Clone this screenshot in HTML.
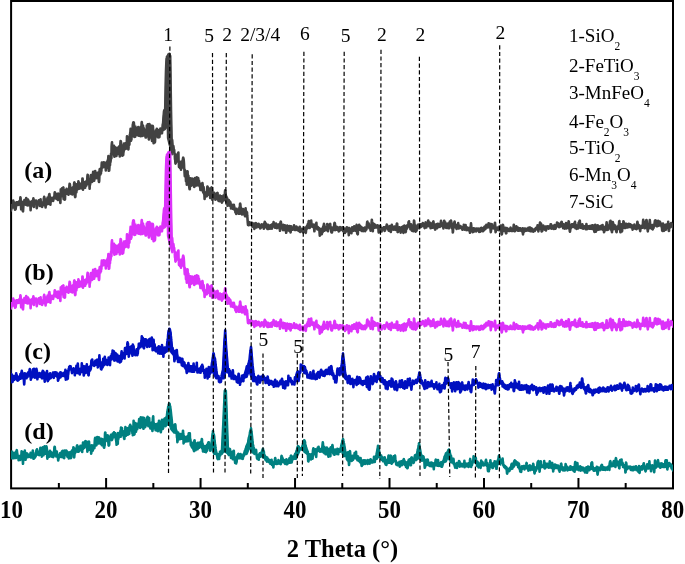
<!DOCTYPE html>
<html><head><meta charset="utf-8"><style>
html,body{margin:0;padding:0;background:#fff;overflow:hidden;width:685px;height:564px;}
svg{display:block;}
.txt{filter:grayscale(1);}
.tb{font-family:"Liberation Serif",serif;font-weight:bold;font-size:25.5px;fill:#000;}
.pl{font-family:"Liberation Serif",serif;font-size:19.5px;fill:#000;}
.lg{font-family:"Liberation Serif",serif;font-size:19px;fill:#000;}
.sb{font-size:11.5px;}
.sl{font-family:"Liberation Serif",serif;font-weight:bold;font-size:24px;fill:#000;}
.xt{font-family:"Liberation Serif",serif;font-weight:bold;font-size:25px;fill:#000;}
</style></head><body>
<svg width="685" height="564" viewBox="0 0 685 564">
<rect width="685" height="564" fill="#fff"/>
<defs><clipPath id="cp"><rect x="11.1" y="0" width="661.9" height="489"/></clipPath></defs>
<rect x="11.1" y="1" width="661.9" height="487.4" fill="none" stroke="#000" stroke-width="2"/>
<g clip-path="url(#cp)">
<polygon points="163.0,124.0 163.2,121.5 163.4,119.0 163.6,116.5 163.8,114.0 164.0,113.4 164.2,112.9 164.4,112.3 164.6,111.7 164.8,111.1 165.0,110.6 165.2,110.0 165.4,99.7 165.6,89.4 165.8,79.1 166.0,71.5 166.2,66.5 166.4,61.5 166.6,58.8 166.8,58.3 167.0,57.8 167.2,57.3 167.4,56.9 167.6,56.7 167.8,56.6 168.0,56.4 168.2,56.2 168.4,56.0 168.6,55.9 168.8,55.7 169.0,55.5 169.2,55.6 169.4,55.7 169.6,55.7 169.8,55.8 170.0,55.9 170.2,56.0 170.4,69.5 170.6,83.0 170.8,96.5 171.0,110.0 171.2,120.0 171.4,130.0 171.6,140.0 171.8,140.9 172.0,141.7 172.2,142.6 172.2,154.8 172.0,154.6 171.8,153.9 171.6,153.2 171.4,152.5 171.2,151.8 171.0,151.1 170.8,150.4 170.6,149.7 170.4,148.9 170.2,148.2 170.0,147.5 169.8,146.8 169.6,146.1 169.4,145.4 169.2,144.7 169.0,144.0 168.8,143.1 168.6,142.3 168.4,141.4 168.2,140.6 168.0,139.7 167.8,138.9 167.6,138.0 167.4,128.0 167.2,119.5 167.0,122.0 166.8,123.2 166.6,124.4 166.4,125.6 166.2,126.8 166.0,128.0 165.8,128.3 165.6,128.6 165.4,129.0 165.2,129.3 165.0,129.6 164.8,129.7 164.6,129.8 164.4,129.9 164.2,130.0 164.0,130.2 163.8,130.3 163.6,130.4 163.4,130.5 163.2,130.6 163.0,130.7" fill="#424242" stroke="#424242" stroke-width="1.5" stroke-linejoin="round"/>
<polyline points="9.0,205.7 9.2,206.6 9.4,205.8 9.6,202.8 9.8,206.9 10.0,206.2 10.2,204.7 10.4,208.6 10.6,209.8 10.8,210.7 11.0,210.1 11.2,209.6 11.4,206.0 11.6,205.8 11.8,205.3 12.0,207.4 12.2,206.5 12.4,206.0 12.6,205.2 12.8,206.3 13.0,204.8 13.2,200.5 13.4,204.0 13.6,207.5 13.8,202.1 14.0,203.6 14.2,206.7 14.4,206.2 14.6,207.3 14.8,207.2 15.0,209.6 15.2,204.5 15.4,205.8 15.6,209.3 15.8,207.2 16.0,207.0 16.2,204.7 16.4,202.3 16.6,205.5 16.8,205.1 17.0,202.4 17.2,203.2 17.4,204.1 17.6,202.3 17.8,203.7 18.0,203.8 18.2,203.5 18.4,202.4 18.6,204.3 18.8,204.8 19.0,203.6 19.2,201.4 19.4,204.2 19.6,201.8 19.8,204.3 20.0,200.8 20.2,200.6 20.4,197.3 20.6,198.1 20.8,202.5 21.0,206.6 21.2,209.3 21.4,207.0 21.6,203.5 21.8,203.0 22.0,201.8 22.2,203.1 22.4,207.4 22.6,209.5 22.8,211.2 23.0,211.3 23.2,208.7 23.4,205.2 23.6,204.7 23.8,203.2 24.0,204.4 24.2,202.1 24.4,200.1 24.6,202.6 24.8,202.0 25.0,204.4 25.2,203.3 25.4,200.1 25.6,200.8 25.8,204.8 26.0,202.4 26.2,198.0 26.4,199.8 26.6,203.5 26.8,204.3 27.0,205.1 27.2,204.0 27.4,203.3 27.6,203.0 27.8,205.5 28.0,199.5 28.2,203.2 28.4,203.6 28.6,200.8 28.8,204.0 29.0,202.1 29.2,204.9 29.4,203.0 29.6,204.5 29.8,205.4 30.0,203.8 30.2,202.5 30.4,205.3 30.6,210.2 30.8,206.8 31.0,201.9 31.2,203.1 31.4,202.4 31.6,204.4 31.8,202.8 32.0,202.8 32.2,201.4 32.4,203.7 32.6,200.8 32.8,204.0 33.0,205.5 33.2,199.8 33.4,198.4 33.6,203.7 33.8,207.0 34.0,200.6 34.2,200.1 34.4,203.5 34.6,200.8 34.8,201.3 35.0,201.5 35.2,203.2 35.4,201.4 35.6,202.6 35.8,201.7 36.0,200.5 36.2,201.4 36.4,202.1 36.6,207.2 36.8,208.2 37.0,205.7 37.2,206.8 37.4,202.0 37.6,202.0 37.8,203.2 38.0,201.5 38.2,201.9 38.4,203.2 38.6,203.0 38.8,200.4 39.0,204.2 39.2,201.6 39.4,200.8 39.6,201.2 39.8,202.2 40.0,206.0 40.2,200.9 40.4,203.5 40.6,199.4 40.8,203.3 41.0,205.1 41.2,203.0 41.4,202.2 41.6,203.9 41.8,204.8 42.0,204.8 42.2,207.0 42.4,203.9 42.6,202.3 42.8,203.2 43.0,203.3 43.2,203.5 43.4,203.2 43.6,203.5 43.8,198.3 44.0,199.5 44.2,196.9 44.4,197.6 44.6,202.3 44.8,205.4 45.0,203.8 45.2,203.0 45.4,200.9 45.6,207.5 45.8,204.1 46.0,200.2 46.2,200.8 46.4,202.3 46.6,199.3 46.8,202.4 47.0,201.1 47.2,204.3 47.4,203.8 47.6,197.5 47.8,201.9 48.0,198.9 48.2,203.9 48.4,202.1 48.6,201.4 48.8,196.3 49.0,195.9 49.2,194.4 49.4,194.0 49.6,195.7 49.8,197.9 50.0,201.3 50.2,198.8 50.4,204.6 50.6,199.1 50.8,200.3 51.0,201.7 51.2,199.4 51.4,200.0 51.6,199.3 51.8,200.0 52.0,197.9 52.2,199.2 52.4,199.5 52.6,199.1 52.8,199.8 53.0,199.0 53.2,200.9 53.4,198.7 53.6,198.9 53.8,197.8 54.0,197.9 54.2,196.4 54.4,197.7 54.6,193.2 54.8,192.3 55.0,192.4 55.2,193.5 55.4,194.5 55.6,194.3 55.8,198.3 56.0,197.8 56.2,194.8 56.4,198.6 56.6,195.7 56.8,194.8 57.0,196.9 57.2,196.2 57.4,196.9 57.6,193.7 57.8,199.9 58.0,195.1 58.2,193.6 58.4,197.3 58.6,195.3 58.8,196.5 59.0,195.2 59.2,195.7 59.4,196.3 59.6,194.4 59.8,197.2 60.0,197.7 60.2,201.6 60.4,203.0 60.6,194.6 60.8,189.3 61.0,189.3 61.2,193.6 61.4,190.3 61.6,189.6 61.8,189.2 62.0,188.4 62.2,190.6 62.4,192.5 62.6,196.1 62.8,192.1 63.0,189.0 63.2,188.1 63.4,187.4 63.6,199.1 63.8,189.8 64.0,191.3 64.2,196.3 64.4,190.9 64.6,190.5 64.8,199.7 65.0,199.3 65.2,193.8 65.4,191.4 65.6,193.0 65.8,190.0 66.0,192.8 66.2,192.3 66.4,190.3 66.6,188.9 66.8,191.2 67.0,189.7 67.2,193.7 67.4,191.8 67.6,193.1 67.8,191.7 68.0,191.9 68.2,189.6 68.4,192.7 68.6,194.8 68.8,190.4 69.0,189.7 69.2,189.7 69.4,185.6 69.6,183.8 69.8,183.9 70.0,185.1 70.2,191.9 70.4,190.9 70.6,191.6 70.8,193.0 71.0,190.3 71.2,194.0 71.4,189.7 71.6,188.8 71.8,188.2 72.0,193.1 72.2,192.1 72.4,194.5 72.6,187.5 72.8,193.9 73.0,190.9 73.2,189.6 73.4,189.0 73.6,190.1 73.8,190.4 74.0,185.2 74.2,182.9 74.4,182.4 74.6,183.0 74.8,191.1 75.0,196.5 75.2,197.1 75.4,196.5 75.6,190.9 75.8,190.9 76.0,189.2 76.2,190.2 76.4,192.3 76.6,184.2 76.8,189.2 77.0,186.0 77.2,189.6 77.4,185.2 77.6,186.8 77.8,188.1 78.0,187.0 78.2,184.0 78.4,181.4 78.6,182.1 78.8,186.1 79.0,185.9 79.2,183.2 79.4,188.6 79.6,187.5 79.8,188.4 80.0,185.6 80.2,188.1 80.4,183.8 80.6,187.5 80.8,184.9 81.0,187.5 81.2,188.2 81.4,184.2 81.6,185.7 81.8,185.9 82.0,188.4 82.2,185.6 82.4,178.5 82.6,178.5 82.8,182.0 83.0,189.8 83.2,181.7 83.4,184.0 83.6,188.1 83.8,182.0 84.0,182.2 84.2,186.1 84.4,187.0 84.6,183.0 84.8,185.7 85.0,184.6 85.2,187.6 85.4,184.0 85.6,186.1 85.8,181.6 86.0,183.0 86.2,183.0 86.4,185.7 86.6,184.2 86.8,180.9 87.0,184.1 87.2,181.2 87.4,176.3 87.6,174.8 87.8,175.1 88.0,175.2 88.2,181.0 88.4,181.9 88.6,179.2 88.8,182.8 89.0,179.0 89.2,183.0 89.4,185.0 89.6,188.8 89.8,182.3 90.0,184.9 90.2,183.8 90.4,181.0 90.6,182.8 90.8,177.6 91.0,175.1 91.2,181.6 91.4,176.9 91.6,178.7 91.8,176.7 92.0,181.9 92.2,181.4 92.4,177.5 92.6,181.3 92.8,176.0 93.0,173.1 93.2,171.8 93.4,172.7 93.6,176.4 93.8,179.0 94.0,177.6 94.2,180.8 94.4,176.8 94.6,177.3 94.8,175.2 95.0,175.2 95.2,171.1 95.4,176.6 95.6,175.0 95.8,176.3 96.0,175.2 96.2,178.1 96.4,176.5 96.6,173.5 96.8,173.2 97.0,174.2 97.2,173.6 97.4,177.7 97.6,178.1 97.8,176.6 98.0,175.0 98.2,172.6 98.4,173.5 98.6,175.9 98.8,181.1 99.0,181.9 99.2,180.9 99.4,176.2 99.6,170.0 99.8,169.0 100.0,170.0 100.2,170.6 100.4,174.4 100.6,169.5 100.8,172.5 101.0,173.2 101.2,168.6 101.4,170.9 101.6,165.0 101.8,162.6 102.0,165.4 102.2,167.1 102.4,166.3 102.6,166.1 102.8,166.7 103.0,167.3 103.2,163.9 103.4,165.8 103.6,162.3 103.8,166.1 104.0,166.9 104.2,165.5 104.4,165.6 104.6,166.3 104.8,162.8 105.0,163.7 105.2,165.7 105.4,167.0 105.6,165.4 105.8,170.5 106.0,164.1 106.2,167.1 106.4,167.8 106.6,164.2 106.8,162.4 107.0,161.6 107.2,165.2 107.4,167.7 107.6,165.0 107.8,162.5 108.0,159.3 108.2,159.2 108.4,156.1 108.6,168.3 108.8,170.8 109.0,170.3 109.2,170.5 109.4,167.7 109.6,165.5 109.8,161.2 110.0,165.1 110.2,159.2 110.4,162.2 110.6,161.1 110.8,159.2 111.0,153.8 111.2,154.7 111.4,158.2 111.6,146.3 111.8,143.9 112.0,142.3 112.2,145.9 112.4,147.8 112.6,152.9 112.8,148.4 113.0,154.1 113.2,153.1 113.4,147.0 113.6,153.2 113.8,152.3 114.0,145.8 114.2,152.1 114.4,156.6 114.6,147.8 114.8,146.9 115.0,148.4 115.2,149.9 115.4,149.7 115.6,152.9 115.8,151.8 116.0,147.7 116.2,152.5 116.4,156.0 116.6,154.2 116.8,153.6 117.0,150.8 117.2,153.6 117.4,148.0 117.6,152.9 117.8,150.5 118.0,154.0 118.2,152.0 118.4,147.3 118.6,150.7 118.8,153.5 119.0,146.6 119.2,148.1 119.4,151.4 119.6,153.2 119.8,156.4 120.0,155.3 120.2,149.8 120.4,143.5 120.6,141.0 120.8,141.3 121.0,142.1 121.2,149.4 121.4,153.7 121.6,153.7 121.8,149.8 122.0,151.9 122.2,150.9 122.4,155.7 122.6,151.4 122.8,145.4 123.0,151.5 123.2,154.9 123.4,151.8 123.6,152.0 123.8,149.3 124.0,143.6 124.2,143.6 124.4,144.7 124.6,147.4 124.8,148.4 125.0,149.2 125.2,145.6 125.4,149.0 125.6,144.8 125.8,143.1 126.0,148.4 126.2,148.4 126.4,145.0 126.6,143.7 126.8,143.0 127.0,136.2 127.2,140.8 127.4,140.4 127.6,137.3 127.8,137.7 128.0,144.5 128.2,147.2 128.4,149.5 128.6,147.0 128.8,140.7 129.0,140.9 129.2,145.0 129.4,144.5 129.6,138.2 129.8,134.8 130.0,138.9 130.2,133.0 130.4,132.0 130.6,128.9 130.8,131.1 131.0,140.7 131.2,133.4 131.4,139.6 131.6,134.9 131.8,136.7 132.0,136.2 132.2,130.8 132.4,133.6 132.6,128.7 132.8,124.7 133.0,124.1 133.2,122.8 133.4,122.3 133.6,122.3 133.8,122.5 134.0,124.1 134.2,126.0 134.4,136.9 134.6,136.5 134.8,130.9 135.0,130.6 135.2,136.8 135.4,126.5 135.6,130.1 135.8,134.6 136.0,128.9 136.2,130.1 136.4,130.4 136.6,133.6 136.8,131.9 137.0,132.7 137.2,133.4 137.4,131.7 137.6,135.2 137.8,129.4 138.0,127.7 138.2,127.0 138.4,127.5 138.6,130.5 138.8,135.7 139.0,133.2 139.2,130.8 139.4,129.5 139.6,131.3 139.8,131.9 140.0,131.5 140.2,128.9 140.4,131.8 140.6,136.3 140.8,126.8 141.0,132.3 141.2,126.8 141.4,128.0 141.6,123.1 141.8,122.1 142.0,125.4 142.2,135.9 142.4,132.8 142.6,135.6 142.8,132.0 143.0,125.6 143.2,133.7 143.4,131.0 143.6,127.8 143.8,134.8 144.0,133.5 144.2,131.1 144.4,135.4 144.6,130.2 144.8,134.9 145.0,130.1 145.2,134.9 145.4,129.9 145.6,137.4 145.8,134.3 146.0,137.4 146.2,131.0 146.4,132.0 146.6,135.9 146.8,125.6 147.0,130.0 147.2,136.2 147.4,132.4 147.6,130.4 147.8,124.4 148.0,124.7 148.2,124.4 148.4,125.1 148.6,131.9 148.8,139.2 149.0,139.5 149.2,136.2 149.4,124.0 149.6,125.7 149.8,129.3 150.0,131.7 150.2,129.1 150.4,128.4 150.6,125.4 150.8,137.4 151.0,128.3 151.2,136.9 151.4,136.8 151.6,133.1 151.8,131.9 152.0,140.9 152.2,140.5 152.4,133.2 152.6,126.4 152.8,125.9 153.0,127.3 153.2,134.8 153.4,138.0 153.6,143.3 153.8,141.0 154.0,136.9 154.2,133.3 154.4,135.6 154.6,141.8 154.8,142.4 155.0,141.8 155.2,138.0 155.4,135.5 155.6,132.2 155.8,130.4 156.0,135.3 156.2,134.8 156.4,130.5 156.6,135.9 156.8,128.7 157.0,133.6 157.2,132.1 157.4,132.4 157.6,130.7 157.8,136.9 158.0,135.9 158.2,137.5 158.4,134.6 158.6,130.0 158.8,132.8 159.0,130.3 159.2,135.3 159.4,137.2 159.6,134.6 159.8,131.5 160.0,132.1 160.2,133.8 160.4,128.5 160.6,133.4 160.8,133.4 161.0,130.9 161.2,131.0 161.4,132.5 161.6,129.0 161.8,128.6 162.0,133.3 162.2,129.2 162.4,129.0 162.6,125.8 162.8,124.1 163.0,124.5 163.2,121.9 163.4,118.8 163.6,116.1 163.8,114.1 164.0,111.3 164.2,110.6 164.4,110.2 164.6,111.6 164.8,109.7 165.0,110.4 165.2,110.2 165.4,99.7 165.6,89.5 165.8,79.1 166.0,71.4 166.2,66.2 166.4,61.7 166.6,58.5 166.8,59.2 167.0,56.6 167.2,56.7 167.4,56.6 167.6,57.5 167.8,57.5 168.0,55.4 168.2,54.9 168.4,54.4 168.6,56.4 168.8,55.1 169.0,54.5 169.2,55.0 169.4,53.7 169.6,54.1 169.8,56.0 170.0,55.7 170.2,55.9 170.4,69.4 170.6,83.0 170.8,96.6 171.0,109.9 171.2,120.0 171.4,129.9 171.6,140.0 171.8,139.6 172.0,139.7 172.2,140.4 172.4,143.0 172.6,145.4 172.8,145.7 173.0,146.0 173.2,149.0 173.4,146.1 173.6,147.7 173.8,152.4 174.0,149.5 174.2,150.1 174.4,154.1 174.6,153.2 174.8,155.6 175.0,159.3 175.2,159.7 175.4,163.0 175.6,163.6 175.8,162.6 176.0,155.2 176.2,158.1 176.4,154.8 176.6,156.8 176.8,158.0 177.0,154.5 177.2,161.5 177.4,157.9 177.6,159.6 177.8,155.0 178.0,153.3 178.2,154.4 178.4,152.5 178.6,162.0 178.8,161.0 179.0,166.9 179.2,166.9 179.4,166.2 179.6,167.0 179.8,166.9 180.0,168.0 180.2,167.0 180.4,167.0 180.6,166.1 180.8,161.7 181.0,169.6 181.2,163.4 181.4,162.8 181.6,165.7 181.8,166.4 182.0,166.3 182.2,163.4 182.4,167.5 182.6,160.3 182.8,160.4 183.0,158.3 183.2,157.7 183.4,158.4 183.6,159.1 183.8,161.2 184.0,163.9 184.2,168.9 184.4,169.2 184.6,173.2 184.8,176.1 185.0,170.2 185.2,173.8 185.4,175.7 185.6,175.6 185.8,176.2 186.0,181.1 186.2,180.6 186.4,181.0 186.6,180.9 186.8,184.6 187.0,177.4 187.2,172.3 187.4,171.2 187.6,171.5 187.8,179.4 188.0,178.2 188.2,180.8 188.4,175.8 188.6,182.7 188.8,178.7 189.0,179.5 189.2,186.6 189.4,188.2 189.6,189.3 189.8,189.3 190.0,180.9 190.2,181.6 190.4,178.2 190.6,181.7 190.8,183.9 191.0,178.6 191.2,185.7 191.4,180.9 191.6,179.0 191.8,181.4 192.0,183.6 192.2,178.7 192.4,181.8 192.6,178.8 192.8,184.8 193.0,182.4 193.2,181.1 193.4,184.6 193.6,179.4 193.8,181.4 194.0,186.6 194.2,182.2 194.4,186.9 194.6,185.0 194.8,181.4 195.0,178.0 195.2,179.0 195.4,179.4 195.6,181.3 195.8,181.5 196.0,180.2 196.2,183.8 196.4,184.6 196.6,185.5 196.8,177.4 197.0,177.9 197.2,179.0 197.4,180.2 197.6,184.4 197.8,182.8 198.0,178.9 198.2,178.1 198.4,180.9 198.6,185.5 198.8,184.5 199.0,180.8 199.2,183.1 199.4,185.7 199.6,183.9 199.8,186.6 200.0,187.0 200.2,185.6 200.4,190.0 200.6,184.1 200.8,188.5 201.0,185.8 201.2,185.5 201.4,188.8 201.6,186.6 201.8,190.1 202.0,184.3 202.2,183.8 202.4,183.0 202.6,184.2 202.8,186.6 203.0,188.3 203.2,192.4 203.4,187.9 203.6,187.1 203.8,190.2 204.0,193.2 204.2,194.1 204.4,194.1 204.6,199.0 204.8,194.2 205.0,196.3 205.2,194.3 205.4,196.8 205.6,194.1 205.8,195.8 206.0,195.6 206.2,193.2 206.4,192.0 206.6,191.7 206.8,196.1 207.0,191.1 207.2,188.1 207.4,186.5 207.6,186.6 207.8,188.4 208.0,192.5 208.2,189.5 208.4,194.0 208.6,193.1 208.8,194.4 209.0,194.0 209.2,195.1 209.4,193.1 209.6,194.5 209.8,188.5 210.0,192.9 210.2,198.0 210.4,192.8 210.6,192.8 210.8,192.9 211.0,188.7 211.2,192.4 211.4,188.0 211.6,187.4 211.8,188.7 212.0,190.1 212.2,197.8 212.4,199.8 212.6,199.5 212.8,194.0 213.0,197.7 213.2,192.6 213.4,193.0 213.6,194.3 213.8,193.1 214.0,192.7 214.2,194.1 214.4,195.9 214.6,195.5 214.8,197.9 215.0,195.8 215.2,194.9 215.4,199.7 215.6,196.1 215.8,198.5 216.0,197.1 216.2,198.8 216.4,193.6 216.6,195.5 216.8,195.9 217.0,196.5 217.2,193.1 217.4,197.5 217.6,193.0 217.8,199.0 218.0,199.8 218.2,200.1 218.4,196.6 218.6,201.0 218.8,197.5 219.0,196.9 219.2,197.5 219.4,197.8 219.6,199.9 219.8,201.2 220.0,195.5 220.2,198.5 220.4,201.3 220.6,200.0 220.8,200.6 221.0,196.5 221.2,201.3 221.4,196.3 221.6,199.7 221.8,201.8 222.0,202.6 222.2,200.1 222.4,200.6 222.6,197.6 222.8,197.7 223.0,200.8 223.2,198.4 223.4,198.0 223.6,195.3 223.8,198.3 224.0,199.2 224.2,196.1 224.4,196.5 224.6,200.0 224.8,194.3 225.0,191.6 225.2,190.3 225.4,190.9 225.6,192.4 225.8,197.5 226.0,196.5 226.2,201.7 226.4,196.5 226.6,197.8 226.8,200.4 227.0,198.4 227.2,198.4 227.4,202.7 227.6,205.8 227.8,201.5 228.0,201.9 228.2,200.1 228.4,199.8 228.6,202.3 228.8,200.1 229.0,200.8 229.2,201.9 229.4,203.6 229.6,202.1 229.8,205.7 230.0,201.5 230.2,205.9 230.4,202.2 230.6,203.8 230.8,205.1 231.0,208.4 231.2,206.7 231.4,204.6 231.6,208.0 231.8,205.5 232.0,204.8 232.2,207.4 232.4,207.0 232.6,208.8 232.8,206.4 233.0,208.3 233.2,209.0 233.4,208.6 233.6,207.1 233.8,204.8 234.0,206.0 234.2,206.4 234.4,209.0 234.6,209.2 234.8,210.1 235.0,208.6 235.2,210.8 235.4,212.3 235.6,211.4 235.8,213.0 236.0,212.4 236.2,214.0 236.4,211.4 236.6,208.9 236.8,212.3 237.0,211.2 237.2,209.8 237.4,212.4 237.6,211.7 237.8,211.9 238.0,210.5 238.2,211.3 238.4,211.3 238.6,213.7 238.8,209.5 239.0,210.6 239.2,211.2 239.4,207.6 239.6,207.7 239.8,213.8 240.0,204.1 240.2,203.7 240.4,204.5 240.6,208.9 240.8,207.4 241.0,209.3 241.2,212.3 241.4,208.7 241.6,212.2 241.8,211.8 242.0,214.5 242.2,210.7 242.4,213.6 242.6,213.1 242.8,211.2 243.0,209.0 243.2,214.3 243.4,209.6 243.6,211.2 243.8,213.5 244.0,213.9 244.2,210.7 244.4,212.2 244.6,211.9 244.8,214.3 245.0,216.2 245.2,209.6 245.4,214.2 245.6,208.4 245.8,212.8 246.0,211.0 246.2,216.1 246.4,213.3 246.6,211.9 246.8,212.4 247.0,212.3 247.2,215.5 247.4,217.4 247.6,220.1 247.8,222.9 248.0,224.8 248.2,222.3 248.4,221.8 248.6,222.9 248.8,225.3 249.0,223.5 249.2,223.1 249.4,224.1 249.6,222.2 249.8,222.6 250.0,224.8 250.2,223.8 250.4,223.6 250.6,224.7 250.8,223.5 251.0,223.4 251.2,223.8 251.4,225.2 251.6,224.5 251.8,222.9 252.0,224.0 252.2,225.3 252.4,226.8 252.6,223.0 252.8,225.0 253.0,224.2 253.2,225.6 253.4,225.1 253.6,226.4 253.8,225.3 254.0,224.3 254.2,226.3 254.4,228.9 254.6,227.6 254.8,228.1 255.0,226.9 255.2,223.4 255.4,225.4 255.6,223.4 255.8,223.1 256.0,226.2 256.2,226.0 256.4,224.1 256.6,227.5 256.8,224.3 257.0,224.2 257.2,226.5 257.4,226.0 257.6,225.6 257.8,225.8 258.0,226.2 258.2,225.8 258.4,225.8 258.6,223.7 258.8,224.3 259.0,226.8 259.2,225.2 259.4,226.7 259.6,227.5 259.8,225.5 260.0,226.3 260.2,228.4 260.4,226.7 260.6,228.1 260.8,227.7 261.0,226.7 261.2,225.6 261.4,224.6 261.6,224.3 261.8,226.2 262.0,226.2 262.2,225.4 262.4,226.6 262.6,224.8 262.8,226.9 263.0,225.6 263.2,225.6 263.4,225.6 263.6,225.5 263.8,228.6 264.0,223.8 264.2,225.1 264.4,224.8 264.6,222.8 264.8,221.7 265.0,225.1 265.2,223.5 265.4,224.6 265.6,226.9 265.8,224.6 266.0,223.6 266.2,227.5 266.4,227.5 266.6,227.5 266.8,226.1 267.0,227.0 267.2,225.7 267.4,228.9 267.6,227.9 267.8,227.9 268.0,224.7 268.2,228.1 268.4,228.9 268.6,228.6 268.8,228.1 269.0,227.1 269.2,226.7 269.4,227.8 269.6,227.5 269.8,227.3 270.0,226.5 270.2,228.8 270.4,225.3 270.6,226.6 270.8,225.9 271.0,227.7 271.2,228.1 271.4,227.8 271.6,227.2 271.8,224.5 272.0,228.6 272.2,226.7 272.4,225.9 272.6,226.0 272.8,224.7 273.0,224.5 273.2,223.5 273.4,222.9 273.6,222.0 273.8,225.0 274.0,226.5 274.2,226.6 274.4,225.8 274.6,226.5 274.8,227.2 275.0,225.5 275.2,227.8 275.4,223.9 275.6,224.6 275.8,225.0 276.0,223.5 276.2,224.9 276.4,227.6 276.6,227.6 276.8,226.2 277.0,228.1 277.2,226.4 277.4,225.5 277.6,226.4 277.8,225.9 278.0,227.0 278.2,224.5 278.4,227.4 278.6,225.7 278.8,227.3 279.0,224.6 279.2,225.9 279.4,226.5 279.6,228.8 279.8,228.0 280.0,230.8 280.2,227.1 280.4,222.7 280.6,222.1 280.8,221.6 281.0,222.5 281.2,227.0 281.4,227.4 281.6,226.8 281.8,227.0 282.0,228.2 282.2,227.9 282.4,226.6 282.6,226.8 282.8,228.4 283.0,230.2 283.2,224.7 283.4,228.5 283.6,227.4 283.8,228.5 284.0,228.6 284.2,227.6 284.4,226.3 284.6,225.8 284.8,225.3 285.0,230.3 285.2,230.1 285.4,230.3 285.6,229.2 285.8,226.8 286.0,230.4 286.2,232.8 286.4,231.6 286.6,226.6 286.8,229.1 287.0,226.7 287.2,225.5 287.4,226.3 287.6,226.7 287.8,227.8 288.0,226.7 288.2,226.2 288.4,227.7 288.6,230.2 288.8,227.3 289.0,228.6 289.2,228.2 289.4,231.0 289.6,226.0 289.8,229.4 290.0,226.7 290.2,227.5 290.4,227.9 290.6,232.5 290.8,230.0 291.0,226.4 291.2,228.6 291.4,227.4 291.6,228.1 291.8,228.4 292.0,228.6 292.2,228.3 292.4,228.8 292.6,229.0 292.8,229.6 293.0,228.2 293.2,227.8 293.4,227.5 293.6,228.1 293.8,226.0 294.0,225.2 294.2,226.2 294.4,229.1 294.6,229.1 294.8,229.9 295.0,227.7 295.2,227.9 295.4,228.8 295.6,227.8 295.8,229.9 296.0,227.7 296.2,229.2 296.4,226.6 296.6,228.0 296.8,228.8 297.0,228.9 297.2,227.3 297.4,229.4 297.6,230.3 297.8,230.0 298.0,228.6 298.2,228.7 298.4,228.1 298.6,230.0 298.8,230.9 299.0,228.8 299.2,227.7 299.4,229.7 299.6,230.3 299.8,226.9 300.0,229.8 300.2,232.0 300.4,230.7 300.6,230.4 300.8,230.4 301.0,231.2 301.2,229.2 301.4,229.3 301.6,230.8 301.8,229.7 302.0,230.8 302.2,228.7 302.4,231.5 302.6,231.7 302.8,230.9 303.0,231.2 303.2,232.5 303.4,229.6 303.6,229.6 303.8,229.3 304.0,229.8 304.2,229.0 304.4,230.0 304.6,229.0 304.8,228.0 305.0,227.7 305.2,230.5 305.4,231.0 305.6,232.5 305.8,232.9 306.0,230.9 306.2,229.5 306.4,228.6 306.6,227.0 306.8,226.5 307.0,226.0 307.2,225.6 307.4,228.5 307.6,225.5 307.8,224.1 308.0,225.2 308.2,225.0 308.4,225.1 308.6,221.7 308.8,221.0 309.0,221.2 309.2,223.7 309.4,227.2 309.6,228.0 309.8,226.0 310.0,222.7 310.2,223.7 310.4,224.6 310.6,226.9 310.8,225.2 311.0,223.9 311.2,220.6 311.4,222.8 311.6,225.5 311.8,224.1 312.0,225.7 312.2,226.1 312.4,224.6 312.6,226.1 312.8,227.0 313.0,225.1 313.2,225.1 313.4,224.8 313.6,224.5 313.8,225.5 314.0,225.7 314.2,229.3 314.4,231.3 314.6,228.1 314.8,225.3 315.0,226.2 315.2,224.6 315.4,225.4 315.6,228.3 315.8,227.8 316.0,225.1 316.2,224.7 316.4,222.7 316.6,226.8 316.8,226.6 317.0,227.6 317.2,229.2 317.4,226.8 317.6,229.4 317.8,227.2 318.0,228.5 318.2,228.1 318.4,228.4 318.6,228.9 318.8,228.8 319.0,227.9 319.2,230.1 319.4,230.1 319.6,233.0 319.8,235.6 320.0,235.2 320.2,233.5 320.4,231.0 320.6,229.0 320.8,230.7 321.0,231.7 321.2,230.6 321.4,230.8 321.6,232.6 321.8,234.1 322.0,231.2 322.2,228.5 322.4,230.6 322.6,232.3 322.8,231.4 323.0,229.3 323.2,226.5 323.4,229.0 323.6,229.2 323.8,224.8 324.0,223.8 324.2,226.2 324.4,228.5 324.6,230.6 324.8,229.1 325.0,229.2 325.2,229.5 325.4,228.9 325.6,229.6 325.8,229.9 326.0,229.5 326.2,228.0 326.4,228.6 326.6,230.1 326.8,226.0 327.0,225.2 327.2,224.1 327.4,224.5 327.6,225.0 327.8,226.0 328.0,231.2 328.2,228.1 328.4,225.3 328.6,224.8 328.8,225.2 329.0,225.3 329.2,227.4 329.4,226.2 329.6,225.4 329.8,224.6 330.0,224.3 330.2,223.9 330.4,226.9 330.6,228.6 330.8,228.8 331.0,227.2 331.2,230.7 331.4,232.4 331.6,232.3 331.8,231.7 332.0,232.4 332.2,229.0 332.4,229.5 332.6,230.7 332.8,227.7 333.0,227.6 333.2,228.3 333.4,229.1 333.6,227.1 333.8,229.7 334.0,228.0 334.2,224.9 334.4,223.3 334.6,222.9 334.8,223.1 335.0,224.0 335.2,230.1 335.4,228.0 335.6,228.8 335.8,227.8 336.0,228.8 336.2,229.7 336.4,227.6 336.6,226.8 336.8,228.0 337.0,227.2 337.2,227.7 337.4,228.4 337.6,228.5 337.8,230.0 338.0,227.6 338.2,229.1 338.4,228.2 338.6,230.2 338.8,231.5 339.0,229.1 339.2,230.6 339.4,228.2 339.6,227.2 339.8,227.5 340.0,227.2 340.2,227.9 340.4,228.6 340.6,230.1 340.8,229.7 341.0,229.5 341.2,228.5 341.4,228.2 341.6,229.1 341.8,229.2 342.0,229.4 342.2,229.5 342.4,229.1 342.6,227.3 342.8,228.1 343.0,228.4 343.2,231.2 343.4,229.0 343.6,230.2 343.8,231.1 344.0,229.9 344.2,229.2 344.4,229.3 344.6,228.6 344.8,230.4 345.0,232.9 345.2,232.5 345.4,231.1 345.6,230.5 345.8,231.9 346.0,229.1 346.2,230.0 346.4,230.6 346.6,231.1 346.8,227.3 347.0,229.2 347.2,229.6 347.4,228.7 347.6,230.7 347.8,230.0 348.0,229.3 348.2,228.0 348.4,230.3 348.6,232.7 348.8,235.1 349.0,232.6 349.2,229.6 349.4,228.1 349.6,229.0 349.8,231.3 350.0,232.1 350.2,229.0 350.4,230.5 350.6,231.0 350.8,231.1 351.0,231.7 351.2,232.5 351.4,233.3 351.6,230.0 351.8,230.1 352.0,230.2 352.2,227.4 352.4,229.3 352.6,229.7 352.8,230.8 353.0,230.9 353.2,230.3 353.4,228.7 353.6,229.0 353.8,230.7 354.0,228.3 354.2,226.4 354.4,227.2 354.6,228.3 354.8,228.0 355.0,229.1 355.2,230.2 355.4,229.3 355.6,230.7 355.8,230.9 356.0,227.7 356.2,226.7 356.4,226.0 356.6,224.9 356.8,227.4 357.0,229.8 357.2,233.4 357.4,233.8 357.6,233.6 357.8,234.3 358.0,230.6 358.2,229.2 358.4,228.6 358.6,229.0 358.8,227.9 359.0,226.7 359.2,224.8 359.4,226.2 359.6,228.9 359.8,229.8 360.0,228.4 360.2,226.2 360.4,226.3 360.6,226.6 360.8,227.5 361.0,226.8 361.2,229.8 361.4,228.9 361.6,230.9 361.8,229.7 362.0,227.8 362.2,227.5 362.4,230.3 362.6,228.0 362.8,229.7 363.0,228.6 363.2,231.2 363.4,229.0 363.6,230.5 363.8,230.3 364.0,228.3 364.2,228.4 364.4,230.4 364.6,228.7 364.8,227.6 365.0,229.9 365.2,231.2 365.4,228.4 365.6,229.9 365.8,228.1 366.0,229.7 366.2,227.8 366.4,229.6 366.6,228.6 366.8,225.5 367.0,223.9 367.2,222.0 367.4,221.7 367.6,222.7 367.8,225.3 368.0,226.1 368.2,225.7 368.4,223.7 368.6,223.4 368.8,224.3 369.0,227.0 369.2,226.8 369.4,228.3 369.6,225.6 369.8,226.0 370.0,226.1 370.2,226.8 370.4,228.5 370.6,230.6 370.8,230.2 371.0,225.9 371.2,226.0 371.4,225.3 371.6,222.6 371.8,219.8 372.0,221.2 372.2,222.2 372.4,224.9 372.6,226.8 372.8,231.2 373.0,227.6 373.2,227.5 373.4,224.6 373.6,225.3 373.8,223.8 374.0,224.0 374.2,227.1 374.4,226.9 374.6,225.5 374.8,227.7 375.0,227.0 375.2,224.7 375.4,225.9 375.6,225.9 375.8,226.3 376.0,226.8 376.2,225.8 376.4,226.5 376.6,227.5 376.8,226.8 377.0,226.7 377.2,226.8 377.4,227.1 377.6,225.2 377.8,227.7 378.0,226.4 378.2,227.9 378.4,227.8 378.6,231.9 378.8,232.5 379.0,231.0 379.2,231.3 379.4,228.9 379.6,229.7 379.8,228.6 380.0,225.7 380.2,226.0 380.4,226.7 380.6,229.8 380.8,229.6 381.0,229.8 381.2,228.0 381.4,230.2 381.6,231.5 381.8,230.0 382.0,229.3 382.2,229.5 382.4,228.2 382.6,229.4 382.8,228.0 383.0,229.2 383.2,228.7 383.4,228.1 383.6,229.7 383.8,227.3 384.0,228.9 384.2,227.3 384.4,230.7 384.6,230.8 384.8,229.6 385.0,230.6 385.2,229.1 385.4,229.0 385.6,227.8 385.8,227.2 386.0,228.3 386.2,227.4 386.4,227.0 386.6,226.1 386.8,224.5 387.0,224.9 387.2,227.5 387.4,226.8 387.6,227.2 387.8,226.3 388.0,228.9 388.2,229.6 388.4,226.5 388.6,229.8 388.8,230.8 389.0,228.3 389.2,228.4 389.4,229.0 389.6,228.4 389.8,229.3 390.0,226.1 390.2,226.6 390.4,228.7 390.6,230.7 390.8,232.0 391.0,230.5 391.2,228.6 391.4,227.0 391.6,228.3 391.8,224.8 392.0,229.7 392.2,227.3 392.4,226.3 392.6,228.7 392.8,226.5 393.0,228.6 393.2,227.7 393.4,228.9 393.6,229.1 393.8,229.7 394.0,227.7 394.2,227.9 394.4,228.3 394.6,226.6 394.8,228.9 395.0,228.4 395.2,226.7 395.4,229.6 395.6,229.8 395.8,226.6 396.0,228.8 396.2,229.6 396.4,229.1 396.6,225.3 396.8,223.6 397.0,223.5 397.2,223.8 397.4,227.5 397.6,232.0 397.8,232.2 398.0,228.2 398.2,228.0 398.4,231.2 398.6,228.1 398.8,229.1 399.0,228.6 399.2,228.5 399.4,227.2 399.6,228.9 399.8,228.2 400.0,229.2 400.2,231.4 400.4,231.2 400.6,232.7 400.8,232.0 401.0,231.6 401.2,231.4 401.4,228.0 401.6,227.3 401.8,228.2 402.0,227.7 402.2,227.6 402.4,227.3 402.6,229.9 402.8,226.6 403.0,228.5 403.2,231.2 403.4,232.9 403.6,229.8 403.8,228.9 404.0,227.5 404.2,227.3 404.4,225.5 404.6,228.6 404.8,227.8 405.0,227.6 405.2,228.5 405.4,230.8 405.6,232.1 405.8,231.8 406.0,228.8 406.2,226.4 406.4,226.1 406.6,226.9 406.8,226.6 407.0,228.6 407.2,227.6 407.4,225.9 407.6,225.2 407.8,226.2 408.0,224.5 408.2,224.1 408.4,223.0 408.6,222.0 408.8,221.8 409.0,221.3 409.2,223.9 409.4,223.9 409.6,226.1 409.8,227.2 410.0,226.5 410.2,226.5 410.4,229.2 410.6,227.7 410.8,229.0 411.0,224.2 411.2,225.8 411.4,228.6 411.6,229.2 411.8,230.6 412.0,230.2 412.2,230.1 412.4,230.8 412.6,226.2 412.8,226.4 413.0,225.5 413.2,227.6 413.4,229.9 413.6,231.2 413.8,224.7 414.0,220.6 414.2,220.9 414.4,223.1 414.6,227.5 414.8,227.0 415.0,225.4 415.2,228.3 415.4,231.3 415.6,231.6 415.8,229.0 416.0,228.2 416.2,228.6 416.4,228.5 416.6,230.8 416.8,227.1 417.0,226.5 417.2,226.1 417.4,226.1 417.6,226.1 417.8,224.7 418.0,227.1 418.2,226.4 418.4,226.4 418.6,227.6 418.8,227.6 419.0,227.8 419.2,228.3 419.4,226.7 419.6,224.1 419.8,226.2 420.0,225.9 420.2,225.9 420.4,225.0 420.6,224.6 420.8,226.7 421.0,226.8 421.2,224.2 421.4,226.2 421.6,225.3 421.8,225.0 422.0,226.3 422.2,225.4 422.4,224.7 422.6,225.5 422.8,223.0 423.0,224.7 423.2,224.8 423.4,223.7 423.6,225.6 423.8,225.7 424.0,224.6 424.2,225.1 424.4,226.8 424.6,228.1 424.8,226.0 425.0,227.5 425.2,225.4 425.4,223.4 425.6,222.4 425.8,223.0 426.0,224.7 426.2,223.9 426.4,227.5 426.6,224.3 426.8,225.5 427.0,225.2 427.2,225.7 427.4,224.4 427.6,223.3 427.8,225.0 428.0,221.4 428.2,220.5 428.4,221.3 428.6,223.9 428.8,225.3 429.0,226.3 429.2,225.9 429.4,225.1 429.6,225.3 429.8,224.1 430.0,222.8 430.2,224.8 430.4,223.9 430.6,228.3 430.8,227.2 431.0,226.8 431.2,224.7 431.4,228.0 431.6,223.5 431.8,224.1 432.0,224.7 432.2,224.5 432.4,225.9 432.6,226.0 432.8,227.6 433.0,223.6 433.2,221.6 433.4,221.4 433.6,223.0 433.8,225.2 434.0,224.2 434.2,225.0 434.4,225.6 434.6,228.1 434.8,226.9 435.0,228.9 435.2,229.6 435.4,226.6 435.6,226.4 435.8,225.4 436.0,225.0 436.2,224.2 436.4,225.7 436.6,225.7 436.8,226.9 437.0,227.9 437.2,228.2 437.4,227.1 437.6,223.7 437.8,225.3 438.0,226.0 438.2,226.7 438.4,226.4 438.6,225.7 438.8,224.0 439.0,224.4 439.2,226.5 439.4,224.5 439.6,226.6 439.8,226.9 440.0,224.0 440.2,225.9 440.4,224.0 440.6,224.9 440.8,222.3 441.0,220.8 441.2,222.5 441.4,222.6 441.6,224.9 441.8,225.9 442.0,225.8 442.2,226.1 442.4,224.6 442.6,223.6 442.8,225.4 443.0,224.8 443.2,225.0 443.4,228.5 443.6,227.4 443.8,225.6 444.0,222.0 444.2,220.7 444.4,221.4 444.6,224.0 444.8,224.9 445.0,224.0 445.2,222.3 445.4,223.9 445.6,222.9 445.8,226.8 446.0,227.2 446.2,227.9 446.4,227.3 446.6,225.6 446.8,226.3 447.0,225.2 447.2,227.4 447.4,227.4 447.6,227.8 447.8,225.0 448.0,223.6 448.2,225.3 448.4,224.9 448.6,228.1 448.8,227.9 449.0,225.6 449.2,228.3 449.4,227.8 449.6,223.9 449.8,221.5 450.0,222.1 450.2,222.1 450.4,223.8 450.6,221.7 450.8,223.8 451.0,220.6 451.2,221.3 451.4,224.1 451.6,223.3 451.8,224.5 452.0,226.1 452.2,228.6 452.4,228.5 452.6,227.8 452.8,232.4 453.0,231.6 453.2,227.5 453.4,227.0 453.6,225.7 453.8,225.1 454.0,223.3 454.2,223.0 454.4,222.2 454.6,221.5 454.8,223.8 455.0,227.3 455.2,227.0 455.4,224.8 455.6,226.8 455.8,226.6 456.0,227.0 456.2,227.0 456.4,228.3 456.6,228.9 456.8,228.0 457.0,225.9 457.2,226.3 457.4,226.5 457.6,225.4 457.8,224.2 458.0,223.8 458.2,223.1 458.4,225.7 458.6,228.2 458.8,228.5 459.0,227.2 459.2,227.9 459.4,226.3 459.6,226.2 459.8,226.7 460.0,228.0 460.2,227.2 460.4,226.0 460.6,227.5 460.8,227.9 461.0,227.6 461.2,226.7 461.4,227.6 461.6,227.0 461.8,227.2 462.0,227.5 462.2,228.5 462.4,229.8 462.6,229.5 462.8,228.5 463.0,227.3 463.2,227.5 463.4,227.5 463.6,229.2 463.8,224.9 464.0,228.3 464.2,225.7 464.4,228.0 464.6,229.6 464.8,227.0 465.0,225.6 465.2,228.6 465.4,227.1 465.6,225.1 465.8,227.7 466.0,227.1 466.2,229.5 466.4,230.1 466.6,229.0 466.8,228.6 467.0,229.8 467.2,229.6 467.4,227.6 467.6,230.0 467.8,229.4 468.0,228.8 468.2,230.1 468.4,229.8 468.6,229.7 468.8,228.4 469.0,230.0 469.2,228.0 469.4,230.3 469.6,229.8 469.8,230.9 470.0,232.8 470.2,231.6 470.4,230.9 470.6,229.5 470.8,226.1 471.0,223.3 471.2,225.2 471.4,228.0 471.6,229.3 471.8,229.7 472.0,229.5 472.2,229.2 472.4,229.6 472.6,230.2 472.8,232.1 473.0,229.1 473.2,230.6 473.4,228.4 473.6,231.7 473.8,229.7 474.0,230.2 474.2,231.4 474.4,231.1 474.6,228.5 474.8,230.7 475.0,229.9 475.2,230.8 475.4,230.4 475.6,231.0 475.8,230.6 476.0,230.1 476.2,231.5 476.4,228.6 476.6,229.8 476.8,229.3 477.0,230.1 477.2,229.8 477.4,230.1 477.6,229.7 477.8,229.8 478.0,228.5 478.2,230.2 478.4,230.6 478.6,229.6 478.8,229.5 479.0,229.5 479.2,231.9 479.4,230.4 479.6,230.6 479.8,229.8 480.0,229.6 480.2,229.1 480.4,231.6 480.6,228.0 480.8,230.0 481.0,229.6 481.2,229.2 481.4,227.7 481.6,227.9 481.8,230.2 482.0,228.3 482.2,229.9 482.4,229.6 482.6,230.3 482.8,231.2 483.0,229.8 483.2,230.7 483.4,231.0 483.6,228.0 483.8,230.3 484.0,227.5 484.2,228.0 484.4,226.9 484.6,228.4 484.8,227.1 485.0,227.6 485.2,226.5 485.4,229.1 485.6,225.8 485.8,228.1 486.0,227.8 486.2,227.3 486.4,224.7 486.6,226.0 486.8,225.2 487.0,225.1 487.2,226.0 487.4,226.3 487.6,227.5 487.8,225.6 488.0,227.2 488.2,226.9 488.4,224.6 488.6,223.2 488.8,225.9 489.0,225.7 489.2,227.2 489.4,225.7 489.6,224.9 489.8,223.8 490.0,225.2 490.2,224.7 490.4,226.6 490.6,230.1 490.8,232.1 491.0,230.8 491.2,227.7 491.4,226.8 491.6,224.6 491.8,224.2 492.0,226.8 492.2,225.6 492.4,227.8 492.6,226.9 492.8,225.7 493.0,227.0 493.2,228.4 493.4,226.8 493.6,225.8 493.8,226.4 494.0,226.3 494.2,226.0 494.4,225.7 494.6,225.5 494.8,223.6 495.0,222.7 495.2,225.1 495.4,229.9 495.6,232.1 495.8,230.8 496.0,229.4 496.2,228.9 496.4,228.5 496.6,228.8 496.8,230.0 497.0,228.1 497.2,228.9 497.4,227.6 497.6,228.6 497.8,228.1 498.0,228.1 498.2,228.7 498.4,228.5 498.6,229.5 498.8,230.0 499.0,227.4 499.2,230.2 499.4,226.6 499.6,229.4 499.8,229.9 500.0,228.4 500.2,228.8 500.4,228.2 500.6,230.0 500.8,225.5 501.0,227.8 501.2,228.1 501.4,232.1 501.6,233.9 501.8,234.4 502.0,233.4 502.2,231.7 502.4,227.1 502.6,226.6 502.8,224.9 503.0,225.0 503.2,226.1 503.4,228.2 503.6,230.1 503.8,230.4 504.0,230.8 504.2,228.2 504.4,228.7 504.6,230.7 504.8,229.5 505.0,230.2 505.2,227.9 505.4,229.1 505.6,230.3 505.8,231.9 506.0,233.4 506.2,232.1 506.4,233.2 506.6,230.1 506.8,228.1 507.0,230.9 507.2,229.8 507.4,230.5 507.6,229.5 507.8,228.9 508.0,228.9 508.2,230.1 508.4,230.6 508.6,230.2 508.8,230.4 509.0,230.9 509.2,229.9 509.4,230.7 509.6,230.8 509.8,229.8 510.0,229.4 510.2,229.0 510.4,228.1 510.6,227.7 510.8,230.8 511.0,229.3 511.2,228.7 511.4,230.9 511.6,230.3 511.8,229.2 512.0,230.2 512.2,228.8 512.4,229.4 512.6,230.9 512.8,230.1 513.0,228.6 513.2,229.6 513.4,229.6 513.6,226.3 513.8,224.7 514.0,228.4 514.2,228.0 514.4,227.4 514.6,229.0 514.8,231.3 515.0,229.6 515.2,230.0 515.4,226.7 515.6,228.4 515.8,230.4 516.0,228.0 516.2,228.4 516.4,226.3 516.6,227.0 516.8,229.9 517.0,228.7 517.2,228.8 517.4,229.4 517.6,229.6 517.8,227.5 518.0,230.7 518.2,229.6 518.4,229.2 518.6,230.1 518.8,229.0 519.0,230.7 519.2,229.5 519.4,230.2 519.6,228.4 519.8,229.1 520.0,229.8 520.2,228.3 520.4,228.6 520.6,229.3 520.8,230.6 521.0,230.2 521.2,230.4 521.4,229.7 521.6,230.4 521.8,231.1 522.0,229.6 522.2,230.0 522.4,230.1 522.6,228.4 522.8,232.9 523.0,234.4 523.2,232.9 523.4,229.4 523.6,230.8 523.8,229.2 524.0,229.7 524.2,231.7 524.4,228.5 524.6,230.0 524.8,229.9 525.0,230.0 525.2,229.6 525.4,230.8 525.6,229.0 525.8,228.7 526.0,230.7 526.2,228.9 526.4,230.6 526.6,230.1 526.8,229.4 527.0,229.7 527.2,229.9 527.4,230.5 527.6,229.3 527.8,229.7 528.0,228.4 528.2,229.6 528.4,227.9 528.6,229.8 528.8,229.3 529.0,230.7 529.2,228.5 529.4,227.6 529.6,230.1 529.8,230.3 530.0,228.8 530.2,227.6 530.4,231.3 530.6,230.6 530.8,228.1 531.0,230.9 531.2,231.2 531.4,229.6 531.6,231.2 531.8,228.5 532.0,230.1 532.2,230.4 532.4,231.2 532.6,230.8 532.8,230.6 533.0,230.9 533.2,229.5 533.4,231.7 533.6,229.7 533.8,230.9 534.0,229.9 534.2,229.6 534.4,230.4 534.6,230.2 534.8,231.0 535.0,230.7 535.2,228.8 535.4,229.9 535.6,229.4 535.8,228.3 536.0,227.9 536.2,229.3 536.4,228.4 536.6,227.5 536.8,228.8 537.0,229.1 537.2,229.0 537.4,227.0 537.6,225.2 537.8,226.1 538.0,226.6 538.2,228.5 538.4,231.4 538.6,229.3 538.8,228.4 539.0,226.8 539.2,229.3 539.4,227.5 539.6,229.0 539.8,224.6 540.0,222.6 540.2,224.1 540.4,223.7 540.6,224.3 540.8,224.2 541.0,223.5 541.2,225.2 541.4,228.0 541.6,231.4 541.8,231.5 542.0,229.4 542.2,231.0 542.4,229.5 542.6,229.8 542.8,228.7 543.0,228.3 543.2,225.5 543.4,227.2 543.6,227.0 543.8,229.3 544.0,228.7 544.2,229.2 544.4,229.3 544.6,228.7 544.8,228.7 545.0,227.0 545.2,226.5 545.4,229.9 545.6,229.1 545.8,226.7 546.0,230.4 546.2,227.4 546.4,228.7 546.6,228.6 546.8,228.1 547.0,228.6 547.2,226.3 547.4,227.8 547.6,227.4 547.8,227.8 548.0,227.3 548.2,226.8 548.4,226.7 548.6,228.6 548.8,226.5 549.0,227.9 549.2,227.9 549.4,227.3 549.6,228.0 549.8,228.1 550.0,226.9 550.2,227.4 550.4,228.3 550.6,224.2 550.8,224.2 551.0,224.2 551.2,228.2 551.4,225.2 551.6,227.6 551.8,228.7 552.0,226.6 552.2,227.5 552.4,226.8 552.6,226.1 552.8,227.6 553.0,228.2 553.2,227.1 553.4,227.8 553.6,228.3 553.8,228.9 554.0,225.9 554.2,228.1 554.4,226.5 554.6,225.0 554.8,226.2 555.0,227.8 555.2,227.3 555.4,225.5 555.6,228.6 555.8,227.1 556.0,226.4 556.2,225.7 556.4,226.8 556.6,224.8 556.8,224.9 557.0,222.6 557.2,222.6 557.4,222.9 557.6,223.0 557.8,226.3 558.0,224.4 558.2,225.4 558.4,225.5 558.6,224.5 558.8,226.5 559.0,223.7 559.2,227.2 559.4,224.6 559.6,226.5 559.8,226.9 560.0,224.3 560.2,224.5 560.4,226.5 560.6,225.7 560.8,225.6 561.0,223.4 561.2,222.4 561.4,222.5 561.6,221.9 561.8,222.0 562.0,224.0 562.2,226.3 562.4,226.7 562.6,226.9 562.8,225.8 563.0,224.1 563.2,228.3 563.4,226.0 563.6,228.2 563.8,224.4 564.0,227.3 564.2,226.4 564.4,225.7 564.6,228.2 564.8,228.6 565.0,226.5 565.2,228.0 565.4,226.0 565.6,226.5 565.8,225.4 566.0,223.0 566.2,226.0 566.4,225.8 566.6,228.4 566.8,228.3 567.0,226.9 567.2,225.6 567.4,224.2 567.6,226.9 567.8,226.0 568.0,227.0 568.2,223.9 568.4,223.0 568.6,221.3 568.8,221.4 569.0,223.1 569.2,225.2 569.4,229.1 569.6,229.0 569.8,231.4 570.0,231.7 570.2,230.2 570.4,227.9 570.6,228.8 570.8,226.3 571.0,225.3 571.2,226.0 571.4,225.9 571.6,225.2 571.8,224.2 572.0,226.0 572.2,225.6 572.4,225.5 572.6,227.0 572.8,224.3 573.0,224.7 573.2,226.1 573.4,227.0 573.6,226.7 573.8,226.9 574.0,223.5 574.2,226.7 574.4,226.7 574.6,227.1 574.8,223.5 575.0,221.9 575.2,224.2 575.4,228.3 575.6,226.8 575.8,224.9 576.0,226.6 576.2,227.4 576.4,227.3 576.6,228.9 576.8,226.5 577.0,225.5 577.2,226.0 577.4,227.6 577.6,225.9 577.8,225.7 578.0,226.0 578.2,228.4 578.4,225.5 578.6,222.7 578.8,224.6 579.0,226.2 579.2,222.4 579.4,221.3 579.6,220.8 579.8,220.6 580.0,223.4 580.2,226.2 580.4,227.7 580.6,227.0 580.8,226.1 581.0,227.6 581.2,225.1 581.4,228.0 581.6,227.1 581.8,227.2 582.0,226.4 582.2,228.2 582.4,224.4 582.6,226.0 582.8,227.7 583.0,226.2 583.2,228.7 583.4,227.5 583.6,226.0 583.8,228.2 584.0,226.8 584.2,227.6 584.4,226.2 584.6,226.3 584.8,227.8 585.0,227.2 585.2,226.2 585.4,226.1 585.6,227.9 585.8,229.2 586.0,226.3 586.2,228.1 586.4,224.0 586.6,225.8 586.8,228.2 587.0,229.2 587.2,227.6 587.4,228.1 587.6,227.8 587.8,228.7 588.0,226.2 588.2,228.2 588.4,226.9 588.6,227.0 588.8,227.4 589.0,227.1 589.2,226.4 589.4,226.9 589.6,226.0 589.8,228.8 590.0,227.8 590.2,226.4 590.4,228.7 590.6,228.2 590.8,227.2 591.0,225.9 591.2,226.8 591.4,227.1 591.6,228.0 591.8,226.1 592.0,225.6 592.2,228.9 592.4,227.9 592.6,226.6 592.8,225.2 593.0,226.8 593.2,227.6 593.4,227.1 593.6,227.2 593.8,226.5 594.0,230.1 594.2,230.4 594.4,231.9 594.6,230.2 594.8,227.8 595.0,228.8 595.2,224.7 595.4,226.8 595.6,225.5 595.8,227.1 596.0,231.7 596.2,229.1 596.4,227.2 596.6,229.4 596.8,226.7 597.0,227.5 597.2,226.0 597.4,227.6 597.6,225.4 597.8,227.4 598.0,227.1 598.2,229.8 598.4,227.3 598.6,227.1 598.8,226.9 599.0,226.2 599.2,228.6 599.4,229.4 599.6,227.4 599.8,228.7 600.0,227.5 600.2,228.4 600.4,228.5 600.6,226.4 600.8,227.1 601.0,229.1 601.2,225.8 601.4,228.0 601.6,227.6 601.8,226.9 602.0,228.1 602.2,228.3 602.4,228.6 602.6,225.0 602.8,229.8 603.0,227.4 603.2,229.1 603.4,227.8 603.6,227.2 603.8,228.3 604.0,232.2 604.2,231.8 604.4,230.7 604.6,230.2 604.8,230.1 605.0,228.4 605.2,227.8 605.4,227.4 605.6,226.3 605.8,228.4 606.0,228.8 606.2,229.9 606.4,224.3 606.6,222.3 606.8,223.7 607.0,229.3 607.2,228.6 607.4,228.8 607.6,228.2 607.8,229.9 608.0,228.3 608.2,228.3 608.4,225.7 608.6,229.3 608.8,225.4 609.0,226.7 609.2,226.5 609.4,227.3 609.6,225.7 609.8,222.9 610.0,221.4 610.2,221.2 610.4,220.8 610.6,220.8 610.8,222.5 611.0,226.0 611.2,228.0 611.4,230.4 611.6,230.1 611.8,231.7 612.0,232.1 612.2,229.1 612.4,226.2 612.6,224.1 612.8,222.0 613.0,222.8 613.2,226.5 613.4,225.8 613.6,229.1 613.8,225.0 614.0,224.6 614.2,226.5 614.4,225.6 614.6,228.7 614.8,226.6 615.0,227.8 615.2,225.5 615.4,228.0 615.6,228.0 615.8,228.7 616.0,229.4 616.2,231.2 616.4,232.0 616.6,232.1 616.8,230.0 617.0,229.2 617.2,226.7 617.4,228.2 617.6,227.1 617.8,226.6 618.0,226.6 618.2,229.0 618.4,225.5 618.6,225.5 618.8,228.0 619.0,223.1 619.2,221.4 619.4,221.0 619.6,225.9 619.8,225.8 620.0,228.8 620.2,230.9 620.4,232.3 620.6,231.6 620.8,228.2 621.0,227.9 621.2,228.9 621.4,224.4 621.6,227.2 621.8,230.1 622.0,231.4 622.2,230.0 622.4,224.6 622.6,227.4 622.8,225.5 623.0,225.6 623.2,226.4 623.4,221.2 623.6,221.5 623.8,223.0 624.0,224.9 624.2,226.2 624.4,227.9 624.6,225.8 624.8,226.7 625.0,226.4 625.2,223.8 625.4,224.6 625.6,228.0 625.8,225.2 626.0,225.5 626.2,224.0 626.4,225.2 626.6,224.1 626.8,225.0 627.0,226.4 627.2,224.8 627.4,225.1 627.6,227.5 627.8,226.5 628.0,226.6 628.2,227.2 628.4,225.3 628.6,225.5 628.8,223.7 629.0,227.0 629.2,225.8 629.4,226.1 629.6,224.8 629.8,226.9 630.0,226.9 630.2,226.3 630.4,224.3 630.6,225.1 630.8,226.1 631.0,225.2 631.2,226.7 631.4,227.5 631.6,225.4 631.8,226.1 632.0,225.6 632.2,227.7 632.4,227.6 632.6,229.6 632.8,226.7 633.0,225.6 633.2,227.3 633.4,226.6 633.6,227.1 633.8,228.4 634.0,226.7 634.2,227.9 634.4,224.5 634.6,228.4 634.8,227.3 635.0,226.8 635.2,226.5 635.4,228.7 635.6,226.5 635.8,228.5 636.0,226.4 636.2,227.0 636.4,227.3 636.6,229.2 636.8,227.1 637.0,226.3 637.2,223.7 637.4,221.7 637.6,222.5 637.8,227.3 638.0,228.2 638.2,225.6 638.4,226.6 638.6,224.9 638.8,227.5 639.0,227.1 639.2,226.4 639.4,225.3 639.6,227.7 639.8,229.0 640.0,229.4 640.2,231.2 640.4,229.1 640.6,228.5 640.8,226.6 641.0,226.3 641.2,228.1 641.4,226.2 641.6,227.5 641.8,226.0 642.0,225.6 642.2,227.3 642.4,226.7 642.6,227.7 642.8,227.2 643.0,221.8 643.2,219.8 643.4,223.2 643.6,224.5 643.8,224.2 644.0,224.1 644.2,225.1 644.4,225.6 644.6,225.8 644.8,228.3 645.0,224.4 645.2,225.8 645.4,223.3 645.6,222.0 645.8,221.6 646.0,221.4 646.2,220.3 646.4,221.1 646.6,220.1 646.8,223.1 647.0,224.8 647.2,227.3 647.4,228.9 647.6,229.7 647.8,231.4 648.0,229.1 648.2,227.3 648.4,226.4 648.6,228.0 648.8,225.5 649.0,225.7 649.2,228.1 649.4,223.6 649.6,221.6 649.8,220.1 650.0,222.2 650.2,225.1 650.4,226.6 650.6,227.6 650.8,227.1 651.0,227.9 651.2,227.7 651.4,226.6 651.6,227.7 651.8,228.8 652.0,227.1 652.2,225.1 652.4,226.9 652.6,226.3 652.8,229.4 653.0,227.4 653.2,225.0 653.4,226.1 653.6,228.0 653.8,224.7 654.0,225.5 654.2,226.0 654.4,225.7 654.6,223.2 654.8,221.6 655.0,220.5 655.2,221.4 655.4,220.7 655.6,220.3 655.8,220.9 656.0,222.9 656.2,223.6 656.4,224.7 656.6,225.6 656.8,226.3 657.0,226.3 657.2,223.7 657.4,225.4 657.6,226.0 657.8,224.8 658.0,223.3 658.2,220.7 658.4,221.0 658.6,221.3 658.8,225.8 659.0,224.7 659.2,224.4 659.4,224.4 659.6,224.8 659.8,223.6 660.0,221.9 660.2,223.2 660.4,222.9 660.6,223.1 660.8,223.4 661.0,225.7 661.2,225.6 661.4,225.9 661.6,226.0 661.8,227.4 662.0,227.8 662.2,230.6 662.4,230.9 662.6,227.2 662.8,225.7 663.0,223.6 663.2,225.0 663.4,225.9 663.6,228.5 663.8,230.3 664.0,230.8 664.2,230.5 664.4,226.4 664.6,225.5 664.8,225.0 665.0,226.7 665.2,225.9 665.4,226.6 665.6,225.7 665.8,229.6 666.0,226.4 666.2,224.5 666.4,225.4 666.6,224.9 666.8,226.3 667.0,226.6 667.2,225.8 667.4,225.0 667.6,224.4 667.8,227.2 668.0,226.6 668.2,221.9 668.4,228.0 668.6,229.2 668.8,230.9 669.0,231.0 669.2,227.2 669.4,224.6 669.6,228.0 669.8,224.4 670.0,224.7 670.2,226.4 670.4,224.4 670.6,225.1 670.8,225.3 671.0,226.8 671.2,223.1 671.4,224.0 671.6,225.0 671.8,226.3 672.0,224.4 672.2,225.8 672.4,224.6 672.6,224.8 672.8,226.9 673.0,225.1 673.2,228.8 673.4,226.0 673.6,226.9 673.8,226.5 674.0,223.6 674.2,223.7 674.4,226.2 674.6,224.2 674.8,224.9 675.0,225.2" fill="none" stroke="#424242" stroke-width="2.6" stroke-linejoin="round"/>
<polygon points="163.0,222.0 163.2,219.5 163.4,217.0 163.6,214.5 163.8,212.0 164.0,211.4 164.2,210.9 164.4,210.3 164.6,209.7 164.8,209.1 165.0,208.6 165.2,208.0 165.4,197.7 165.6,187.4 165.8,177.1 166.0,169.5 166.2,164.5 166.4,159.5 166.6,156.8 166.8,156.3 167.0,155.8 167.2,155.3 167.4,154.9 167.6,154.7 167.8,154.6 168.0,154.4 168.2,154.2 168.4,154.0 168.6,153.9 168.8,153.7 169.0,153.5 169.2,153.6 169.4,153.7 169.6,153.7 169.8,153.8 170.0,153.9 170.2,154.0 170.4,167.5 170.6,181.0 170.8,194.5 171.0,208.0 171.2,218.0 171.4,228.0 171.6,238.0 171.8,238.9 172.0,239.7 172.2,240.6 172.2,252.8 172.0,252.6 171.8,251.9 171.6,251.2 171.4,250.5 171.2,249.8 171.0,249.1 170.8,248.4 170.6,247.7 170.4,246.9 170.2,246.2 170.0,245.5 169.8,244.8 169.6,244.1 169.4,243.4 169.2,242.7 169.0,242.0 168.8,241.1 168.6,240.3 168.4,239.4 168.2,238.6 168.0,237.7 167.8,236.9 167.6,236.0 167.4,226.0 167.2,217.5 167.0,220.0 166.8,221.2 166.6,222.4 166.4,223.6 166.2,224.8 166.0,226.0 165.8,226.3 165.6,226.6 165.4,227.0 165.2,227.3 165.0,227.6 164.8,227.7 164.6,227.8 164.4,227.9 164.2,228.0 164.0,228.2 163.8,228.3 163.6,228.4 163.4,228.5 163.2,228.6 163.0,228.7" fill="#dc32fa" stroke="#dc32fa" stroke-width="1.5" stroke-linejoin="round"/>
<polyline points="9.0,303.7 9.2,304.6 9.4,303.8 9.6,300.8 9.8,304.9 10.0,304.2 10.2,302.7 10.4,306.6 10.6,307.8 10.8,308.7 11.0,308.1 11.2,307.6 11.4,304.0 11.6,303.8 11.8,303.3 12.0,305.4 12.2,304.5 12.4,304.0 12.6,303.2 12.8,304.3 13.0,302.8 13.2,298.5 13.4,302.0 13.6,305.5 13.8,300.1 14.0,301.6 14.2,304.7 14.4,304.2 14.6,305.3 14.8,305.2 15.0,307.6 15.2,302.5 15.4,303.8 15.6,307.3 15.8,305.2 16.0,305.0 16.2,302.7 16.4,300.3 16.6,303.5 16.8,303.1 17.0,300.4 17.2,301.2 17.4,302.1 17.6,300.3 17.8,301.7 18.0,301.8 18.2,301.5 18.4,300.4 18.6,302.3 18.8,302.8 19.0,301.6 19.2,299.4 19.4,302.2 19.6,299.8 19.8,302.3 20.0,298.8 20.2,298.6 20.4,295.3 20.6,296.1 20.8,300.5 21.0,304.6 21.2,307.3 21.4,305.0 21.6,301.5 21.8,301.0 22.0,299.8 22.2,301.1 22.4,305.4 22.6,307.5 22.8,309.2 23.0,309.3 23.2,306.7 23.4,303.2 23.6,302.7 23.8,301.2 24.0,302.4 24.2,300.1 24.4,298.1 24.6,300.6 24.8,300.0 25.0,302.4 25.2,301.3 25.4,298.1 25.6,298.8 25.8,302.8 26.0,300.4 26.2,296.0 26.4,297.8 26.6,301.5 26.8,302.3 27.0,303.1 27.2,302.0 27.4,301.3 27.6,301.0 27.8,303.5 28.0,297.5 28.2,301.2 28.4,301.6 28.6,298.8 28.8,302.0 29.0,300.1 29.2,302.9 29.4,301.0 29.6,302.5 29.8,303.4 30.0,301.8 30.2,300.5 30.4,303.3 30.6,308.2 30.8,304.8 31.0,299.9 31.2,301.1 31.4,300.4 31.6,302.4 31.8,300.8 32.0,300.8 32.2,299.4 32.4,301.7 32.6,298.8 32.8,302.0 33.0,303.5 33.2,297.8 33.4,296.4 33.6,301.7 33.8,305.0 34.0,298.6 34.2,298.1 34.4,301.5 34.6,298.8 34.8,299.3 35.0,299.5 35.2,301.2 35.4,299.4 35.6,300.6 35.8,299.7 36.0,298.5 36.2,299.4 36.4,300.1 36.6,305.2 36.8,306.2 37.0,303.7 37.2,304.8 37.4,300.0 37.6,300.0 37.8,301.2 38.0,299.5 38.2,299.9 38.4,301.2 38.6,301.0 38.8,298.4 39.0,302.2 39.2,299.6 39.4,298.8 39.6,299.2 39.8,300.2 40.0,304.0 40.2,298.9 40.4,301.5 40.6,297.4 40.8,301.3 41.0,303.1 41.2,301.0 41.4,300.2 41.6,301.9 41.8,302.8 42.0,302.8 42.2,305.0 42.4,301.9 42.6,300.3 42.8,301.2 43.0,301.3 43.2,301.5 43.4,301.2 43.6,301.5 43.8,296.3 44.0,297.5 44.2,294.9 44.4,295.6 44.6,300.3 44.8,303.4 45.0,301.8 45.2,301.0 45.4,298.9 45.6,305.5 45.8,302.1 46.0,298.2 46.2,298.8 46.4,300.3 46.6,297.3 46.8,300.4 47.0,299.1 47.2,302.3 47.4,301.8 47.6,295.5 47.8,299.9 48.0,296.9 48.2,301.9 48.4,300.1 48.6,299.4 48.8,294.3 49.0,293.9 49.2,292.4 49.4,292.0 49.6,293.7 49.8,295.9 50.0,299.3 50.2,296.8 50.4,302.6 50.6,297.1 50.8,298.3 51.0,299.7 51.2,297.4 51.4,298.0 51.6,297.3 51.8,298.0 52.0,295.9 52.2,297.2 52.4,297.5 52.6,297.1 52.8,297.8 53.0,297.0 53.2,298.9 53.4,296.7 53.6,296.9 53.8,295.8 54.0,295.9 54.2,294.4 54.4,295.7 54.6,291.2 54.8,290.3 55.0,290.4 55.2,291.5 55.4,292.5 55.6,292.3 55.8,296.3 56.0,295.8 56.2,292.8 56.4,296.6 56.6,293.7 56.8,292.8 57.0,294.9 57.2,294.2 57.4,294.9 57.6,291.7 57.8,297.9 58.0,293.1 58.2,291.6 58.4,295.3 58.6,293.3 58.8,294.5 59.0,293.2 59.2,293.7 59.4,294.3 59.6,292.4 59.8,295.2 60.0,295.7 60.2,299.6 60.4,301.0 60.6,292.6 60.8,287.3 61.0,287.3 61.2,291.6 61.4,288.3 61.6,287.6 61.8,287.2 62.0,286.4 62.2,288.6 62.4,290.5 62.6,294.1 62.8,290.1 63.0,287.0 63.2,286.1 63.4,285.4 63.6,297.1 63.8,287.8 64.0,289.3 64.2,294.3 64.4,288.9 64.6,288.5 64.8,297.7 65.0,297.3 65.2,291.8 65.4,289.4 65.6,291.0 65.8,288.0 66.0,290.8 66.2,290.3 66.4,288.3 66.6,286.9 66.8,289.2 67.0,287.7 67.2,291.7 67.4,289.8 67.6,291.1 67.8,289.7 68.0,289.9 68.2,287.6 68.4,290.7 68.6,292.8 68.8,288.4 69.0,287.7 69.2,287.7 69.4,283.6 69.6,281.8 69.8,281.9 70.0,283.1 70.2,289.9 70.4,288.9 70.6,289.6 70.8,291.0 71.0,288.3 71.2,292.0 71.4,287.7 71.6,286.8 71.8,286.2 72.0,291.1 72.2,290.1 72.4,292.5 72.6,285.5 72.8,291.9 73.0,288.9 73.2,287.6 73.4,287.0 73.6,288.1 73.8,288.4 74.0,283.2 74.2,280.9 74.4,280.4 74.6,281.0 74.8,289.1 75.0,294.5 75.2,295.1 75.4,294.5 75.6,288.9 75.8,288.9 76.0,287.2 76.2,288.2 76.4,290.3 76.6,282.2 76.8,287.2 77.0,284.0 77.2,287.6 77.4,283.2 77.6,284.8 77.8,286.1 78.0,285.0 78.2,282.0 78.4,279.4 78.6,280.1 78.8,284.1 79.0,283.9 79.2,281.2 79.4,286.6 79.6,285.5 79.8,286.4 80.0,283.6 80.2,286.1 80.4,281.8 80.6,285.5 80.8,282.9 81.0,285.5 81.2,286.2 81.4,282.2 81.6,283.7 81.8,283.9 82.0,286.4 82.2,283.6 82.4,276.5 82.6,276.5 82.8,280.0 83.0,287.8 83.2,279.7 83.4,282.0 83.6,286.1 83.8,280.0 84.0,280.2 84.2,284.1 84.4,285.0 84.6,281.0 84.8,283.7 85.0,282.6 85.2,285.6 85.4,282.0 85.6,284.1 85.8,279.6 86.0,281.0 86.2,281.0 86.4,283.7 86.6,282.2 86.8,278.9 87.0,282.1 87.2,279.2 87.4,274.3 87.6,272.8 87.8,273.1 88.0,273.2 88.2,279.0 88.4,279.9 88.6,277.2 88.8,280.8 89.0,277.0 89.2,281.0 89.4,283.0 89.6,286.8 89.8,280.3 90.0,282.9 90.2,281.8 90.4,279.0 90.6,280.8 90.8,275.6 91.0,273.1 91.2,279.6 91.4,274.9 91.6,276.7 91.8,274.7 92.0,279.9 92.2,279.4 92.4,275.5 92.6,279.3 92.8,274.0 93.0,271.1 93.2,269.8 93.4,270.7 93.6,274.4 93.8,277.0 94.0,275.6 94.2,278.8 94.4,274.8 94.6,275.3 94.8,273.2 95.0,273.2 95.2,269.1 95.4,274.6 95.6,273.0 95.8,274.3 96.0,273.2 96.2,276.1 96.4,274.5 96.6,271.5 96.8,271.2 97.0,272.2 97.2,271.6 97.4,275.7 97.6,276.1 97.8,274.6 98.0,273.0 98.2,270.6 98.4,271.5 98.6,273.9 98.8,279.1 99.0,279.9 99.2,278.9 99.4,274.2 99.6,268.0 99.8,267.0 100.0,268.0 100.2,268.6 100.4,272.4 100.6,267.5 100.8,270.5 101.0,271.2 101.2,266.6 101.4,268.9 101.6,263.0 101.8,260.6 102.0,263.4 102.2,265.1 102.4,264.3 102.6,264.1 102.8,264.7 103.0,265.3 103.2,261.9 103.4,263.8 103.6,260.3 103.8,264.1 104.0,264.9 104.2,263.5 104.4,263.6 104.6,264.3 104.8,260.8 105.0,261.7 105.2,263.7 105.4,265.0 105.6,263.4 105.8,268.5 106.0,262.1 106.2,265.1 106.4,265.8 106.6,262.2 106.8,260.4 107.0,259.6 107.2,263.2 107.4,265.7 107.6,263.0 107.8,260.5 108.0,257.3 108.2,257.2 108.4,254.1 108.6,266.3 108.8,268.8 109.0,268.3 109.2,268.5 109.4,265.7 109.6,263.5 109.8,259.2 110.0,263.1 110.2,257.2 110.4,260.2 110.6,259.1 110.8,257.2 111.0,251.8 111.2,252.7 111.4,256.2 111.6,244.3 111.8,241.9 112.0,240.3 112.2,243.9 112.4,245.8 112.6,250.9 112.8,246.4 113.0,252.1 113.2,251.1 113.4,245.0 113.6,251.2 113.8,250.3 114.0,243.8 114.2,250.1 114.4,254.6 114.6,245.8 114.8,244.9 115.0,246.4 115.2,247.9 115.4,247.7 115.6,250.9 115.8,249.8 116.0,245.7 116.2,250.5 116.4,254.0 116.6,252.2 116.8,251.6 117.0,248.8 117.2,251.6 117.4,246.0 117.6,250.9 117.8,248.5 118.0,252.0 118.2,250.0 118.4,245.3 118.6,248.7 118.8,251.5 119.0,244.6 119.2,246.1 119.4,249.4 119.6,251.2 119.8,254.4 120.0,253.3 120.2,247.8 120.4,241.5 120.6,239.0 120.8,239.3 121.0,240.1 121.2,247.4 121.4,251.7 121.6,251.7 121.8,247.8 122.0,249.9 122.2,248.9 122.4,253.7 122.6,249.4 122.8,243.4 123.0,249.5 123.2,252.9 123.4,249.8 123.6,250.0 123.8,247.3 124.0,241.6 124.2,241.6 124.4,242.7 124.6,245.4 124.8,246.4 125.0,247.2 125.2,243.6 125.4,247.0 125.6,242.8 125.8,241.1 126.0,246.4 126.2,246.4 126.4,243.0 126.6,241.7 126.8,241.0 127.0,234.2 127.2,238.8 127.4,238.4 127.6,235.3 127.8,235.7 128.0,242.5 128.2,245.2 128.4,247.5 128.6,245.0 128.8,238.7 129.0,238.9 129.2,243.0 129.4,242.5 129.6,236.2 129.8,232.8 130.0,236.9 130.2,231.0 130.4,230.0 130.6,226.9 130.8,229.1 131.0,238.7 131.2,231.4 131.4,237.6 131.6,232.9 131.8,234.7 132.0,234.2 132.2,228.8 132.4,231.6 132.6,226.7 132.8,222.7 133.0,222.1 133.2,220.8 133.4,220.3 133.6,220.3 133.8,220.5 134.0,222.1 134.2,224.0 134.4,234.9 134.6,234.5 134.8,228.9 135.0,228.6 135.2,234.8 135.4,224.5 135.6,228.1 135.8,232.6 136.0,226.9 136.2,228.1 136.4,228.4 136.6,231.6 136.8,229.9 137.0,230.7 137.2,231.4 137.4,229.7 137.6,233.2 137.8,227.4 138.0,225.7 138.2,225.0 138.4,225.5 138.6,228.5 138.8,233.7 139.0,231.2 139.2,228.8 139.4,227.5 139.6,229.3 139.8,229.9 140.0,229.5 140.2,226.9 140.4,229.8 140.6,234.3 140.8,224.8 141.0,230.3 141.2,224.8 141.4,226.0 141.6,221.1 141.8,220.1 142.0,223.4 142.2,233.9 142.4,230.8 142.6,233.6 142.8,230.0 143.0,223.6 143.2,231.7 143.4,229.0 143.6,225.8 143.8,232.8 144.0,231.5 144.2,229.1 144.4,233.4 144.6,228.2 144.8,232.9 145.0,228.1 145.2,232.9 145.4,227.9 145.6,235.4 145.8,232.3 146.0,235.4 146.2,229.0 146.4,230.0 146.6,233.9 146.8,223.6 147.0,228.0 147.2,234.2 147.4,230.4 147.6,228.4 147.8,222.4 148.0,222.7 148.2,222.4 148.4,223.1 148.6,229.9 148.8,237.2 149.0,237.5 149.2,234.2 149.4,222.0 149.6,223.7 149.8,227.3 150.0,229.7 150.2,227.1 150.4,226.4 150.6,223.4 150.8,235.4 151.0,226.3 151.2,234.9 151.4,234.8 151.6,231.1 151.8,229.9 152.0,238.9 152.2,238.5 152.4,231.2 152.6,224.4 152.8,223.9 153.0,225.3 153.2,232.8 153.4,236.0 153.6,241.3 153.8,239.0 154.0,234.9 154.2,231.3 154.4,233.6 154.6,239.8 154.8,240.4 155.0,239.8 155.2,236.0 155.4,233.5 155.6,230.2 155.8,228.4 156.0,233.3 156.2,232.8 156.4,228.5 156.6,233.9 156.8,226.7 157.0,231.6 157.2,230.1 157.4,230.4 157.6,228.7 157.8,234.9 158.0,233.9 158.2,235.5 158.4,232.6 158.6,228.0 158.8,230.8 159.0,228.3 159.2,233.3 159.4,235.2 159.6,232.6 159.8,229.5 160.0,230.1 160.2,231.8 160.4,226.5 160.6,231.4 160.8,231.4 161.0,228.9 161.2,229.0 161.4,230.5 161.6,227.0 161.8,226.6 162.0,231.3 162.2,227.2 162.4,227.0 162.6,223.8 162.8,222.1 163.0,222.5 163.2,219.9 163.4,216.8 163.6,214.1 163.8,212.1 164.0,209.3 164.2,208.6 164.4,208.2 164.6,209.6 164.8,207.7 165.0,208.4 165.2,208.2 165.4,197.7 165.6,187.5 165.8,177.1 166.0,169.4 166.2,164.2 166.4,159.7 166.6,156.5 166.8,157.2 167.0,154.6 167.2,154.7 167.4,154.6 167.6,155.5 167.8,155.5 168.0,153.4 168.2,152.9 168.4,152.4 168.6,154.4 168.8,153.1 169.0,152.5 169.2,153.0 169.4,151.7 169.6,152.1 169.8,154.0 170.0,153.7 170.2,153.9 170.4,167.4 170.6,181.0 170.8,194.6 171.0,207.9 171.2,218.0 171.4,227.9 171.6,238.0 171.8,237.6 172.0,237.7 172.2,238.4 172.4,241.0 172.6,243.4 172.8,243.7 173.0,244.0 173.2,247.0 173.4,244.1 173.6,245.7 173.8,250.4 174.0,247.5 174.2,248.1 174.4,252.1 174.6,251.2 174.8,253.6 175.0,257.3 175.2,257.7 175.4,261.0 175.6,261.6 175.8,260.6 176.0,253.2 176.2,256.1 176.4,252.8 176.6,254.8 176.8,256.0 177.0,252.5 177.2,259.5 177.4,255.9 177.6,257.6 177.8,253.0 178.0,251.3 178.2,252.4 178.4,250.5 178.6,260.0 178.8,259.0 179.0,264.9 179.2,264.9 179.4,264.2 179.6,265.0 179.8,264.9 180.0,266.0 180.2,265.0 180.4,265.0 180.6,264.1 180.8,259.7 181.0,267.6 181.2,261.4 181.4,260.8 181.6,263.7 181.8,264.4 182.0,264.3 182.2,261.4 182.4,265.5 182.6,258.3 182.8,258.4 183.0,256.3 183.2,255.7 183.4,256.4 183.6,257.1 183.8,259.2 184.0,261.9 184.2,266.9 184.4,267.2 184.6,271.2 184.8,274.1 185.0,268.2 185.2,271.8 185.4,273.7 185.6,273.6 185.8,274.2 186.0,279.1 186.2,278.6 186.4,279.0 186.6,278.9 186.8,282.6 187.0,275.4 187.2,270.3 187.4,269.2 187.6,269.5 187.8,277.4 188.0,276.2 188.2,278.8 188.4,273.8 188.6,280.7 188.8,276.7 189.0,277.5 189.2,284.6 189.4,286.2 189.6,287.3 189.8,287.3 190.0,278.9 190.2,279.6 190.4,276.2 190.6,279.7 190.8,281.9 191.0,276.6 191.2,283.7 191.4,278.9 191.6,277.0 191.8,279.4 192.0,281.6 192.2,276.7 192.4,279.8 192.6,276.8 192.8,282.8 193.0,280.4 193.2,279.1 193.4,282.6 193.6,277.4 193.8,279.4 194.0,284.6 194.2,280.2 194.4,284.9 194.6,283.0 194.8,279.4 195.0,276.0 195.2,277.0 195.4,277.4 195.6,279.3 195.8,279.5 196.0,278.2 196.2,281.8 196.4,282.6 196.6,283.5 196.8,275.4 197.0,275.9 197.2,277.0 197.4,278.2 197.6,282.4 197.8,280.8 198.0,276.9 198.2,276.1 198.4,278.9 198.6,283.5 198.8,282.5 199.0,278.8 199.2,281.1 199.4,283.7 199.6,281.9 199.8,284.6 200.0,285.0 200.2,283.6 200.4,288.0 200.6,282.1 200.8,286.5 201.0,283.8 201.2,283.5 201.4,286.8 201.6,284.6 201.8,288.1 202.0,282.3 202.2,281.8 202.4,281.0 202.6,282.2 202.8,284.6 203.0,286.3 203.2,290.4 203.4,285.9 203.6,285.1 203.8,288.2 204.0,291.2 204.2,292.1 204.4,292.1 204.6,297.0 204.8,292.2 205.0,294.3 205.2,292.3 205.4,294.8 205.6,292.1 205.8,293.8 206.0,293.6 206.2,291.2 206.4,290.0 206.6,289.7 206.8,294.1 207.0,289.1 207.2,286.1 207.4,284.5 207.6,284.6 207.8,286.4 208.0,290.5 208.2,287.5 208.4,292.0 208.6,291.1 208.8,292.4 209.0,292.0 209.2,293.1 209.4,291.1 209.6,292.5 209.8,286.5 210.0,290.9 210.2,296.0 210.4,290.8 210.6,290.8 210.8,290.9 211.0,286.7 211.2,290.4 211.4,286.0 211.6,285.4 211.8,286.7 212.0,288.1 212.2,295.8 212.4,297.8 212.6,297.5 212.8,292.0 213.0,295.7 213.2,290.6 213.4,291.0 213.6,292.3 213.8,291.1 214.0,290.7 214.2,292.1 214.4,293.9 214.6,293.5 214.8,295.9 215.0,293.8 215.2,292.9 215.4,297.7 215.6,294.1 215.8,296.5 216.0,295.1 216.2,296.8 216.4,291.6 216.6,293.5 216.8,293.9 217.0,294.5 217.2,291.1 217.4,295.5 217.6,291.0 217.8,297.0 218.0,297.8 218.2,298.1 218.4,294.6 218.6,299.0 218.8,295.5 219.0,294.9 219.2,295.5 219.4,295.8 219.6,297.9 219.8,299.2 220.0,293.5 220.2,296.5 220.4,299.3 220.6,298.0 220.8,298.6 221.0,294.5 221.2,299.3 221.4,294.3 221.6,297.7 221.8,299.8 222.0,300.6 222.2,298.1 222.4,298.6 222.6,295.6 222.8,295.7 223.0,298.8 223.2,296.4 223.4,296.0 223.6,293.3 223.8,296.3 224.0,297.2 224.2,294.1 224.4,294.5 224.6,298.0 224.8,292.3 225.0,289.6 225.2,288.3 225.4,288.9 225.6,290.4 225.8,295.5 226.0,294.5 226.2,299.7 226.4,294.5 226.6,295.8 226.8,298.4 227.0,296.4 227.2,296.4 227.4,300.7 227.6,303.8 227.8,299.5 228.0,299.9 228.2,298.1 228.4,297.8 228.6,300.3 228.8,298.1 229.0,298.8 229.2,299.9 229.4,301.6 229.6,300.1 229.8,303.7 230.0,299.5 230.2,303.9 230.4,300.2 230.6,301.8 230.8,303.1 231.0,306.4 231.2,304.7 231.4,302.6 231.6,306.0 231.8,303.5 232.0,302.8 232.2,305.4 232.4,305.0 232.6,306.8 232.8,304.4 233.0,306.3 233.2,307.0 233.4,306.6 233.6,305.1 233.8,302.8 234.0,304.0 234.2,304.4 234.4,307.0 234.6,307.2 234.8,308.1 235.0,306.6 235.2,308.8 235.4,310.3 235.6,309.4 235.8,311.0 236.0,310.4 236.2,312.0 236.4,309.4 236.6,306.9 236.8,310.3 237.0,309.2 237.2,307.8 237.4,310.4 237.6,309.7 237.8,309.9 238.0,308.5 238.2,309.3 238.4,309.3 238.6,311.7 238.8,307.5 239.0,308.6 239.2,309.2 239.4,305.6 239.6,305.7 239.8,311.8 240.0,302.1 240.2,301.7 240.4,302.5 240.6,306.9 240.8,305.4 241.0,307.3 241.2,310.3 241.4,306.7 241.6,310.2 241.8,309.8 242.0,312.5 242.2,308.7 242.4,311.6 242.6,311.1 242.8,309.2 243.0,307.0 243.2,312.3 243.4,307.6 243.6,309.2 243.8,311.5 244.0,311.9 244.2,308.7 244.4,310.2 244.6,309.9 244.8,312.3 245.0,314.2 245.2,307.6 245.4,312.2 245.6,306.4 245.8,310.8 246.0,309.0 246.2,314.1 246.4,311.3 246.6,309.9 246.8,310.4 247.0,310.3 247.2,313.5 247.4,315.4 247.6,318.1 247.8,320.9 248.0,322.8 248.2,320.3 248.4,319.8 248.6,320.9 248.8,323.3 249.0,321.5 249.2,321.1 249.4,322.1 249.6,320.2 249.8,320.6 250.0,322.8 250.2,321.8 250.4,321.6 250.6,322.7 250.8,321.5 251.0,321.4 251.2,321.8 251.4,323.2 251.6,322.5 251.8,320.9 252.0,322.0 252.2,323.3 252.4,324.8 252.6,321.0 252.8,323.0 253.0,322.2 253.2,323.6 253.4,323.1 253.6,324.4 253.8,323.3 254.0,322.3 254.2,324.3 254.4,326.9 254.6,325.6 254.8,326.1 255.0,324.9 255.2,321.4 255.4,323.4 255.6,321.4 255.8,321.1 256.0,324.2 256.2,324.0 256.4,322.1 256.6,325.5 256.8,322.3 257.0,322.2 257.2,324.5 257.4,324.0 257.6,323.6 257.8,323.8 258.0,324.2 258.2,323.8 258.4,323.8 258.6,321.7 258.8,322.3 259.0,324.8 259.2,323.2 259.4,324.7 259.6,325.5 259.8,323.5 260.0,324.3 260.2,326.4 260.4,324.7 260.6,326.1 260.8,325.7 261.0,324.7 261.2,323.6 261.4,322.6 261.6,322.3 261.8,324.2 262.0,324.2 262.2,323.4 262.4,324.6 262.6,322.8 262.8,324.9 263.0,323.6 263.2,323.6 263.4,323.6 263.6,323.5 263.8,326.6 264.0,321.8 264.2,323.1 264.4,322.8 264.6,320.8 264.8,319.7 265.0,323.1 265.2,321.5 265.4,322.6 265.6,324.9 265.8,322.6 266.0,321.6 266.2,325.5 266.4,325.5 266.6,325.5 266.8,324.1 267.0,325.0 267.2,323.7 267.4,326.9 267.6,325.9 267.8,325.9 268.0,322.7 268.2,326.1 268.4,326.9 268.6,326.6 268.8,326.1 269.0,325.1 269.2,324.7 269.4,325.8 269.6,325.5 269.8,325.3 270.0,324.5 270.2,326.8 270.4,323.3 270.6,324.6 270.8,323.9 271.0,325.7 271.2,326.1 271.4,325.8 271.6,325.2 271.8,322.5 272.0,326.6 272.2,324.7 272.4,323.9 272.6,324.0 272.8,322.7 273.0,322.5 273.2,321.5 273.4,320.9 273.6,320.0 273.8,323.0 274.0,324.5 274.2,324.6 274.4,323.8 274.6,324.5 274.8,325.2 275.0,323.5 275.2,325.8 275.4,321.9 275.6,322.6 275.8,323.0 276.0,321.5 276.2,322.9 276.4,325.6 276.6,325.6 276.8,324.2 277.0,326.1 277.2,324.4 277.4,323.5 277.6,324.4 277.8,323.9 278.0,325.0 278.2,322.5 278.4,325.4 278.6,323.7 278.8,325.3 279.0,322.6 279.2,323.9 279.4,324.5 279.6,326.8 279.8,326.0 280.0,328.8 280.2,325.1 280.4,320.7 280.6,320.1 280.8,319.6 281.0,320.5 281.2,325.0 281.4,325.4 281.6,324.8 281.8,325.0 282.0,326.2 282.2,325.9 282.4,324.6 282.6,324.8 282.8,326.4 283.0,328.2 283.2,322.7 283.4,326.5 283.6,325.4 283.8,326.5 284.0,326.6 284.2,325.6 284.4,324.3 284.6,323.8 284.8,323.3 285.0,328.3 285.2,328.1 285.4,328.3 285.6,327.2 285.8,324.8 286.0,328.4 286.2,330.8 286.4,329.6 286.6,324.6 286.8,327.1 287.0,324.7 287.2,323.5 287.4,324.3 287.6,324.7 287.8,325.8 288.0,324.7 288.2,324.2 288.4,325.7 288.6,328.2 288.8,325.3 289.0,326.6 289.2,326.2 289.4,329.0 289.6,324.0 289.8,327.4 290.0,324.7 290.2,325.5 290.4,325.9 290.6,330.5 290.8,328.0 291.0,324.4 291.2,326.6 291.4,325.4 291.6,326.1 291.8,326.4 292.0,326.6 292.2,326.3 292.4,326.8 292.6,327.0 292.8,327.6 293.0,326.2 293.2,325.8 293.4,325.5 293.6,326.1 293.8,324.0 294.0,323.2 294.2,324.2 294.4,327.1 294.6,327.1 294.8,327.9 295.0,325.7 295.2,325.9 295.4,326.8 295.6,325.8 295.8,327.9 296.0,325.7 296.2,327.2 296.4,324.6 296.6,326.0 296.8,326.8 297.0,326.9 297.2,325.3 297.4,327.4 297.6,328.3 297.8,328.0 298.0,326.6 298.2,326.7 298.4,326.1 298.6,328.0 298.8,328.9 299.0,326.8 299.2,325.7 299.4,327.7 299.6,328.3 299.8,324.9 300.0,327.8 300.2,330.0 300.4,328.7 300.6,328.4 300.8,328.4 301.0,329.2 301.2,327.2 301.4,327.3 301.6,328.8 301.8,327.7 302.0,328.8 302.2,326.7 302.4,329.5 302.6,329.7 302.8,328.9 303.0,329.2 303.2,330.5 303.4,327.6 303.6,327.6 303.8,327.3 304.0,327.8 304.2,327.0 304.4,328.0 304.6,327.0 304.8,326.0 305.0,325.7 305.2,328.5 305.4,329.0 305.6,330.5 305.8,330.9 306.0,328.9 306.2,327.5 306.4,326.6 306.6,325.0 306.8,324.5 307.0,324.0 307.2,323.6 307.4,326.5 307.6,323.5 307.8,322.1 308.0,323.2 308.2,323.0 308.4,323.1 308.6,319.7 308.8,319.0 309.0,319.2 309.2,321.7 309.4,325.2 309.6,326.0 309.8,324.0 310.0,320.7 310.2,321.7 310.4,322.6 310.6,324.9 310.8,323.2 311.0,321.9 311.2,318.6 311.4,320.8 311.6,323.5 311.8,322.1 312.0,323.7 312.2,324.1 312.4,322.6 312.6,324.1 312.8,325.0 313.0,323.1 313.2,323.1 313.4,322.8 313.6,322.5 313.8,323.5 314.0,323.7 314.2,327.3 314.4,329.3 314.6,326.1 314.8,323.3 315.0,324.2 315.2,322.6 315.4,323.4 315.6,326.3 315.8,325.8 316.0,323.1 316.2,322.7 316.4,320.7 316.6,324.8 316.8,324.6 317.0,325.6 317.2,327.2 317.4,324.8 317.6,327.4 317.8,325.2 318.0,326.5 318.2,326.1 318.4,326.4 318.6,326.9 318.8,326.8 319.0,325.9 319.2,328.1 319.4,328.1 319.6,331.0 319.8,333.6 320.0,333.2 320.2,331.5 320.4,329.0 320.6,327.0 320.8,328.7 321.0,329.7 321.2,328.6 321.4,328.8 321.6,330.6 321.8,332.1 322.0,329.2 322.2,326.5 322.4,328.6 322.6,330.3 322.8,329.4 323.0,327.3 323.2,324.5 323.4,327.0 323.6,327.2 323.8,322.8 324.0,321.8 324.2,324.2 324.4,326.5 324.6,328.6 324.8,327.1 325.0,327.2 325.2,327.5 325.4,326.9 325.6,327.6 325.8,327.9 326.0,327.5 326.2,326.0 326.4,326.6 326.6,328.1 326.8,324.0 327.0,323.2 327.2,322.1 327.4,322.5 327.6,323.0 327.8,324.0 328.0,329.2 328.2,326.1 328.4,323.3 328.6,322.8 328.8,323.2 329.0,323.3 329.2,325.4 329.4,324.2 329.6,323.4 329.8,322.6 330.0,322.3 330.2,321.9 330.4,324.9 330.6,326.6 330.8,326.8 331.0,325.2 331.2,328.7 331.4,330.4 331.6,330.3 331.8,329.7 332.0,330.4 332.2,327.0 332.4,327.5 332.6,328.7 332.8,325.7 333.0,325.6 333.2,326.3 333.4,327.1 333.6,325.1 333.8,327.7 334.0,326.0 334.2,322.9 334.4,321.3 334.6,320.9 334.8,321.1 335.0,322.0 335.2,328.1 335.4,326.0 335.6,326.8 335.8,325.8 336.0,326.8 336.2,327.7 336.4,325.6 336.6,324.8 336.8,326.0 337.0,325.2 337.2,325.7 337.4,326.4 337.6,326.5 337.8,328.0 338.0,325.6 338.2,327.1 338.4,326.2 338.6,328.2 338.8,329.5 339.0,327.1 339.2,328.6 339.4,326.2 339.6,325.2 339.8,325.5 340.0,325.2 340.2,325.9 340.4,326.6 340.6,328.1 340.8,327.7 341.0,327.5 341.2,326.5 341.4,326.2 341.6,327.1 341.8,327.2 342.0,327.4 342.2,327.5 342.4,327.1 342.6,325.3 342.8,326.1 343.0,326.4 343.2,329.2 343.4,327.0 343.6,328.2 343.8,329.1 344.0,327.9 344.2,327.2 344.4,327.3 344.6,326.6 344.8,328.4 345.0,330.9 345.2,330.5 345.4,329.1 345.6,328.5 345.8,329.9 346.0,327.1 346.2,328.0 346.4,328.6 346.6,329.1 346.8,325.3 347.0,327.2 347.2,327.6 347.4,326.7 347.6,328.7 347.8,328.0 348.0,327.3 348.2,326.0 348.4,328.3 348.6,330.7 348.8,333.1 349.0,330.6 349.2,327.6 349.4,326.1 349.6,327.0 349.8,329.3 350.0,330.1 350.2,327.0 350.4,328.5 350.6,329.0 350.8,329.1 351.0,329.7 351.2,330.5 351.4,331.3 351.6,328.0 351.8,328.1 352.0,328.2 352.2,325.4 352.4,327.3 352.6,327.7 352.8,328.8 353.0,328.9 353.2,328.3 353.4,326.7 353.6,327.0 353.8,328.7 354.0,326.3 354.2,324.4 354.4,325.2 354.6,326.3 354.8,326.0 355.0,327.1 355.2,328.2 355.4,327.3 355.6,328.7 355.8,328.9 356.0,325.7 356.2,324.7 356.4,324.0 356.6,322.9 356.8,325.4 357.0,327.8 357.2,331.4 357.4,331.8 357.6,331.6 357.8,332.3 358.0,328.6 358.2,327.2 358.4,326.6 358.6,327.0 358.8,325.9 359.0,324.7 359.2,322.8 359.4,324.2 359.6,326.9 359.8,327.8 360.0,326.4 360.2,324.2 360.4,324.3 360.6,324.6 360.8,325.5 361.0,324.8 361.2,327.8 361.4,326.9 361.6,328.9 361.8,327.7 362.0,325.8 362.2,325.5 362.4,328.3 362.6,326.0 362.8,327.7 363.0,326.6 363.2,329.2 363.4,327.0 363.6,328.5 363.8,328.3 364.0,326.3 364.2,326.4 364.4,328.4 364.6,326.7 364.8,325.6 365.0,327.9 365.2,329.2 365.4,326.4 365.6,327.9 365.8,326.1 366.0,327.7 366.2,325.8 366.4,327.6 366.6,326.6 366.8,323.5 367.0,321.9 367.2,320.0 367.4,319.7 367.6,320.7 367.8,323.3 368.0,324.1 368.2,323.7 368.4,321.7 368.6,321.4 368.8,322.3 369.0,325.0 369.2,324.8 369.4,326.3 369.6,323.6 369.8,324.0 370.0,324.1 370.2,324.8 370.4,326.5 370.6,328.6 370.8,328.2 371.0,323.9 371.2,324.0 371.4,323.3 371.6,320.6 371.8,317.8 372.0,319.2 372.2,320.2 372.4,322.9 372.6,324.8 372.8,329.2 373.0,325.6 373.2,325.5 373.4,322.6 373.6,323.3 373.8,321.8 374.0,322.0 374.2,325.1 374.4,324.9 374.6,323.5 374.8,325.7 375.0,325.0 375.2,322.7 375.4,323.9 375.6,323.9 375.8,324.3 376.0,324.8 376.2,323.8 376.4,324.5 376.6,325.5 376.8,324.8 377.0,324.7 377.2,324.8 377.4,325.1 377.6,323.2 377.8,325.7 378.0,324.4 378.2,325.9 378.4,325.8 378.6,329.9 378.8,330.5 379.0,329.0 379.2,329.3 379.4,326.9 379.6,327.7 379.8,326.6 380.0,323.7 380.2,324.0 380.4,324.7 380.6,327.8 380.8,327.6 381.0,327.8 381.2,326.0 381.4,328.2 381.6,329.5 381.8,328.0 382.0,327.3 382.2,327.5 382.4,326.2 382.6,327.4 382.8,326.0 383.0,327.2 383.2,326.7 383.4,326.1 383.6,327.7 383.8,325.3 384.0,326.9 384.2,325.3 384.4,328.7 384.6,328.8 384.8,327.6 385.0,328.6 385.2,327.1 385.4,327.0 385.6,325.8 385.8,325.2 386.0,326.3 386.2,325.4 386.4,325.0 386.6,324.1 386.8,322.5 387.0,322.9 387.2,325.5 387.4,324.8 387.6,325.2 387.8,324.3 388.0,326.9 388.2,327.6 388.4,324.5 388.6,327.8 388.8,328.8 389.0,326.3 389.2,326.4 389.4,327.0 389.6,326.4 389.8,327.3 390.0,324.1 390.2,324.6 390.4,326.7 390.6,328.7 390.8,330.0 391.0,328.5 391.2,326.6 391.4,325.0 391.6,326.3 391.8,322.8 392.0,327.7 392.2,325.3 392.4,324.3 392.6,326.7 392.8,324.5 393.0,326.6 393.2,325.7 393.4,326.9 393.6,327.1 393.8,327.7 394.0,325.7 394.2,325.9 394.4,326.3 394.6,324.6 394.8,326.9 395.0,326.4 395.2,324.7 395.4,327.6 395.6,327.8 395.8,324.6 396.0,326.8 396.2,327.6 396.4,327.1 396.6,323.3 396.8,321.6 397.0,321.5 397.2,321.8 397.4,325.5 397.6,330.0 397.8,330.2 398.0,326.2 398.2,326.0 398.4,329.2 398.6,326.1 398.8,327.1 399.0,326.6 399.2,326.5 399.4,325.2 399.6,326.9 399.8,326.2 400.0,327.2 400.2,329.4 400.4,329.2 400.6,330.7 400.8,330.0 401.0,329.6 401.2,329.4 401.4,326.0 401.6,325.3 401.8,326.2 402.0,325.7 402.2,325.6 402.4,325.3 402.6,327.9 402.8,324.6 403.0,326.5 403.2,329.2 403.4,330.9 403.6,327.8 403.8,326.9 404.0,325.5 404.2,325.3 404.4,323.5 404.6,326.6 404.8,325.8 405.0,325.6 405.2,326.5 405.4,328.8 405.6,330.1 405.8,329.8 406.0,326.8 406.2,324.4 406.4,324.1 406.6,324.9 406.8,324.6 407.0,326.6 407.2,325.6 407.4,323.9 407.6,323.2 407.8,324.2 408.0,322.5 408.2,322.1 408.4,321.0 408.6,320.0 408.8,319.8 409.0,319.3 409.2,321.9 409.4,321.9 409.6,324.1 409.8,325.2 410.0,324.5 410.2,324.5 410.4,327.2 410.6,325.7 410.8,327.0 411.0,322.2 411.2,323.8 411.4,326.6 411.6,327.2 411.8,328.6 412.0,328.2 412.2,328.1 412.4,328.8 412.6,324.2 412.8,324.4 413.0,323.5 413.2,325.6 413.4,327.9 413.6,329.2 413.8,322.7 414.0,318.6 414.2,318.9 414.4,321.1 414.6,325.5 414.8,325.0 415.0,323.4 415.2,326.3 415.4,329.3 415.6,329.6 415.8,327.0 416.0,326.2 416.2,326.6 416.4,326.5 416.6,328.8 416.8,325.1 417.0,324.5 417.2,324.1 417.4,324.1 417.6,324.1 417.8,322.7 418.0,325.1 418.2,324.4 418.4,324.4 418.6,325.6 418.8,325.6 419.0,325.8 419.2,326.3 419.4,324.7 419.6,322.1 419.8,324.2 420.0,323.9 420.2,323.9 420.4,323.0 420.6,322.6 420.8,324.7 421.0,324.8 421.2,322.2 421.4,324.2 421.6,323.3 421.8,323.0 422.0,324.3 422.2,323.4 422.4,322.7 422.6,323.5 422.8,321.0 423.0,322.7 423.2,322.8 423.4,321.7 423.6,323.6 423.8,323.7 424.0,322.6 424.2,323.1 424.4,324.8 424.6,326.1 424.8,324.0 425.0,325.5 425.2,323.4 425.4,321.4 425.6,320.4 425.8,321.0 426.0,322.7 426.2,321.9 426.4,325.5 426.6,322.3 426.8,323.5 427.0,323.2 427.2,323.7 427.4,322.4 427.6,321.3 427.8,323.0 428.0,319.4 428.2,318.5 428.4,319.3 428.6,321.9 428.8,323.3 429.0,324.3 429.2,323.9 429.4,323.1 429.6,323.3 429.8,322.1 430.0,320.8 430.2,322.8 430.4,321.9 430.6,326.3 430.8,325.2 431.0,324.8 431.2,322.7 431.4,326.0 431.6,321.5 431.8,322.1 432.0,322.7 432.2,322.5 432.4,323.9 432.6,324.0 432.8,325.6 433.0,321.6 433.2,319.6 433.4,319.4 433.6,321.0 433.8,323.2 434.0,322.2 434.2,323.0 434.4,323.6 434.6,326.1 434.8,324.9 435.0,326.9 435.2,327.6 435.4,324.6 435.6,324.4 435.8,323.4 436.0,323.0 436.2,322.2 436.4,323.7 436.6,323.7 436.8,324.9 437.0,325.9 437.2,326.2 437.4,325.1 437.6,321.7 437.8,323.3 438.0,324.0 438.2,324.7 438.4,324.4 438.6,323.7 438.8,322.0 439.0,322.4 439.2,324.5 439.4,322.5 439.6,324.6 439.8,324.9 440.0,322.0 440.2,323.9 440.4,322.0 440.6,322.9 440.8,320.3 441.0,318.8 441.2,320.5 441.4,320.6 441.6,322.9 441.8,323.9 442.0,323.8 442.2,324.1 442.4,322.6 442.6,321.6 442.8,323.4 443.0,322.8 443.2,323.0 443.4,326.5 443.6,325.4 443.8,323.6 444.0,320.0 444.2,318.7 444.4,319.4 444.6,322.0 444.8,322.9 445.0,322.0 445.2,320.3 445.4,321.9 445.6,320.9 445.8,324.8 446.0,325.2 446.2,325.9 446.4,325.3 446.6,323.6 446.8,324.3 447.0,323.2 447.2,325.4 447.4,325.4 447.6,325.8 447.8,323.0 448.0,321.6 448.2,323.3 448.4,322.9 448.6,326.1 448.8,325.9 449.0,323.6 449.2,326.3 449.4,325.8 449.6,321.9 449.8,319.5 450.0,320.1 450.2,320.1 450.4,321.8 450.6,319.7 450.8,321.8 451.0,318.6 451.2,319.3 451.4,322.1 451.6,321.3 451.8,322.5 452.0,324.1 452.2,326.6 452.4,326.5 452.6,325.8 452.8,330.4 453.0,329.6 453.2,325.5 453.4,325.0 453.6,323.7 453.8,323.1 454.0,321.3 454.2,321.0 454.4,320.2 454.6,319.5 454.8,321.8 455.0,325.3 455.2,325.0 455.4,322.8 455.6,324.8 455.8,324.6 456.0,325.0 456.2,325.0 456.4,326.3 456.6,326.9 456.8,326.0 457.0,323.9 457.2,324.3 457.4,324.5 457.6,323.4 457.8,322.2 458.0,321.8 458.2,321.1 458.4,323.7 458.6,326.2 458.8,326.5 459.0,325.2 459.2,325.9 459.4,324.3 459.6,324.2 459.8,324.7 460.0,326.0 460.2,325.2 460.4,324.0 460.6,325.5 460.8,325.9 461.0,325.6 461.2,324.7 461.4,325.6 461.6,325.0 461.8,325.2 462.0,325.5 462.2,326.5 462.4,327.8 462.6,327.5 462.8,326.5 463.0,325.3 463.2,325.5 463.4,325.5 463.6,327.2 463.8,322.9 464.0,326.3 464.2,323.7 464.4,326.0 464.6,327.6 464.8,325.0 465.0,323.6 465.2,326.6 465.4,325.1 465.6,323.1 465.8,325.7 466.0,325.1 466.2,327.5 466.4,328.1 466.6,327.0 466.8,326.6 467.0,327.8 467.2,327.6 467.4,325.6 467.6,328.0 467.8,327.4 468.0,326.8 468.2,328.1 468.4,327.8 468.6,327.7 468.8,326.4 469.0,328.0 469.2,326.0 469.4,328.3 469.6,327.8 469.8,328.9 470.0,330.8 470.2,329.6 470.4,328.9 470.6,327.5 470.8,324.1 471.0,321.3 471.2,323.2 471.4,326.0 471.6,327.3 471.8,327.7 472.0,327.5 472.2,327.2 472.4,327.6 472.6,328.2 472.8,330.1 473.0,327.1 473.2,328.6 473.4,326.4 473.6,329.7 473.8,327.7 474.0,328.2 474.2,329.4 474.4,329.1 474.6,326.5 474.8,328.7 475.0,327.9 475.2,328.8 475.4,328.4 475.6,329.0 475.8,328.6 476.0,328.1 476.2,329.5 476.4,326.6 476.6,327.8 476.8,327.3 477.0,328.1 477.2,327.8 477.4,328.1 477.6,327.7 477.8,327.8 478.0,326.5 478.2,328.2 478.4,328.6 478.6,327.6 478.8,327.5 479.0,327.5 479.2,329.9 479.4,328.4 479.6,328.6 479.8,327.8 480.0,327.6 480.2,327.1 480.4,329.6 480.6,326.0 480.8,328.0 481.0,327.6 481.2,327.2 481.4,325.7 481.6,325.9 481.8,328.2 482.0,326.3 482.2,327.9 482.4,327.6 482.6,328.3 482.8,329.2 483.0,327.8 483.2,328.7 483.4,329.0 483.6,326.0 483.8,328.3 484.0,325.5 484.2,326.0 484.4,324.9 484.6,326.4 484.8,325.1 485.0,325.6 485.2,324.5 485.4,327.1 485.6,323.8 485.8,326.1 486.0,325.8 486.2,325.3 486.4,322.7 486.6,324.0 486.8,323.2 487.0,323.1 487.2,324.0 487.4,324.3 487.6,325.5 487.8,323.6 488.0,325.2 488.2,324.9 488.4,322.6 488.6,321.2 488.8,323.9 489.0,323.7 489.2,325.2 489.4,323.7 489.6,322.9 489.8,321.8 490.0,323.2 490.2,322.7 490.4,324.6 490.6,328.1 490.8,330.1 491.0,328.8 491.2,325.7 491.4,324.8 491.6,322.6 491.8,322.2 492.0,324.8 492.2,323.6 492.4,325.8 492.6,324.9 492.8,323.7 493.0,325.0 493.2,326.4 493.4,324.8 493.6,323.8 493.8,324.4 494.0,324.3 494.2,324.0 494.4,323.7 494.6,323.5 494.8,321.6 495.0,320.7 495.2,323.1 495.4,327.9 495.6,330.1 495.8,328.8 496.0,327.4 496.2,326.9 496.4,326.5 496.6,326.8 496.8,328.0 497.0,326.1 497.2,326.9 497.4,325.6 497.6,326.6 497.8,326.1 498.0,326.1 498.2,326.7 498.4,326.5 498.6,327.5 498.8,328.0 499.0,325.4 499.2,328.2 499.4,324.6 499.6,327.4 499.8,327.9 500.0,326.4 500.2,326.8 500.4,326.2 500.6,328.0 500.8,323.5 501.0,325.8 501.2,326.1 501.4,330.1 501.6,331.9 501.8,332.4 502.0,331.4 502.2,329.7 502.4,325.1 502.6,324.6 502.8,322.9 503.0,323.0 503.2,324.1 503.4,326.2 503.6,328.1 503.8,328.4 504.0,328.8 504.2,326.2 504.4,326.7 504.6,328.7 504.8,327.5 505.0,328.2 505.2,325.9 505.4,327.1 505.6,328.3 505.8,329.9 506.0,331.4 506.2,330.1 506.4,331.2 506.6,328.1 506.8,326.1 507.0,328.9 507.2,327.8 507.4,328.5 507.6,327.5 507.8,326.9 508.0,326.9 508.2,328.1 508.4,328.6 508.6,328.2 508.8,328.4 509.0,328.9 509.2,327.9 509.4,328.7 509.6,328.8 509.8,327.8 510.0,327.4 510.2,327.0 510.4,326.1 510.6,325.7 510.8,328.8 511.0,327.3 511.2,326.7 511.4,328.9 511.6,328.3 511.8,327.2 512.0,328.2 512.2,326.8 512.4,327.4 512.6,328.9 512.8,328.1 513.0,326.6 513.2,327.6 513.4,327.6 513.6,324.3 513.8,322.7 514.0,326.4 514.2,326.0 514.4,325.4 514.6,327.0 514.8,329.3 515.0,327.6 515.2,328.0 515.4,324.7 515.6,326.4 515.8,328.4 516.0,326.0 516.2,326.4 516.4,324.3 516.6,325.0 516.8,327.9 517.0,326.7 517.2,326.8 517.4,327.4 517.6,327.6 517.8,325.5 518.0,328.7 518.2,327.6 518.4,327.2 518.6,328.1 518.8,327.0 519.0,328.7 519.2,327.5 519.4,328.2 519.6,326.4 519.8,327.1 520.0,327.8 520.2,326.3 520.4,326.6 520.6,327.3 520.8,328.6 521.0,328.2 521.2,328.4 521.4,327.7 521.6,328.4 521.8,329.1 522.0,327.6 522.2,328.0 522.4,328.1 522.6,326.4 522.8,330.9 523.0,332.4 523.2,330.9 523.4,327.4 523.6,328.8 523.8,327.2 524.0,327.7 524.2,329.7 524.4,326.5 524.6,328.0 524.8,327.9 525.0,328.0 525.2,327.6 525.4,328.8 525.6,327.0 525.8,326.7 526.0,328.7 526.2,326.9 526.4,328.6 526.6,328.1 526.8,327.4 527.0,327.7 527.2,327.9 527.4,328.5 527.6,327.3 527.8,327.7 528.0,326.4 528.2,327.6 528.4,325.9 528.6,327.8 528.8,327.3 529.0,328.7 529.2,326.5 529.4,325.6 529.6,328.1 529.8,328.3 530.0,326.8 530.2,325.6 530.4,329.3 530.6,328.6 530.8,326.1 531.0,328.9 531.2,329.2 531.4,327.6 531.6,329.2 531.8,326.5 532.0,328.1 532.2,328.4 532.4,329.2 532.6,328.8 532.8,328.6 533.0,328.9 533.2,327.5 533.4,329.7 533.6,327.7 533.8,328.9 534.0,327.9 534.2,327.6 534.4,328.4 534.6,328.2 534.8,329.0 535.0,328.7 535.2,326.8 535.4,327.9 535.6,327.4 535.8,326.3 536.0,325.9 536.2,327.3 536.4,326.4 536.6,325.5 536.8,326.8 537.0,327.1 537.2,327.0 537.4,325.0 537.6,323.2 537.8,324.1 538.0,324.6 538.2,326.5 538.4,329.4 538.6,327.3 538.8,326.4 539.0,324.8 539.2,327.3 539.4,325.5 539.6,327.0 539.8,322.6 540.0,320.6 540.2,322.1 540.4,321.7 540.6,322.3 540.8,322.2 541.0,321.5 541.2,323.2 541.4,326.0 541.6,329.4 541.8,329.5 542.0,327.4 542.2,329.0 542.4,327.5 542.6,327.8 542.8,326.7 543.0,326.3 543.2,323.5 543.4,325.2 543.6,325.0 543.8,327.3 544.0,326.7 544.2,327.2 544.4,327.3 544.6,326.7 544.8,326.7 545.0,325.0 545.2,324.5 545.4,327.9 545.6,327.1 545.8,324.7 546.0,328.4 546.2,325.4 546.4,326.7 546.6,326.6 546.8,326.1 547.0,326.6 547.2,324.3 547.4,325.8 547.6,325.4 547.8,325.8 548.0,325.3 548.2,324.8 548.4,324.7 548.6,326.6 548.8,324.5 549.0,325.9 549.2,325.9 549.4,325.3 549.6,326.0 549.8,326.1 550.0,324.9 550.2,325.4 550.4,326.3 550.6,322.2 550.8,322.2 551.0,322.2 551.2,326.2 551.4,323.2 551.6,325.6 551.8,326.7 552.0,324.6 552.2,325.5 552.4,324.8 552.6,324.1 552.8,325.6 553.0,326.2 553.2,325.1 553.4,325.8 553.6,326.3 553.8,326.9 554.0,323.9 554.2,326.1 554.4,324.5 554.6,323.0 554.8,324.2 555.0,325.8 555.2,325.3 555.4,323.5 555.6,326.6 555.8,325.1 556.0,324.4 556.2,323.7 556.4,324.8 556.6,322.8 556.8,322.9 557.0,320.6 557.2,320.6 557.4,320.9 557.6,321.0 557.8,324.3 558.0,322.4 558.2,323.4 558.4,323.5 558.6,322.5 558.8,324.5 559.0,321.7 559.2,325.2 559.4,322.6 559.6,324.5 559.8,324.9 560.0,322.3 560.2,322.5 560.4,324.5 560.6,323.7 560.8,323.6 561.0,321.4 561.2,320.4 561.4,320.5 561.6,319.9 561.8,320.0 562.0,322.0 562.2,324.3 562.4,324.7 562.6,324.9 562.8,323.8 563.0,322.1 563.2,326.3 563.4,324.0 563.6,326.2 563.8,322.4 564.0,325.3 564.2,324.4 564.4,323.7 564.6,326.2 564.8,326.6 565.0,324.5 565.2,326.0 565.4,324.0 565.6,324.5 565.8,323.4 566.0,321.0 566.2,324.0 566.4,323.8 566.6,326.4 566.8,326.3 567.0,324.9 567.2,323.6 567.4,322.2 567.6,324.9 567.8,324.0 568.0,325.0 568.2,321.9 568.4,321.0 568.6,319.3 568.8,319.4 569.0,321.1 569.2,323.2 569.4,327.1 569.6,327.0 569.8,329.4 570.0,329.7 570.2,328.2 570.4,325.9 570.6,326.8 570.8,324.3 571.0,323.3 571.2,324.0 571.4,323.9 571.6,323.2 571.8,322.2 572.0,324.0 572.2,323.6 572.4,323.5 572.6,325.0 572.8,322.3 573.0,322.7 573.2,324.1 573.4,325.0 573.6,324.7 573.8,324.9 574.0,321.5 574.2,324.7 574.4,324.7 574.6,325.1 574.8,321.5 575.0,319.9 575.2,322.2 575.4,326.3 575.6,324.8 575.8,322.9 576.0,324.6 576.2,325.4 576.4,325.3 576.6,326.9 576.8,324.5 577.0,323.5 577.2,324.0 577.4,325.6 577.6,323.9 577.8,323.7 578.0,324.0 578.2,326.4 578.4,323.5 578.6,320.7 578.8,322.6 579.0,324.2 579.2,320.4 579.4,319.3 579.6,318.8 579.8,318.6 580.0,321.4 580.2,324.2 580.4,325.7 580.6,325.0 580.8,324.1 581.0,325.6 581.2,323.1 581.4,326.0 581.6,325.1 581.8,325.2 582.0,324.4 582.2,326.2 582.4,322.4 582.6,324.0 582.8,325.7 583.0,324.2 583.2,326.7 583.4,325.5 583.6,324.0 583.8,326.2 584.0,324.8 584.2,325.6 584.4,324.2 584.6,324.3 584.8,325.8 585.0,325.2 585.2,324.2 585.4,324.1 585.6,325.9 585.8,327.2 586.0,324.3 586.2,326.1 586.4,322.0 586.6,323.8 586.8,326.2 587.0,327.2 587.2,325.6 587.4,326.1 587.6,325.8 587.8,326.7 588.0,324.2 588.2,326.2 588.4,324.9 588.6,325.0 588.8,325.4 589.0,325.1 589.2,324.4 589.4,324.9 589.6,324.0 589.8,326.8 590.0,325.8 590.2,324.4 590.4,326.7 590.6,326.2 590.8,325.2 591.0,323.9 591.2,324.8 591.4,325.1 591.6,326.0 591.8,324.1 592.0,323.6 592.2,326.9 592.4,325.9 592.6,324.6 592.8,323.2 593.0,324.8 593.2,325.6 593.4,325.1 593.6,325.2 593.8,324.5 594.0,328.1 594.2,328.4 594.4,329.9 594.6,328.2 594.8,325.8 595.0,326.8 595.2,322.7 595.4,324.8 595.6,323.5 595.8,325.1 596.0,329.7 596.2,327.1 596.4,325.2 596.6,327.4 596.8,324.7 597.0,325.5 597.2,324.0 597.4,325.6 597.6,323.4 597.8,325.4 598.0,325.1 598.2,327.8 598.4,325.3 598.6,325.1 598.8,324.9 599.0,324.2 599.2,326.6 599.4,327.4 599.6,325.4 599.8,326.7 600.0,325.5 600.2,326.4 600.4,326.5 600.6,324.4 600.8,325.1 601.0,327.1 601.2,323.8 601.4,326.0 601.6,325.6 601.8,324.9 602.0,326.1 602.2,326.3 602.4,326.6 602.6,323.0 602.8,327.8 603.0,325.4 603.2,327.1 603.4,325.8 603.6,325.2 603.8,326.3 604.0,330.2 604.2,329.8 604.4,328.7 604.6,328.2 604.8,328.1 605.0,326.4 605.2,325.8 605.4,325.4 605.6,324.3 605.8,326.4 606.0,326.8 606.2,327.9 606.4,322.3 606.6,320.3 606.8,321.7 607.0,327.3 607.2,326.6 607.4,326.8 607.6,326.2 607.8,327.9 608.0,326.3 608.2,326.3 608.4,323.7 608.6,327.3 608.8,323.4 609.0,324.7 609.2,324.5 609.4,325.3 609.6,323.7 609.8,320.9 610.0,319.4 610.2,319.2 610.4,318.8 610.6,318.8 610.8,320.5 611.0,324.0 611.2,326.0 611.4,328.4 611.6,328.1 611.8,329.7 612.0,330.1 612.2,327.1 612.4,324.2 612.6,322.1 612.8,320.0 613.0,320.8 613.2,324.5 613.4,323.8 613.6,327.1 613.8,323.0 614.0,322.6 614.2,324.5 614.4,323.6 614.6,326.7 614.8,324.6 615.0,325.8 615.2,323.5 615.4,326.0 615.6,326.0 615.8,326.7 616.0,327.4 616.2,329.2 616.4,330.0 616.6,330.1 616.8,328.0 617.0,327.2 617.2,324.7 617.4,326.2 617.6,325.1 617.8,324.6 618.0,324.6 618.2,327.0 618.4,323.5 618.6,323.5 618.8,326.0 619.0,321.1 619.2,319.4 619.4,319.0 619.6,323.9 619.8,323.8 620.0,326.8 620.2,328.9 620.4,330.3 620.6,329.6 620.8,326.2 621.0,325.9 621.2,326.9 621.4,322.4 621.6,325.2 621.8,328.1 622.0,329.4 622.2,328.0 622.4,322.6 622.6,325.4 622.8,323.5 623.0,323.6 623.2,324.4 623.4,319.2 623.6,319.5 623.8,321.0 624.0,322.9 624.2,324.2 624.4,325.9 624.6,323.8 624.8,324.7 625.0,324.4 625.2,321.8 625.4,322.6 625.6,326.0 625.8,323.2 626.0,323.5 626.2,322.0 626.4,323.2 626.6,322.1 626.8,323.0 627.0,324.4 627.2,322.8 627.4,323.1 627.6,325.5 627.8,324.5 628.0,324.6 628.2,325.2 628.4,323.3 628.6,323.5 628.8,321.7 629.0,325.0 629.2,323.8 629.4,324.1 629.6,322.8 629.8,324.9 630.0,324.9 630.2,324.3 630.4,322.3 630.6,323.1 630.8,324.1 631.0,323.2 631.2,324.7 631.4,325.5 631.6,323.4 631.8,324.1 632.0,323.6 632.2,325.7 632.4,325.6 632.6,327.6 632.8,324.7 633.0,323.6 633.2,325.3 633.4,324.6 633.6,325.1 633.8,326.4 634.0,324.7 634.2,325.9 634.4,322.5 634.6,326.4 634.8,325.3 635.0,324.8 635.2,324.5 635.4,326.7 635.6,324.5 635.8,326.5 636.0,324.4 636.2,325.0 636.4,325.3 636.6,327.2 636.8,325.1 637.0,324.3 637.2,321.7 637.4,319.7 637.6,320.5 637.8,325.3 638.0,326.2 638.2,323.6 638.4,324.6 638.6,322.9 638.8,325.5 639.0,325.1 639.2,324.4 639.4,323.3 639.6,325.7 639.8,327.0 640.0,327.4 640.2,329.2 640.4,327.1 640.6,326.5 640.8,324.6 641.0,324.3 641.2,326.1 641.4,324.2 641.6,325.5 641.8,324.0 642.0,323.6 642.2,325.3 642.4,324.7 642.6,325.7 642.8,325.2 643.0,319.8 643.2,317.8 643.4,321.2 643.6,322.5 643.8,322.2 644.0,322.1 644.2,323.1 644.4,323.6 644.6,323.8 644.8,326.3 645.0,322.4 645.2,323.8 645.4,321.3 645.6,320.0 645.8,319.6 646.0,319.4 646.2,318.3 646.4,319.1 646.6,318.1 646.8,321.1 647.0,322.8 647.2,325.3 647.4,326.9 647.6,327.7 647.8,329.4 648.0,327.1 648.2,325.3 648.4,324.4 648.6,326.0 648.8,323.5 649.0,323.7 649.2,326.1 649.4,321.6 649.6,319.6 649.8,318.1 650.0,320.2 650.2,323.1 650.4,324.6 650.6,325.6 650.8,325.1 651.0,325.9 651.2,325.7 651.4,324.6 651.6,325.7 651.8,326.8 652.0,325.1 652.2,323.1 652.4,324.9 652.6,324.3 652.8,327.4 653.0,325.4 653.2,323.0 653.4,324.1 653.6,326.0 653.8,322.7 654.0,323.5 654.2,324.0 654.4,323.7 654.6,321.2 654.8,319.6 655.0,318.5 655.2,319.4 655.4,318.7 655.6,318.3 655.8,318.9 656.0,320.9 656.2,321.6 656.4,322.7 656.6,323.6 656.8,324.3 657.0,324.3 657.2,321.7 657.4,323.4 657.6,324.0 657.8,322.8 658.0,321.3 658.2,318.7 658.4,319.0 658.6,319.3 658.8,323.8 659.0,322.7 659.2,322.4 659.4,322.4 659.6,322.8 659.8,321.6 660.0,319.9 660.2,321.2 660.4,320.9 660.6,321.1 660.8,321.4 661.0,323.7 661.2,323.6 661.4,323.9 661.6,324.0 661.8,325.4 662.0,325.8 662.2,328.6 662.4,328.9 662.6,325.2 662.8,323.7 663.0,321.6 663.2,323.0 663.4,323.9 663.6,326.5 663.8,328.3 664.0,328.8 664.2,328.5 664.4,324.4 664.6,323.5 664.8,323.0 665.0,324.7 665.2,323.9 665.4,324.6 665.6,323.7 665.8,327.6 666.0,324.4 666.2,322.5 666.4,323.4 666.6,322.9 666.8,324.3 667.0,324.6 667.2,323.8 667.4,323.0 667.6,322.4 667.8,325.2 668.0,324.6 668.2,319.9 668.4,326.0 668.6,327.2 668.8,328.9 669.0,329.0 669.2,325.2 669.4,322.6 669.6,326.0 669.8,322.4 670.0,322.7 670.2,324.4 670.4,322.4 670.6,323.1 670.8,323.3 671.0,324.8 671.2,321.1 671.4,322.0 671.6,323.0 671.8,324.3 672.0,322.4 672.2,323.8 672.4,322.6 672.6,322.8 672.8,324.9 673.0,323.1 673.2,326.8 673.4,324.0 673.6,324.9 673.8,324.5 674.0,321.6 674.2,321.7 674.4,324.2 674.6,322.2 674.8,322.9 675.0,323.2" fill="none" stroke="#dc32fa" stroke-width="2.6" stroke-linejoin="round"/>
<polygon points="166.2,348.2 166.4,347.4 166.6,346.6 166.8,345.8 167.0,345.0 167.2,343.3 167.4,341.5 167.6,339.8 167.8,338.1 168.0,336.3 168.2,334.6 168.4,332.9 168.6,331.7 168.8,331.0 169.0,330.3 169.2,329.6 169.4,328.9 169.6,328.8 169.8,329.5 170.0,330.2 170.2,330.9 170.4,331.6 170.6,333.1 170.8,335.3 171.0,337.5 171.2,339.7 171.4,342.0 171.6,344.2 171.8,346.4 172.0,348.6 172.2,349.0 172.4,349.4 172.6,349.8 172.8,350.1 173.0,350.5 173.2,350.9 173.2,355.0 173.0,354.8 172.8,354.5 172.6,354.3 172.4,354.1 172.2,353.8 172.0,353.6 171.8,353.3 171.6,353.1 171.4,352.9 171.2,352.6 171.0,352.4 170.8,352.0 170.6,351.6 170.4,351.2 170.2,350.9 170.0,350.5 169.8,350.1 169.6,349.7 169.4,349.3 169.2,348.9 169.0,348.6 168.8,349.0 168.6,349.3 168.4,349.6 168.2,349.9 168.0,350.3 167.8,350.6 167.6,350.9 167.4,351.2 167.2,351.6 167.0,351.9 166.8,351.9 166.6,351.9 166.4,351.9 166.2,351.9" fill="#0010c0" stroke="#0010c0" stroke-width="1.5" stroke-linejoin="round"/>
<polygon points="211.0,368.7 211.2,367.8 211.4,367.0 211.6,366.2 211.8,365.4 212.0,364.6 212.2,363.1 212.4,361.5 212.6,360.0 212.8,358.4 213.0,356.9 213.2,355.3 213.4,353.8 213.6,353.5 213.8,354.4 214.0,355.3 214.2,356.3 214.4,357.2 214.6,358.1 214.8,359.1 215.0,360.0 215.2,361.5 215.4,363.0 215.6,364.5 215.8,366.0 216.0,367.4 216.2,368.9 216.4,370.4 216.6,371.9 216.8,373.4 217.0,374.9 217.0,378.7 216.8,378.7 216.6,378.7 216.4,378.7 216.2,378.7 216.0,378.7 215.8,378.3 215.6,377.9 215.4,377.5 215.2,377.2 215.0,376.8 214.8,376.4 214.6,376.0 214.4,375.6 214.2,375.2 214.0,374.8 213.8,374.4 213.6,374.1 213.4,373.7 213.2,373.3 213.0,372.9 212.8,371.6 212.6,371.7 212.4,371.9 212.2,372.0 212.0,372.1 211.8,372.3 211.6,372.4 211.4,372.6 211.2,372.7 211.0,372.9" fill="#0010c0" stroke="#0010c0" stroke-width="1.5" stroke-linejoin="round"/>
<polygon points="222.0,373.9 222.2,373.2 222.4,372.5 222.6,371.9 222.8,371.2 223.0,370.5 223.2,366.4 223.4,362.4 223.6,358.3 223.8,354.2 224.0,350.2 224.2,346.1 224.4,342.0 224.6,338.8 224.8,336.4 225.0,333.9 225.2,331.5 225.4,334.9 225.6,338.2 225.8,341.6 226.0,345.0 226.2,347.7 226.4,350.4 226.6,353.1 226.8,355.8 227.0,358.5 227.2,361.2 227.4,363.9 227.6,366.6 227.8,369.3 227.8,372.8 227.6,372.6 227.4,372.5 227.2,372.3 227.0,372.2 226.8,372.0 226.6,371.9 226.4,371.7 226.2,371.6 226.0,371.9 225.8,372.6 225.6,373.3 225.4,373.9 225.2,374.6 225.0,375.3 224.8,376.0 224.6,376.7 224.4,377.3 224.2,378.0 224.0,378.7 223.8,378.7 223.6,378.7 223.4,378.7 223.2,378.7 223.0,378.7 222.8,378.7 222.6,378.7 222.4,378.7 222.2,378.7 222.0,378.7" fill="#0010c0" stroke="#0010c0" stroke-width="1.5" stroke-linejoin="round"/>
<polygon points="245.0,373.4 245.2,372.8 245.4,372.2 245.6,371.7 245.8,371.1 246.0,370.5 246.2,369.9 246.4,369.3 246.6,368.8 246.8,368.2 247.0,367.6 247.2,367.0 247.4,366.4 247.6,365.8 247.8,365.2 248.0,364.6 248.2,364.0 248.4,363.3 248.6,362.7 248.8,362.1 249.0,361.5 249.2,360.9 249.4,360.3 249.6,359.1 249.8,357.3 250.0,355.5 250.2,353.7 250.4,351.9 250.6,350.1 250.8,348.3 251.0,346.5 251.2,349.0 251.4,351.4 251.6,353.9 251.8,356.4 252.0,358.8 252.2,361.3 252.4,363.8 252.6,365.8 252.8,367.3 253.0,368.8 253.2,370.3 253.4,371.8 253.6,373.3 253.8,374.8 254.0,376.3 254.2,376.8 254.4,377.3 254.6,377.8 254.6,381.6 254.4,381.6 254.2,381.6 254.0,381.6 253.8,381.6 253.6,381.6 253.4,381.6 253.2,381.6 253.0,381.6 252.8,381.1 252.6,380.6 252.4,380.1 252.2,379.7 252.0,379.2 251.8,378.7 251.6,378.2 251.4,377.7 251.2,377.2 251.0,376.7 250.8,376.2 250.6,375.8 250.4,375.3 250.2,374.8 250.0,374.3 249.8,372.8 249.6,371.3 249.4,370.2 249.2,370.8 249.0,371.4 248.8,372.0 248.6,372.6 248.4,373.1 248.2,373.7 248.0,374.3 247.8,374.9 247.6,375.5 247.4,376.0 247.2,376.6 247.0,377.2 246.8,377.3 246.6,377.3 246.4,377.4 246.2,377.4 246.0,377.5 245.8,377.6 245.6,377.6 245.4,377.7 245.2,377.7 245.0,377.8" fill="#0010c0" stroke="#0010c0" stroke-width="1.5" stroke-linejoin="round"/>
<polygon points="262.6,376.7 262.8,375.8 263.0,375.0 263.2,375.5 263.4,376.1 263.4,379.5 263.2,379.7 263.0,379.8 262.8,380.0 262.6,380.2" fill="#0010c0" stroke="#0010c0" stroke-width="1.5" stroke-linejoin="round"/>
<polygon points="296.0,377.7 296.2,376.6 296.4,375.4 296.6,374.3 296.8,373.1 297.0,372.0 297.2,372.1 297.4,372.2 297.6,372.2 297.8,372.3 298.0,372.4 298.2,372.5 298.4,372.6 298.6,372.6 298.8,372.7 299.0,372.8 299.2,372.9 299.4,373.0 299.6,373.0 299.8,373.1 299.8,376.8 299.6,378.0 299.4,379.1 299.2,380.3 299.0,381.4 298.8,381.4 298.6,381.4 298.4,381.4 298.2,381.4 298.0,381.4 297.8,381.4 297.6,381.4 297.4,381.4 297.2,381.4 297.0,381.4 296.8,381.4 296.6,381.4 296.4,381.4 296.2,381.4 296.0,381.4" fill="#0010c0" stroke="#0010c0" stroke-width="1.5" stroke-linejoin="round"/>
<polygon points="302.6,367.3 302.8,367.0 303.0,366.8 303.2,366.5 303.4,366.3 303.6,366.0 303.8,365.8 304.0,365.5 304.2,365.9 304.4,366.4 304.6,366.8 304.8,367.3 305.0,367.7 305.2,368.2 305.4,368.6 305.6,369.1 305.8,369.5 306.0,370.0 306.2,370.5 306.2,374.1 306.0,374.0 305.8,373.9 305.6,373.9 305.4,373.8 305.2,373.8 305.0,373.7 304.8,373.6 304.6,373.6 304.4,373.5 304.2,373.5 304.0,373.4 303.8,372.9 303.6,372.3 303.4,371.8 303.2,371.2 303.0,371.2 302.8,371.2 302.6,371.2" fill="#0010c0" stroke="#0010c0" stroke-width="1.5" stroke-linejoin="round"/>
<polygon points="341.2,369.8 341.4,368.0 341.6,366.1 341.8,364.2 342.0,362.4 342.2,360.5 342.4,358.6 342.6,356.7 342.8,354.9 343.0,353.0 343.2,354.9 343.4,356.8 343.6,358.7 343.8,360.6 344.0,362.5 344.2,364.4 344.4,366.3 344.6,368.2 344.8,370.1 345.0,372.0 345.2,373.0 345.4,373.9 345.6,374.9 345.8,375.8 345.8,379.7 345.6,379.5 345.4,379.2 345.2,379.0 345.0,378.7 344.8,378.4 344.6,378.2 344.4,377.9 344.2,377.7 344.0,377.4 343.8,377.1 343.6,376.9 343.4,376.6 343.2,376.4 343.0,376.1 342.8,375.8 342.6,375.6 342.4,375.3 342.2,375.1 342.0,374.8 341.8,373.8 341.6,372.9 341.4,372.8 341.2,372.9" fill="#0010c0" stroke="#0010c0" stroke-width="1.5" stroke-linejoin="round"/>
<polygon points="377.6,375.4 377.8,374.5 378.0,373.7 378.2,372.8 378.4,371.9 378.6,372.0 378.8,373.0 379.0,374.0 379.2,375.0 379.4,376.0 379.4,380.0 379.2,379.8 379.0,379.6 378.8,379.5 378.6,379.3 378.4,379.1 378.2,378.9 378.0,378.8 377.8,378.6 377.6,378.4" fill="#0010c0" stroke="#0010c0" stroke-width="1.5" stroke-linejoin="round"/>
<polygon points="418.4,377.9 418.6,376.8 418.8,375.7 419.0,374.7 419.2,373.6 419.4,372.5 419.6,372.6 419.8,373.8 420.0,375.0 420.2,376.2 420.4,377.4 420.6,378.6 420.8,379.8 420.8,383.7 420.6,383.5 420.4,383.2 420.2,383.0 420.0,382.7 419.8,382.5 419.6,382.2 419.4,382.0 419.2,381.7 419.0,381.5 418.8,381.4 418.6,381.5 418.4,381.5" fill="#0010c0" stroke="#0010c0" stroke-width="1.5" stroke-linejoin="round"/>
<polygon points="447.0,379.0 447.2,378.4 447.4,377.8 447.6,377.9 447.8,378.6 448.0,379.3 448.2,380.1 448.2,383.6 448.0,383.4 447.8,383.2 447.6,383.1 447.4,382.9 447.2,382.8 447.0,382.6" fill="#0010c0" stroke="#0010c0" stroke-width="1.5" stroke-linejoin="round"/>
<polygon points="475.6,380.3 475.8,379.7 476.0,379.0 476.2,379.6 476.2,383.6 476.0,383.6 475.8,383.7 475.6,383.9" fill="#0010c0" stroke="#0010c0" stroke-width="1.5" stroke-linejoin="round"/>
<polygon points="497.2,381.8 497.4,381.3 497.6,380.5 497.8,379.4 498.0,378.3 498.2,377.3 498.4,376.2 498.6,375.1 498.8,374.1 499.0,373.0 499.2,374.1 499.4,375.1 499.6,376.2 499.8,377.3 500.0,378.3 500.2,379.4 500.4,380.5 500.4,384.1 500.2,383.9 500.0,383.6 499.8,383.6 499.6,384.2 499.4,384.7 499.2,385.3 499.0,385.8 498.8,385.8 498.6,385.8 498.4,385.8 498.2,385.8 498.0,385.8 497.8,385.8 497.6,385.8 497.4,385.8 497.2,385.8" fill="#0010c0" stroke="#0010c0" stroke-width="1.5" stroke-linejoin="round"/>
<polyline points="9.0,372.7 9.2,369.5 9.4,374.9 9.6,374.4 9.8,371.8 10.0,369.9 10.2,370.2 10.4,377.5 10.6,379.4 10.8,382.5 11.0,378.9 11.2,376.3 11.4,375.4 11.6,374.9 11.8,374.4 12.0,375.6 12.2,377.5 12.4,379.0 12.6,381.9 12.8,378.9 13.0,376.7 13.2,379.2 13.4,377.7 13.6,376.0 13.8,376.6 14.0,377.9 14.2,380.0 14.4,376.6 14.6,376.7 14.8,378.7 15.0,375.8 15.2,376.8 15.4,378.7 15.6,378.3 15.8,377.5 16.0,378.5 16.2,373.3 16.4,379.1 16.6,376.1 16.8,375.0 17.0,378.1 17.2,380.1 17.4,380.0 17.6,380.5 17.8,380.6 18.0,379.0 18.2,380.1 18.4,379.2 18.6,378.3 18.8,379.8 19.0,377.7 19.2,376.6 19.4,379.0 19.6,378.9 19.8,377.6 20.0,376.7 20.2,378.2 20.4,374.1 20.6,378.6 20.8,378.2 21.0,374.8 21.2,375.3 21.4,372.4 21.6,372.5 21.8,370.9 22.0,372.1 22.2,375.5 22.4,378.3 22.6,373.3 22.8,375.5 23.0,376.7 23.2,375.2 23.4,378.6 23.6,374.3 23.8,377.7 24.0,382.3 24.2,384.4 24.4,381.8 24.6,377.0 24.8,373.4 25.0,378.6 25.2,377.1 25.4,377.2 25.6,377.8 25.8,376.5 26.0,374.9 26.2,374.7 26.4,374.7 26.6,378.2 26.8,373.7 27.0,375.0 27.2,375.4 27.4,376.3 27.6,376.8 27.8,373.9 28.0,372.5 28.2,373.7 28.4,374.3 28.6,373.4 28.8,373.8 29.0,374.2 29.2,375.3 29.4,371.5 29.6,369.7 29.8,369.0 30.0,370.6 30.2,374.3 30.4,376.8 30.6,376.2 30.8,379.7 31.0,378.3 31.2,378.3 31.4,372.7 31.6,375.3 31.8,374.9 32.0,376.8 32.2,372.4 32.4,377.3 32.6,374.6 32.8,369.9 33.0,369.3 33.2,370.3 33.4,371.4 33.6,371.8 33.8,371.7 34.0,368.8 34.2,370.4 34.4,371.5 34.6,376.6 34.8,376.8 35.0,377.8 35.2,373.8 35.4,375.2 35.6,374.2 35.8,377.1 36.0,373.0 36.2,370.0 36.4,368.8 36.6,369.9 36.8,370.3 37.0,371.9 37.2,376.4 37.4,379.3 37.6,375.2 37.8,374.6 38.0,373.6 38.2,373.3 38.4,376.4 38.6,377.0 38.8,375.6 39.0,376.1 39.2,375.7 39.4,375.7 39.6,373.0 39.8,374.7 40.0,375.6 40.2,374.1 40.4,374.7 40.6,374.1 40.8,375.0 41.0,377.0 41.2,374.9 41.4,375.4 41.6,377.0 41.8,376.8 42.0,378.4 42.2,372.4 42.4,377.0 42.6,372.0 42.8,370.7 43.0,371.0 43.2,372.9 43.4,373.9 43.6,371.9 43.8,374.0 44.0,372.7 44.2,374.6 44.4,378.6 44.6,380.2 44.8,381.8 45.0,378.1 45.2,379.1 45.4,375.6 45.6,374.9 45.8,375.8 46.0,376.6 46.2,374.1 46.4,374.1 46.6,372.1 46.8,373.0 47.0,371.1 47.2,376.0 47.4,378.0 47.6,380.5 47.8,381.1 48.0,376.4 48.2,374.3 48.4,375.5 48.6,377.6 48.8,379.1 49.0,379.4 49.2,376.2 49.4,376.2 49.6,375.5 49.8,373.5 50.0,377.4 50.2,373.4 50.4,377.3 50.6,376.2 50.8,378.1 51.0,376.1 51.2,374.9 51.4,376.8 51.6,375.3 51.8,375.9 52.0,376.2 52.2,375.9 52.4,375.8 52.6,374.7 52.8,375.7 53.0,372.6 53.2,375.6 53.4,373.8 53.6,377.6 53.8,377.8 54.0,372.5 54.2,375.8 54.4,375.3 54.6,373.6 54.8,376.2 55.0,374.4 55.2,372.3 55.4,374.6 55.6,374.7 55.8,375.0 56.0,372.7 56.2,375.7 56.4,375.8 56.6,372.6 56.8,373.3 57.0,374.2 57.2,373.4 57.4,377.2 57.6,377.0 57.8,378.3 58.0,380.6 58.2,379.7 58.4,379.9 58.6,373.9 58.8,374.4 59.0,375.1 59.2,374.2 59.4,377.9 59.6,373.4 59.8,375.5 60.0,374.6 60.2,375.3 60.4,372.2 60.6,377.1 60.8,373.9 61.0,374.2 61.2,372.5 61.4,372.8 61.6,375.0 61.8,375.7 62.0,375.2 62.2,375.9 62.4,375.1 62.6,373.9 62.8,375.2 63.0,374.7 63.2,373.5 63.4,374.8 63.6,375.6 63.8,373.9 64.0,372.7 64.2,374.5 64.4,376.3 64.6,372.7 64.8,372.9 65.0,372.7 65.2,375.0 65.4,369.8 65.6,377.5 65.8,379.6 66.0,376.8 66.2,378.2 66.4,377.2 66.6,373.5 66.8,373.2 67.0,371.2 67.2,375.1 67.4,379.1 67.6,377.5 67.8,378.8 68.0,374.9 68.2,374.4 68.4,372.7 68.6,369.0 68.8,370.6 69.0,369.8 69.2,366.9 69.4,366.5 69.6,367.6 69.8,366.7 70.0,366.2 70.2,366.4 70.4,367.0 70.6,366.2 70.8,367.0 71.0,369.2 71.2,369.3 71.4,369.8 71.6,369.6 71.8,371.6 72.0,373.1 72.2,372.0 72.4,372.4 72.6,370.6 72.8,371.8 73.0,370.3 73.2,370.5 73.4,368.8 73.6,368.3 73.8,369.9 74.0,368.8 74.2,369.0 74.4,371.7 74.6,370.2 74.8,375.3 75.0,372.0 75.2,369.2 75.4,371.6 75.6,370.8 75.8,369.0 76.0,372.2 76.2,368.9 76.4,365.8 76.6,371.7 76.8,369.2 77.0,373.0 77.2,369.2 77.4,368.4 77.6,368.7 77.8,363.5 78.0,366.9 78.2,373.2 78.4,370.9 78.6,370.5 78.8,370.9 79.0,372.2 79.2,369.2 79.4,371.8 79.6,371.7 79.8,374.4 80.0,370.0 80.2,368.8 80.4,371.8 80.6,369.6 80.8,370.8 81.0,370.4 81.2,372.1 81.4,368.7 81.6,368.8 81.8,363.3 82.0,364.8 82.2,371.2 82.4,367.8 82.6,367.6 82.8,366.5 83.0,369.7 83.2,368.7 83.4,366.4 83.6,373.9 83.8,375.5 84.0,373.7 84.2,366.7 84.4,370.8 84.6,368.3 84.8,367.2 85.0,366.4 85.2,368.6 85.4,372.3 85.6,372.3 85.8,372.9 86.0,370.5 86.2,370.0 86.4,369.0 86.6,367.4 86.8,364.3 87.0,368.2 87.2,369.2 87.4,368.1 87.6,368.9 87.8,367.0 88.0,368.9 88.2,371.0 88.4,375.1 88.6,375.3 88.8,373.8 89.0,370.2 89.2,369.3 89.4,370.7 89.6,368.9 89.8,366.5 90.0,370.5 90.2,370.2 90.4,369.2 90.6,368.5 90.8,368.9 91.0,366.4 91.2,363.9 91.4,360.5 91.6,360.8 91.8,360.2 92.0,363.4 92.2,359.5 92.4,361.3 92.6,361.7 92.8,361.8 93.0,364.8 93.2,365.2 93.4,364.8 93.6,362.5 93.8,363.2 94.0,365.4 94.2,365.8 94.4,363.4 94.6,363.3 94.8,363.6 95.0,365.3 95.2,361.2 95.4,360.7 95.6,363.5 95.8,361.1 96.0,362.0 96.2,363.4 96.4,364.2 96.6,361.1 96.8,364.8 97.0,359.7 97.2,364.2 97.4,359.9 97.6,361.7 97.8,367.4 98.0,365.9 98.2,362.9 98.4,361.7 98.6,363.5 98.8,362.3 99.0,362.3 99.2,359.9 99.4,355.3 99.6,357.9 99.8,360.9 100.0,364.2 100.2,363.9 100.4,366.2 100.6,366.4 100.8,367.9 101.0,369.0 101.2,368.3 101.4,369.5 101.6,368.2 101.8,363.2 102.0,362.4 102.2,362.4 102.4,366.1 102.6,367.5 102.8,362.7 103.0,363.1 103.2,358.8 103.4,363.7 103.6,363.4 103.8,361.3 104.0,365.1 104.2,360.5 104.4,361.5 104.6,360.0 104.8,356.9 105.0,359.3 105.2,361.6 105.4,359.1 105.6,360.4 105.8,364.3 106.0,362.8 106.2,360.1 106.4,361.8 106.6,362.0 106.8,361.7 107.0,363.5 107.2,362.4 107.4,364.9 107.6,363.9 107.8,362.4 108.0,363.0 108.2,363.3 108.4,361.8 108.6,357.5 108.8,361.7 109.0,359.9 109.2,362.8 109.4,360.4 109.6,362.9 109.8,363.8 110.0,365.1 110.2,361.3 110.4,358.0 110.6,358.1 110.8,356.0 111.0,356.9 111.2,356.2 111.4,356.4 111.6,359.4 111.8,354.0 112.0,354.5 112.2,353.5 112.4,355.1 112.6,350.5 112.8,351.1 113.0,352.2 113.2,353.8 113.4,352.7 113.6,351.9 113.8,351.3 114.0,354.7 114.2,359.8 114.4,360.6 114.6,358.3 114.8,355.7 115.0,352.8 115.2,354.5 115.4,354.8 115.6,356.4 115.8,355.9 116.0,353.6 116.2,359.0 116.4,360.3 116.6,356.5 116.8,358.3 117.0,358.2 117.2,359.5 117.4,354.8 117.6,361.5 117.8,357.3 118.0,361.2 118.2,358.9 118.4,358.1 118.6,358.8 118.8,361.1 119.0,357.4 119.2,358.6 119.4,358.5 119.6,356.1 119.8,362.5 120.0,361.1 120.2,359.4 120.4,361.6 120.6,356.7 120.8,358.3 121.0,361.7 121.2,360.0 121.4,353.1 121.6,351.4 121.8,354.7 122.0,359.0 122.2,355.3 122.4,355.7 122.6,357.3 122.8,353.7 123.0,356.0 123.2,357.0 123.4,356.0 123.6,355.6 123.8,353.1 124.0,355.4 124.2,352.9 124.4,356.5 124.6,358.4 124.8,351.4 125.0,348.1 125.2,351.6 125.4,353.2 125.6,354.4 125.8,354.2 126.0,349.6 126.2,349.2 126.4,353.6 126.6,347.8 126.8,352.6 127.0,346.7 127.2,345.7 127.4,343.2 127.6,342.3 127.8,344.2 128.0,343.6 128.2,349.3 128.4,349.8 128.6,354.4 128.8,356.7 129.0,352.6 129.2,348.0 129.4,347.9 129.6,348.9 129.8,351.5 130.0,347.7 130.2,352.4 130.4,350.6 130.6,349.4 130.8,346.9 131.0,350.8 131.2,351.9 131.4,346.3 131.6,353.2 131.8,354.1 132.0,351.6 132.2,352.0 132.4,355.6 132.6,352.2 132.8,344.5 133.0,345.1 133.2,348.0 133.4,351.3 133.6,346.4 133.8,353.7 134.0,350.7 134.2,352.7 134.4,352.2 134.6,354.5 134.8,352.1 135.0,351.0 135.2,353.8 135.4,355.2 135.6,351.6 135.8,354.8 136.0,352.5 136.2,350.5 136.4,354.4 136.6,349.3 136.8,353.1 137.0,351.9 137.2,355.2 137.4,354.8 137.6,353.1 137.8,353.5 138.0,349.7 138.2,348.9 138.4,347.2 138.6,348.9 138.8,343.9 139.0,344.1 139.2,346.0 139.4,343.8 139.6,343.6 139.8,344.7 140.0,344.0 140.2,343.3 140.4,347.3 140.6,345.4 140.8,346.3 141.0,345.9 141.2,345.9 141.4,340.3 141.6,340.4 141.8,336.4 142.0,339.4 142.2,342.7 142.4,344.6 142.6,342.7 142.8,337.9 143.0,341.4 143.2,341.1 143.4,347.2 143.6,347.5 143.8,348.2 144.0,348.4 144.2,344.4 144.4,345.2 144.6,340.1 144.8,339.3 145.0,343.8 145.2,345.2 145.4,340.1 145.6,341.9 145.8,339.4 146.0,342.2 146.2,345.3 146.4,343.4 146.6,342.9 146.8,341.9 147.0,346.1 147.2,347.0 147.4,346.3 147.6,345.4 147.8,340.3 148.0,343.0 148.2,340.4 148.4,342.6 148.6,345.9 148.8,339.5 149.0,343.7 149.2,343.3 149.4,344.5 149.6,346.7 149.8,344.4 150.0,338.8 150.2,342.4 150.4,344.0 150.6,344.1 150.8,340.8 151.0,340.2 151.2,345.7 151.4,343.7 151.6,340.2 151.8,337.5 152.0,346.2 152.2,339.2 152.4,344.5 152.6,350.3 152.8,345.4 153.0,346.5 153.2,341.7 153.4,345.8 153.6,339.8 153.8,344.0 154.0,346.1 154.2,344.7 154.4,349.7 154.6,344.4 154.8,346.3 155.0,348.2 155.2,347.5 155.4,349.9 155.6,351.1 155.8,348.4 156.0,348.1 156.2,348.2 156.4,348.6 156.6,351.5 156.8,349.1 157.0,350.7 157.2,349.5 157.4,347.7 157.6,351.8 157.8,347.4 158.0,349.9 158.2,353.3 158.4,347.4 158.6,349.8 158.8,346.4 159.0,348.8 159.2,346.7 159.4,349.2 159.6,348.8 159.8,350.4 160.0,353.7 160.2,350.8 160.4,351.8 160.6,350.2 160.8,349.9 161.0,348.8 161.2,347.1 161.4,351.1 161.6,353.7 161.8,346.5 162.0,345.1 162.2,351.5 162.4,351.0 162.6,350.8 162.8,350.0 163.0,350.7 163.2,351.9 163.4,356.7 163.6,351.6 163.8,349.6 164.0,350.3 164.2,351.0 164.4,347.6 164.6,351.5 164.8,352.7 165.0,351.7 165.2,352.1 165.4,349.4 165.6,348.8 165.8,350.2 166.0,349.8 166.2,347.5 166.4,347.8 166.6,346.9 166.8,346.4 167.0,345.4 167.2,343.2 167.4,341.8 167.6,340.7 167.8,339.3 168.0,337.2 168.2,334.2 168.4,332.6 168.6,330.8 168.8,331.3 169.0,330.8 169.2,329.8 169.4,328.7 169.6,328.9 169.8,330.3 170.0,329.8 170.2,331.5 170.4,332.0 170.6,333.1 170.8,335.7 171.0,337.2 171.2,340.0 171.4,341.6 171.6,343.8 171.8,346.0 172.0,348.6 172.2,347.7 172.4,348.0 172.6,348.2 172.8,350.2 173.0,351.3 173.2,350.8 173.4,352.0 173.6,351.8 173.8,353.1 174.0,353.4 174.2,356.9 174.4,361.3 174.6,360.3 174.8,356.8 175.0,354.1 175.2,350.8 175.4,354.2 175.6,352.5 175.8,358.5 176.0,357.2 176.2,352.4 176.4,351.8 176.6,352.6 176.8,350.1 177.0,353.1 177.2,354.9 177.4,355.2 177.6,357.1 177.8,359.6 178.0,361.7 178.2,362.0 178.4,359.4 178.6,361.3 178.8,358.1 179.0,360.8 179.2,358.0 179.4,361.8 179.6,357.9 179.8,358.6 180.0,360.9 180.2,362.2 180.4,358.2 180.6,360.3 180.8,361.9 181.0,362.2 181.2,360.2 181.4,362.4 181.6,361.8 181.8,365.3 182.0,363.9 182.2,360.3 182.4,358.9 182.6,363.6 182.8,366.0 183.0,364.2 183.2,365.9 183.4,363.4 183.6,361.8 183.8,366.3 184.0,365.2 184.2,366.6 184.4,362.7 184.6,366.0 184.8,364.6 185.0,367.6 185.2,365.0 185.4,365.1 185.6,365.2 185.8,368.9 186.0,366.7 186.2,368.0 186.4,370.2 186.6,372.0 186.8,373.0 187.0,366.1 187.2,365.7 187.4,368.7 187.6,369.8 187.8,367.4 188.0,369.2 188.2,365.0 188.4,363.0 188.6,365.1 188.8,371.2 189.0,368.7 189.2,371.3 189.4,366.5 189.6,370.4 189.8,366.4 190.0,366.1 190.2,369.6 190.4,367.1 190.6,369.4 190.8,366.5 191.0,371.4 191.2,368.3 191.4,366.2 191.6,368.5 191.8,369.8 192.0,366.7 192.2,369.1 192.4,371.8 192.6,369.7 192.8,368.1 193.0,367.1 193.2,369.3 193.4,365.6 193.6,363.6 193.8,367.1 194.0,366.4 194.2,371.7 194.4,368.8 194.6,366.8 194.8,366.5 195.0,369.7 195.2,367.3 195.4,367.9 195.6,368.9 195.8,369.4 196.0,369.6 196.2,369.6 196.4,368.8 196.6,366.7 196.8,362.7 197.0,369.1 197.2,367.9 197.4,372.5 197.6,369.0 197.8,371.1 198.0,371.0 198.2,370.9 198.4,372.3 198.6,372.0 198.8,369.1 199.0,370.8 199.2,372.4 199.4,372.5 199.6,370.7 199.8,370.9 200.0,371.1 200.2,368.9 200.4,368.0 200.6,372.6 200.8,368.5 201.0,368.8 201.2,366.6 201.4,369.9 201.6,370.1 201.8,365.8 202.0,366.6 202.2,364.8 202.4,370.1 202.6,369.2 202.8,366.4 203.0,370.9 203.2,369.9 203.4,370.6 203.6,371.1 203.8,369.9 204.0,370.8 204.2,373.4 204.4,372.9 204.6,372.2 204.8,377.7 205.0,374.7 205.2,374.0 205.4,373.6 205.6,375.7 205.8,376.0 206.0,373.1 206.2,372.2 206.4,368.8 206.6,368.8 206.8,369.4 207.0,371.0 207.2,373.4 207.4,370.5 207.6,378.4 207.8,372.0 208.0,373.9 208.2,374.6 208.4,372.0 208.6,370.1 208.8,367.1 209.0,373.4 209.2,376.8 209.4,373.3 209.6,370.4 209.8,368.4 210.0,373.9 210.2,371.9 210.4,370.4 210.6,368.9 210.8,367.9 211.0,367.4 211.2,367.4 211.4,366.8 211.6,366.1 211.8,364.4 212.0,362.8 212.2,362.0 212.4,361.4 212.6,359.4 212.8,357.7 213.0,357.0 213.2,354.9 213.4,353.4 213.6,353.5 213.8,354.0 214.0,356.5 214.2,357.3 214.4,357.3 214.6,358.2 214.8,358.5 215.0,358.9 215.2,361.3 215.4,362.6 215.6,364.8 215.8,366.1 216.0,367.3 216.2,369.1 216.4,371.0 216.6,372.4 216.8,373.7 217.0,375.3 217.2,375.4 217.4,375.8 217.6,376.5 217.8,376.6 218.0,378.3 218.2,376.4 218.4,376.0 218.6,376.3 218.8,378.7 219.0,381.7 219.2,381.8 219.4,379.0 219.6,378.5 219.8,382.3 220.0,382.2 220.2,378.8 220.4,381.7 220.6,379.9 220.8,382.0 221.0,381.3 221.2,378.0 221.4,376.9 221.6,375.4 221.8,374.6 222.0,373.7 222.2,373.7 222.4,372.2 222.6,371.2 222.8,371.0 223.0,370.3 223.2,366.2 223.4,362.1 223.6,357.9 223.8,354.0 224.0,350.1 224.2,346.1 224.4,341.8 224.6,339.3 224.8,337.0 225.0,333.9 225.2,330.4 225.4,334.8 225.6,338.0 225.8,341.8 226.0,345.4 226.2,348.5 226.4,351.1 226.6,353.1 226.8,356.0 227.0,358.2 227.2,360.7 227.4,363.5 227.6,366.1 227.8,369.1 228.0,372.1 228.2,372.3 228.4,372.3 228.6,371.9 228.8,369.5 229.0,369.2 229.2,371.4 229.4,376.1 229.6,374.8 229.8,370.8 230.0,372.1 230.2,374.7 230.4,373.1 230.6,375.7 230.8,375.2 231.0,376.0 231.2,373.3 231.4,376.5 231.6,378.5 231.8,374.3 232.0,377.8 232.2,376.8 232.4,374.2 232.6,371.4 232.8,370.2 233.0,372.0 233.2,376.7 233.4,378.4 233.6,378.9 233.8,378.7 234.0,378.8 234.2,376.8 234.4,375.7 234.6,378.2 234.8,378.9 235.0,378.4 235.2,376.1 235.4,377.8 235.6,376.5 235.8,379.2 236.0,377.6 236.2,379.1 236.4,380.0 236.6,379.9 236.8,381.9 237.0,378.4 237.2,377.0 237.4,381.8 237.6,382.5 237.8,382.7 238.0,380.5 238.2,377.9 238.4,375.1 238.6,373.7 238.8,374.4 239.0,377.1 239.2,378.4 239.4,382.9 239.6,379.1 239.8,382.0 240.0,384.8 240.2,382.9 240.4,380.9 240.6,379.1 240.8,378.7 241.0,381.8 241.2,380.1 241.4,380.2 241.6,378.6 241.8,379.3 242.0,375.9 242.2,375.5 242.4,378.2 242.6,379.5 242.8,380.9 243.0,379.0 243.2,379.4 243.4,381.1 243.6,376.3 243.8,375.0 244.0,378.1 244.2,376.0 244.4,375.2 244.6,374.7 244.8,373.9 245.0,373.7 245.2,372.8 245.4,372.7 245.6,371.3 245.8,370.8 246.0,370.7 246.2,369.3 246.4,368.7 246.6,367.4 246.8,366.5 247.0,366.4 247.2,366.0 247.4,365.8 247.6,366.5 247.8,366.6 248.0,366.3 248.2,365.5 248.4,364.7 248.6,363.3 248.8,363.0 249.0,362.2 249.2,360.8 249.4,361.1 249.6,359.6 249.8,356.8 250.0,354.9 250.2,353.1 250.4,351.4 250.6,350.3 250.8,348.5 251.0,347.0 251.2,348.9 251.4,351.5 251.6,353.8 251.8,356.6 252.0,358.5 252.2,361.4 252.4,364.1 252.6,366.0 252.8,367.3 253.0,369.3 253.2,371.0 253.4,372.9 253.6,374.1 253.8,375.1 254.0,376.7 254.2,376.5 254.4,377.7 254.6,377.2 254.8,378.0 255.0,378.8 255.2,379.7 255.4,379.5 255.6,377.3 255.8,381.4 256.0,381.2 256.2,380.2 256.4,380.7 256.6,381.7 256.8,383.2 257.0,384.4 257.2,380.8 257.4,384.4 257.6,379.9 257.8,378.5 258.0,378.4 258.2,376.3 258.4,375.9 258.6,376.4 258.8,377.9 259.0,380.8 259.2,380.4 259.4,380.4 259.6,381.6 259.8,379.5 260.0,382.6 260.2,379.9 260.4,379.6 260.6,381.0 260.8,376.8 261.0,377.9 261.2,380.0 261.4,379.0 261.6,378.8 261.8,379.4 262.0,378.8 262.2,378.1 262.4,376.9 262.6,375.8 262.8,376.4 263.0,375.3 263.2,376.3 263.4,376.6 263.6,376.1 263.8,376.4 264.0,377.2 264.2,378.2 264.4,377.4 264.6,380.1 264.8,379.8 265.0,380.0 265.2,381.1 265.4,381.2 265.6,383.0 265.8,382.7 266.0,378.2 266.2,382.2 266.4,379.4 266.6,379.2 266.8,382.5 267.0,380.5 267.2,379.4 267.4,379.7 267.6,376.5 267.8,377.1 268.0,380.1 268.2,383.1 268.4,382.7 268.6,379.9 268.8,381.2 269.0,381.9 269.2,384.8 269.4,383.5 269.6,383.5 269.8,384.0 270.0,381.9 270.2,383.0 270.4,383.1 270.6,381.1 270.8,382.4 271.0,383.2 271.2,381.0 271.4,383.6 271.6,383.6 271.8,384.0 272.0,381.6 272.2,382.8 272.4,384.7 272.6,383.9 272.8,381.9 273.0,383.4 273.2,385.1 273.4,383.2 273.6,383.9 273.8,386.8 274.0,383.7 274.2,383.7 274.4,382.7 274.6,383.3 274.8,384.4 275.0,380.6 275.2,379.8 275.4,381.9 275.6,384.9 275.8,386.0 276.0,384.1 276.2,386.1 276.4,384.6 276.6,385.7 276.8,386.0 277.0,385.0 277.2,381.5 277.4,382.3 277.6,385.2 277.8,383.5 278.0,385.3 278.2,385.7 278.4,386.2 278.6,384.7 278.8,384.4 279.0,384.7 279.2,383.3 279.4,383.9 279.6,384.5 279.8,384.2 280.0,382.3 280.2,383.1 280.4,380.8 280.6,384.3 280.8,382.5 281.0,383.4 281.2,381.6 281.4,382.6 281.6,382.1 281.8,381.6 282.0,378.7 282.2,380.7 282.4,380.6 282.6,380.9 282.8,384.7 283.0,385.9 283.2,387.8 283.4,386.1 283.6,385.3 283.8,383.2 284.0,382.9 284.2,382.0 284.4,383.2 284.6,386.1 284.8,388.4 285.0,388.2 285.2,388.2 285.4,385.0 285.6,381.7 285.8,383.6 286.0,381.3 286.2,383.0 286.4,383.8 286.6,381.7 286.8,381.8 287.0,385.1 287.2,382.0 287.4,381.9 287.6,382.7 287.8,383.5 288.0,385.3 288.2,383.1 288.4,375.7 288.6,378.9 288.8,377.9 289.0,378.9 289.2,381.2 289.4,380.3 289.6,378.3 289.8,380.3 290.0,378.2 290.2,379.1 290.4,378.1 290.6,379.3 290.8,381.3 291.0,381.1 291.2,381.6 291.4,382.6 291.6,381.4 291.8,380.7 292.0,381.5 292.2,384.3 292.4,382.3 292.6,382.8 292.8,382.4 293.0,383.0 293.2,383.4 293.4,382.9 293.6,382.8 293.8,382.1 294.0,382.1 294.2,384.0 294.4,384.5 294.6,382.6 294.8,378.8 295.0,377.2 295.2,381.4 295.4,381.0 295.6,379.5 295.8,379.2 296.0,377.9 296.2,377.2 296.4,374.9 296.6,374.2 296.8,374.3 297.0,372.7 297.2,372.7 297.4,372.1 297.6,371.7 297.8,371.4 298.0,372.1 298.2,372.8 298.4,372.6 298.6,372.7 298.8,372.4 299.0,373.3 299.2,373.0 299.4,373.3 299.6,372.3 299.8,373.1 300.0,372.6 300.2,372.7 300.4,371.6 300.6,370.0 300.8,364.6 301.0,366.4 301.2,366.1 301.4,366.8 301.6,365.1 301.8,367.9 302.0,367.4 302.2,367.7 302.4,368.0 302.6,367.7 302.8,367.9 303.0,367.8 303.2,368.1 303.4,367.4 303.6,366.3 303.8,366.1 304.0,366.8 304.2,366.8 304.4,367.7 304.6,367.1 304.8,366.8 305.0,367.5 305.2,369.5 305.4,369.8 305.6,370.9 305.8,371.1 306.0,371.4 306.2,370.9 306.4,371.0 306.6,371.9 306.8,372.3 307.0,373.2 307.2,373.6 307.4,377.4 307.6,374.7 307.8,376.1 308.0,374.8 308.2,376.2 308.4,376.1 308.6,376.4 308.8,377.6 309.0,375.3 309.2,374.8 309.4,377.9 309.6,375.7 309.8,375.0 310.0,378.0 310.2,377.4 310.4,372.2 310.6,375.4 310.8,377.3 311.0,377.3 311.2,375.1 311.4,378.4 311.6,374.7 311.8,375.5 312.0,376.1 312.2,375.9 312.4,377.3 312.6,377.7 312.8,376.0 313.0,378.4 313.2,372.1 313.4,370.7 313.6,372.5 313.8,373.7 314.0,378.5 314.2,376.3 314.4,376.7 314.6,377.2 314.8,377.8 315.0,377.1 315.2,377.6 315.4,378.5 315.6,379.2 315.8,377.4 316.0,378.1 316.2,378.3 316.4,374.9 316.6,373.9 316.8,378.8 317.0,378.1 317.2,375.9 317.4,376.2 317.6,373.8 317.8,372.7 318.0,375.4 318.2,372.0 318.4,375.8 318.6,372.8 318.8,374.2 319.0,376.5 319.2,377.1 319.4,375.1 319.6,377.6 319.8,375.7 320.0,374.8 320.2,375.0 320.4,375.2 320.6,370.9 320.8,373.0 321.0,372.2 321.2,369.9 321.4,372.0 321.6,374.9 321.8,372.2 322.0,373.3 322.2,374.0 322.4,371.3 322.6,374.8 322.8,375.3 323.0,375.6 323.2,375.2 323.4,372.2 323.6,372.1 323.8,371.9 324.0,371.8 324.2,372.1 324.4,375.2 324.6,376.0 324.8,372.6 325.0,375.2 325.2,371.3 325.4,372.7 325.6,371.3 325.8,370.0 326.0,372.7 326.2,372.5 326.4,371.3 326.6,370.9 326.8,369.8 327.0,371.1 327.2,370.4 327.4,373.9 327.6,373.1 327.8,372.9 328.0,370.9 328.2,372.3 328.4,372.2 328.6,370.9 328.8,369.4 329.0,367.6 329.2,371.0 329.4,373.6 329.6,374.1 329.8,367.2 330.0,370.2 330.2,371.1 330.4,370.0 330.6,370.2 330.8,367.9 331.0,366.2 331.2,366.1 331.4,366.3 331.6,368.0 331.8,370.1 332.0,374.8 332.2,370.7 332.4,373.2 332.6,375.1 332.8,373.9 333.0,375.6 333.2,373.3 333.4,375.3 333.6,376.3 333.8,378.6 334.0,376.4 334.2,377.7 334.4,375.6 334.6,375.9 334.8,378.9 335.0,380.0 335.2,382.3 335.4,380.4 335.6,379.9 335.8,381.0 336.0,379.1 336.2,382.5 336.4,381.5 336.6,379.9 336.8,376.5 337.0,375.5 337.2,371.0 337.4,369.8 337.6,368.5 337.8,368.5 338.0,370.2 338.2,371.6 338.4,373.0 338.6,372.2 338.8,370.3 339.0,373.7 339.2,373.2 339.4,373.4 339.6,375.2 339.8,372.3 340.0,372.2 340.2,368.1 340.4,371.7 340.6,370.7 340.8,370.1 341.0,370.0 341.2,368.7 341.4,367.0 341.6,366.1 341.8,364.3 342.0,362.7 342.2,360.6 342.4,358.0 342.6,355.8 342.8,355.0 343.0,353.5 343.2,355.8 343.4,357.8 343.6,359.6 343.8,360.7 344.0,362.4 344.2,365.0 344.4,366.8 344.6,368.2 344.8,370.2 345.0,372.4 345.2,372.8 345.4,374.8 345.6,374.7 345.8,375.8 346.0,376.0 346.2,377.8 346.4,377.6 346.6,378.4 346.8,377.1 347.0,379.4 347.2,379.3 347.4,379.7 347.6,382.5 347.8,383.0 348.0,382.1 348.2,379.0 348.4,377.6 348.6,376.1 348.8,378.5 349.0,382.3 349.2,380.6 349.4,376.5 349.6,376.0 349.8,378.7 350.0,378.5 350.2,382.8 350.4,383.9 350.6,380.7 350.8,382.5 351.0,380.2 351.2,381.7 351.4,380.5 351.6,381.2 351.8,381.7 352.0,382.0 352.2,382.0 352.4,378.9 352.6,384.3 352.8,381.7 353.0,380.4 353.2,383.9 353.4,387.1 353.6,384.0 353.8,381.3 354.0,380.9 354.2,382.3 354.4,380.4 354.6,382.0 354.8,381.8 355.0,381.0 355.2,383.1 355.4,381.4 355.6,379.8 355.8,382.0 356.0,381.8 356.2,381.6 356.4,382.1 356.6,385.0 356.8,381.6 357.0,379.2 357.2,376.9 357.4,379.5 357.6,378.8 357.8,379.3 358.0,380.1 358.2,383.3 358.4,383.7 358.6,380.6 358.8,381.8 359.0,381.2 359.2,378.9 359.4,377.3 359.6,378.7 359.8,380.4 360.0,378.1 360.2,378.5 360.4,379.5 360.6,380.0 360.8,383.1 361.0,383.4 361.2,381.0 361.4,383.0 361.6,384.3 361.8,383.0 362.0,383.9 362.2,381.8 362.4,384.4 362.6,381.4 362.8,384.9 363.0,381.7 363.2,381.3 363.4,381.1 363.6,381.6 363.8,381.5 364.0,381.2 364.2,381.7 364.4,383.0 364.6,383.2 364.8,381.6 365.0,383.7 365.2,380.7 365.4,380.6 365.6,380.5 365.8,382.8 366.0,379.9 366.2,377.6 366.4,377.6 366.6,379.5 366.8,386.7 367.0,387.0 367.2,384.9 367.4,380.3 367.6,377.6 367.8,376.6 368.0,378.9 368.2,379.8 368.4,384.1 368.6,388.9 368.8,389.1 369.0,388.6 369.2,389.2 369.4,389.7 369.6,389.2 369.8,388.0 370.0,382.0 370.2,382.1 370.4,381.9 370.6,378.2 370.8,376.2 371.0,376.4 371.2,378.1 371.4,380.6 371.6,381.7 371.8,381.6 372.0,382.4 372.2,380.3 372.4,383.4 372.6,384.1 372.8,381.9 373.0,381.5 373.2,382.9 373.4,381.0 373.6,378.0 373.8,375.7 374.0,374.0 374.2,374.4 374.4,378.0 374.6,380.9 374.8,378.7 375.0,380.1 375.2,380.4 375.4,379.2 375.6,378.6 375.8,379.0 376.0,376.5 376.2,379.2 376.4,378.7 376.6,382.0 376.8,378.7 377.0,378.0 377.2,377.3 377.4,377.1 377.6,376.4 377.8,375.4 378.0,374.8 378.2,373.7 378.4,372.9 378.6,372.7 378.8,373.0 379.0,374.9 379.2,374.4 379.4,375.8 379.6,377.3 379.8,378.3 380.0,379.5 380.2,377.9 380.4,376.0 380.6,379.4 380.8,380.1 381.0,379.5 381.2,379.0 381.4,381.9 381.6,378.8 381.8,378.7 382.0,379.9 382.2,378.7 382.4,378.7 382.6,378.2 382.8,379.9 383.0,380.0 383.2,379.9 383.4,381.0 383.6,383.6 383.8,382.3 384.0,381.1 384.2,381.3 384.4,380.9 384.6,384.4 384.8,380.3 385.0,383.5 385.2,382.6 385.4,384.9 385.6,386.0 385.8,388.4 386.0,386.2 386.2,387.9 386.4,382.0 386.6,382.0 386.8,384.3 387.0,386.4 387.2,387.9 387.4,388.2 387.6,389.1 387.8,386.4 388.0,384.1 388.2,382.8 388.4,384.5 388.6,382.9 388.8,383.5 389.0,381.4 389.2,381.5 389.4,381.2 389.6,383.2 389.8,385.3 390.0,384.1 390.2,383.8 390.4,383.6 390.6,385.1 390.8,383.1 391.0,384.6 391.2,386.6 391.4,381.8 391.6,378.5 391.8,379.5 392.0,383.6 392.2,380.4 392.4,379.2 392.6,380.2 392.8,384.0 393.0,386.1 393.2,382.0 393.4,386.6 393.6,383.7 393.8,384.8 394.0,385.6 394.2,385.1 394.4,388.6 394.6,389.3 394.8,388.8 395.0,389.3 395.2,386.1 395.4,386.6 395.6,385.1 395.8,381.4 396.0,381.4 396.2,382.4 396.4,384.5 396.6,385.8 396.8,386.5 397.0,390.2 397.2,389.0 397.4,388.4 397.6,385.3 397.8,386.2 398.0,386.0 398.2,385.0 398.4,384.9 398.6,385.6 398.8,386.8 399.0,386.4 399.2,384.4 399.4,383.6 399.6,384.2 399.8,380.8 400.0,384.0 400.2,383.3 400.4,387.2 400.6,384.9 400.8,385.4 401.0,384.2 401.2,385.7 401.4,385.8 401.6,384.8 401.8,380.2 402.0,380.2 402.2,386.8 402.4,385.2 402.6,385.9 402.8,386.6 403.0,382.6 403.2,387.9 403.4,386.2 403.6,384.1 403.8,387.4 404.0,385.1 404.2,384.6 404.4,386.3 404.6,388.6 404.8,387.0 405.0,383.0 405.2,381.2 405.4,382.4 405.6,386.8 405.8,387.3 406.0,386.2 406.2,386.0 406.4,385.0 406.6,385.3 406.8,384.2 407.0,387.6 407.2,384.6 407.4,385.9 407.6,382.8 407.8,379.1 408.0,383.4 408.2,384.1 408.4,384.2 408.6,385.3 408.8,383.9 409.0,385.1 409.2,383.8 409.4,383.9 409.6,381.0 409.8,378.5 410.0,381.4 410.2,382.5 410.4,383.2 410.6,385.0 410.8,385.0 411.0,387.1 411.2,386.4 411.4,389.6 411.6,387.2 411.8,385.4 412.0,383.3 412.2,383.5 412.4,384.1 412.6,381.7 412.8,380.5 413.0,383.0 413.2,382.3 413.4,382.8 413.6,383.4 413.8,382.2 414.0,384.0 414.2,382.2 414.4,382.3 414.6,383.2 414.8,382.8 415.0,381.8 415.2,381.8 415.4,380.5 415.6,380.4 415.8,381.1 416.0,381.8 416.2,379.9 416.4,381.5 416.6,382.8 416.8,382.9 417.0,379.7 417.2,381.0 417.4,380.2 417.6,380.4 417.8,380.2 418.0,379.9 418.2,379.0 418.4,377.7 418.6,376.4 418.8,375.6 419.0,374.7 419.2,373.9 419.4,372.5 419.6,372.8 419.8,374.3 420.0,374.5 420.2,376.0 420.4,377.6 420.6,378.6 420.8,379.4 421.0,381.6 421.2,382.3 421.4,382.5 421.6,382.8 421.8,380.6 422.0,382.7 422.2,382.1 422.4,383.5 422.6,384.4 422.8,382.8 423.0,384.0 423.2,384.3 423.4,383.4 423.6,386.5 423.8,385.5 424.0,385.9 424.2,387.1 424.4,388.9 424.6,388.9 424.8,384.5 425.0,382.8 425.2,380.2 425.4,381.7 425.6,386.2 425.8,384.4 426.0,386.6 426.2,385.8 426.4,387.3 426.6,387.1 426.8,388.1 427.0,387.6 427.2,387.9 427.4,386.8 427.6,385.9 427.8,383.7 428.0,382.1 428.2,382.6 428.4,383.8 428.6,386.4 428.8,382.9 429.0,385.9 429.2,384.6 429.4,386.4 429.6,385.7 429.8,384.4 430.0,385.3 430.2,382.6 430.4,385.5 430.6,385.6 430.8,382.9 431.0,386.1 431.2,384.8 431.4,383.6 431.6,380.9 431.8,384.0 432.0,385.6 432.2,384.9 432.4,383.7 432.6,385.8 432.8,386.5 433.0,385.4 433.2,386.2 433.4,384.3 433.6,385.3 433.8,385.6 434.0,385.4 434.2,388.7 434.4,385.9 434.6,384.8 434.8,386.7 435.0,384.4 435.2,386.3 435.4,386.9 435.6,385.4 435.8,385.8 436.0,385.1 436.2,384.9 436.4,382.3 436.6,385.8 436.8,386.6 437.0,386.4 437.2,385.0 437.4,389.1 437.6,388.4 437.8,387.4 438.0,387.1 438.2,387.1 438.4,386.4 438.6,389.1 438.8,387.2 439.0,385.2 439.2,386.2 439.4,383.9 439.6,389.9 439.8,391.4 440.0,392.3 440.2,391.5 440.4,387.2 440.6,389.2 440.8,391.1 441.0,391.6 441.2,389.8 441.4,388.8 441.6,386.5 441.8,387.4 442.0,385.6 442.2,385.2 442.4,386.5 442.6,388.2 442.8,387.5 443.0,386.1 443.2,385.6 443.4,385.4 443.6,386.3 443.8,386.0 444.0,385.3 444.2,382.8 444.4,386.8 444.6,388.5 444.8,387.0 445.0,382.9 445.2,378.5 445.4,377.7 445.6,380.3 445.8,381.8 446.0,383.8 446.2,381.3 446.4,381.1 446.6,380.3 446.8,379.6 447.0,379.7 447.2,378.7 447.4,378.3 447.6,378.1 447.8,379.2 448.0,378.8 448.2,378.5 448.4,379.6 448.6,382.1 448.8,382.8 449.0,383.3 449.2,384.6 449.4,384.5 449.6,384.8 449.8,383.3 450.0,384.7 450.2,385.4 450.4,384.3 450.6,384.0 450.8,387.7 451.0,386.4 451.2,385.4 451.4,385.3 451.6,383.3 451.8,386.8 452.0,389.7 452.2,391.5 452.4,388.0 452.6,388.0 452.8,389.3 453.0,387.8 453.2,387.0 453.4,386.0 453.6,382.9 453.8,382.4 454.0,383.5 454.2,384.0 454.4,382.6 454.6,386.4 454.8,384.5 455.0,387.1 455.2,391.1 455.4,385.4 455.6,383.9 455.8,383.5 456.0,386.0 456.2,383.6 456.4,382.3 456.6,383.9 456.8,387.6 457.0,388.4 457.2,389.2 457.4,386.8 457.6,389.1 457.8,387.6 458.0,386.0 458.2,382.6 458.4,382.1 458.6,384.8 458.8,384.7 459.0,383.7 459.2,382.8 459.4,385.3 459.6,388.3 459.8,388.6 460.0,390.0 460.2,392.4 460.4,391.9 460.6,389.9 460.8,391.7 461.0,391.1 461.2,387.7 461.4,384.2 461.6,384.0 461.8,383.7 462.0,383.0 462.2,382.4 462.4,384.7 462.6,385.9 462.8,387.0 463.0,385.4 463.2,389.3 463.4,387.4 463.6,388.4 463.8,386.9 464.0,387.7 464.2,388.5 464.4,388.0 464.6,388.8 464.8,387.5 465.0,389.9 465.2,385.5 465.4,387.1 465.6,388.9 465.8,387.5 466.0,387.2 466.2,385.7 466.4,389.2 466.6,385.6 466.8,388.4 467.0,388.0 467.2,388.8 467.4,389.4 467.6,386.9 467.8,386.8 468.0,387.3 468.2,383.7 468.4,384.5 468.6,382.0 468.8,383.6 469.0,384.0 469.2,387.3 469.4,386.6 469.6,387.2 469.8,385.9 470.0,389.0 470.2,388.8 470.4,388.3 470.6,391.4 470.8,389.8 471.0,389.4 471.2,392.1 471.4,390.4 471.6,386.8 471.8,385.1 472.0,385.6 472.2,384.6 472.4,385.3 472.6,381.3 472.8,379.5 473.0,382.6 473.2,385.0 473.4,383.5 473.6,383.3 473.8,384.9 474.0,384.2 474.2,381.7 474.4,382.7 474.6,381.9 474.8,382.3 475.0,381.2 475.2,380.8 475.4,380.0 475.6,380.0 475.8,380.5 476.0,379.4 476.2,380.0 476.4,380.8 476.6,380.4 476.8,381.0 477.0,382.3 477.2,382.8 477.4,382.8 477.6,383.6 477.8,383.0 478.0,384.9 478.2,384.2 478.4,387.6 478.6,385.2 478.8,384.1 479.0,384.5 479.2,384.6 479.4,382.9 479.6,383.6 479.8,386.6 480.0,383.0 480.2,384.0 480.4,386.0 480.6,386.7 480.8,383.6 481.0,386.6 481.2,384.4 481.4,386.9 481.6,385.5 481.8,384.6 482.0,385.9 482.2,385.8 482.4,384.2 482.6,387.9 482.8,384.9 483.0,386.8 483.2,384.9 483.4,383.5 483.6,384.4 483.8,385.7 484.0,386.7 484.2,388.1 484.4,386.2 484.6,385.9 484.8,384.9 485.0,386.3 485.2,386.8 485.4,384.0 485.6,388.1 485.8,387.9 486.0,389.2 486.2,385.5 486.4,386.6 486.6,386.5 486.8,385.0 487.0,385.5 487.2,385.3 487.4,387.1 487.6,387.0 487.8,388.1 488.0,386.0 488.2,384.9 488.4,387.0 488.6,386.9 488.8,387.3 489.0,388.0 489.2,385.8 489.4,387.5 489.6,385.4 489.8,386.7 490.0,387.4 490.2,386.5 490.4,386.9 490.6,385.1 490.8,386.0 491.0,386.9 491.2,385.5 491.4,385.9 491.6,389.7 491.8,387.3 492.0,386.1 492.2,386.0 492.4,388.8 492.6,384.3 492.8,387.0 493.0,388.2 493.2,386.9 493.4,388.2 493.6,386.5 493.8,387.7 494.0,387.9 494.2,389.1 494.4,391.0 494.6,392.4 494.8,393.5 495.0,391.8 495.2,389.4 495.4,387.3 495.6,386.4 495.8,384.3 496.0,382.9 496.2,380.0 496.4,383.0 496.6,383.0 496.8,382.9 497.0,383.4 497.2,382.4 497.4,381.3 497.6,380.8 497.8,380.8 498.0,379.6 498.2,378.9 498.4,377.4 498.6,376.2 498.8,373.8 499.0,373.4 499.2,373.3 499.4,375.0 499.6,376.7 499.8,378.0 500.0,378.5 500.2,380.3 500.4,380.9 500.6,381.0 500.8,381.1 501.0,381.5 501.2,381.6 501.4,383.2 501.6,382.8 501.8,383.9 502.0,383.6 502.2,381.3 502.4,383.5 502.6,386.4 502.8,382.5 503.0,384.6 503.2,383.5 503.4,383.7 503.6,385.4 503.8,386.6 504.0,386.8 504.2,386.7 504.4,387.6 504.6,384.7 504.8,388.0 505.0,387.8 505.2,387.1 505.4,387.3 505.6,386.2 505.8,388.6 506.0,386.4 506.2,385.5 506.4,387.2 506.6,386.5 506.8,387.1 507.0,388.9 507.2,386.9 507.4,387.2 507.6,389.5 507.8,385.2 508.0,387.3 508.2,388.1 508.4,388.5 508.6,389.2 508.8,385.7 509.0,387.1 509.2,386.2 509.4,385.7 509.6,385.3 509.8,384.4 510.0,386.5 510.2,386.9 510.4,384.7 510.6,386.8 510.8,385.2 511.0,384.6 511.2,382.9 511.4,387.1 511.6,386.6 511.8,385.3 512.0,385.2 512.2,384.1 512.4,386.3 512.6,385.6 512.8,386.3 513.0,385.9 513.2,384.8 513.4,386.8 513.6,390.7 513.8,390.5 514.0,391.1 514.2,389.9 514.4,383.2 514.6,382.0 514.8,380.4 515.0,381.3 515.2,381.8 515.4,384.3 515.6,386.5 515.8,387.5 516.0,383.7 516.2,383.3 516.4,383.7 516.6,386.7 516.8,385.5 517.0,386.4 517.2,386.9 517.4,387.8 517.6,387.4 517.8,387.0 518.0,386.8 518.2,388.5 518.4,385.9 518.6,386.6 518.8,385.3 519.0,381.7 519.2,384.0 519.4,386.9 519.6,389.7 519.8,388.8 520.0,385.6 520.2,387.6 520.4,388.0 520.6,388.6 520.8,388.1 521.0,389.8 521.2,389.0 521.4,386.3 521.6,386.9 521.8,385.2 522.0,389.6 522.2,387.4 522.4,387.4 522.6,385.7 522.8,387.0 523.0,387.9 523.2,386.9 523.4,386.9 523.6,386.6 523.8,389.5 524.0,386.6 524.2,385.5 524.4,386.5 524.6,386.7 524.8,386.9 525.0,386.7 525.2,385.8 525.4,386.8 525.6,387.4 525.8,385.5 526.0,389.3 526.2,389.0 526.4,385.1 526.6,386.7 526.8,388.3 527.0,389.6 527.2,392.4 527.4,391.5 527.6,389.8 527.8,387.8 528.0,388.1 528.2,386.3 528.4,388.1 528.6,388.1 528.8,388.5 529.0,388.5 529.2,392.5 529.4,393.1 529.6,390.6 529.8,389.8 530.0,387.8 530.2,389.8 530.4,386.8 530.6,387.0 530.8,386.0 531.0,385.8 531.2,388.7 531.4,388.6 531.6,385.6 531.8,385.5 532.0,384.8 532.2,385.2 532.4,388.0 532.6,389.3 532.8,388.1 533.0,387.5 533.2,390.1 533.4,387.2 533.6,388.7 533.8,389.5 534.0,389.2 534.2,386.4 534.4,388.0 534.6,388.2 534.8,388.2 535.0,389.1 535.2,389.1 535.4,388.7 535.6,388.9 535.8,389.8 536.0,390.1 536.2,387.3 536.4,393.3 536.6,392.8 536.8,394.7 537.0,392.8 537.2,392.1 537.4,389.3 537.6,390.9 537.8,392.1 538.0,392.5 538.2,391.4 538.4,390.6 538.6,388.2 538.8,388.5 539.0,388.3 539.2,390.0 539.4,389.1 539.6,387.7 539.8,389.4 540.0,389.6 540.2,390.5 540.4,388.3 540.6,389.4 540.8,391.1 541.0,388.5 541.2,388.5 541.4,389.4 541.6,388.3 541.8,388.9 542.0,388.3 542.2,388.1 542.4,389.9 542.6,388.6 542.8,387.9 543.0,388.7 543.2,389.9 543.4,392.2 543.6,392.7 543.8,391.9 544.0,387.9 544.2,389.0 544.4,387.4 544.6,389.5 544.8,389.9 545.0,388.6 545.2,388.3 545.4,388.2 545.6,387.6 545.8,389.8 546.0,391.1 546.2,387.8 546.4,392.3 546.6,393.8 546.8,392.1 547.0,390.3 547.2,389.6 547.4,389.1 547.6,388.3 547.8,388.8 548.0,385.6 548.2,385.7 548.4,386.9 548.6,386.8 548.8,386.7 549.0,386.8 549.2,390.4 549.4,393.8 549.6,389.9 549.8,386.5 550.0,386.8 550.2,384.6 550.4,387.3 550.6,388.6 550.8,389.8 551.0,387.5 551.2,389.4 551.4,387.7 551.6,390.6 551.8,387.6 552.0,386.8 552.2,384.5 552.4,384.6 552.6,384.9 552.8,388.2 553.0,390.1 553.2,389.4 553.4,391.2 553.6,389.8 553.8,390.3 554.0,390.0 554.2,391.4 554.4,388.7 554.6,389.1 554.8,389.1 555.0,390.0 555.2,389.6 555.4,390.1 555.6,389.6 555.8,388.6 556.0,389.1 556.2,389.6 556.4,386.8 556.6,390.6 556.8,388.5 557.0,388.8 557.2,389.4 557.4,388.9 557.6,387.6 557.8,389.0 558.0,390.7 558.2,390.4 558.4,390.7 558.6,388.8 558.8,389.8 559.0,392.4 559.2,393.8 559.4,393.4 559.6,390.6 559.8,386.8 560.0,388.5 560.2,386.0 560.4,388.0 560.6,388.0 560.8,390.7 561.0,388.9 561.2,389.3 561.4,388.1 561.6,386.6 561.8,389.0 562.0,390.0 562.2,389.3 562.4,387.8 562.6,390.4 562.8,389.3 563.0,391.5 563.2,388.5 563.4,390.2 563.6,391.2 563.8,393.1 564.0,395.5 564.2,394.5 564.4,392.7 564.6,391.4 564.8,388.9 565.0,389.3 565.2,389.0 565.4,391.7 565.6,390.0 565.8,390.3 566.0,390.7 566.2,389.3 566.4,389.3 566.6,387.6 566.8,389.9 567.0,389.6 567.2,388.9 567.4,390.6 567.6,387.3 567.8,389.7 568.0,387.7 568.2,388.0 568.4,389.0 568.6,390.7 568.8,387.9 569.0,388.1 569.2,387.9 569.4,391.4 569.6,389.8 569.8,388.7 570.0,388.6 570.2,385.1 570.4,383.1 570.6,384.7 570.8,385.6 571.0,390.9 571.2,387.9 571.4,389.8 571.6,388.9 571.8,390.2 572.0,391.9 572.2,393.3 572.4,393.5 572.6,393.8 572.8,393.6 573.0,391.7 573.2,389.6 573.4,390.8 573.6,390.5 573.8,391.1 574.0,389.2 574.2,391.5 574.4,388.6 574.6,388.3 574.8,390.5 575.0,388.5 575.2,389.3 575.4,390.1 575.6,388.7 575.8,388.3 576.0,389.6 576.2,388.7 576.4,387.5 576.6,386.6 576.8,387.4 577.0,385.7 577.2,386.4 577.4,385.9 577.6,387.5 577.8,387.9 578.0,386.0 578.2,386.1 578.4,385.1 578.6,384.7 578.8,385.7 579.0,386.8 579.2,386.6 579.4,386.6 579.6,385.4 579.8,382.5 580.0,386.8 580.2,387.1 580.4,386.3 580.6,386.1 580.8,386.2 581.0,387.9 581.2,384.7 581.4,386.2 581.6,383.4 581.8,381.1 582.0,378.6 582.2,378.6 582.4,379.4 582.6,383.2 582.8,384.1 583.0,383.2 583.2,384.1 583.4,383.8 583.6,388.2 583.8,387.3 584.0,388.9 584.2,388.4 584.4,387.9 584.6,389.6 584.8,387.3 585.0,387.8 585.2,389.8 585.4,391.0 585.6,391.8 585.8,393.4 586.0,393.5 586.2,391.6 586.4,391.8 586.6,387.1 586.8,388.4 587.0,386.6 587.2,387.4 587.4,389.0 587.6,387.6 587.8,386.8 588.0,386.7 588.2,385.1 588.4,385.5 588.6,388.4 588.8,391.1 589.0,391.6 589.2,390.7 589.4,389.8 589.6,389.5 589.8,391.0 590.0,390.6 590.2,389.0 590.4,392.3 590.6,391.0 590.8,390.7 591.0,390.2 591.2,390.2 591.4,392.1 591.6,390.2 591.8,391.4 592.0,392.0 592.2,393.2 592.4,393.7 592.6,395.3 592.8,395.3 593.0,394.3 593.2,392.5 593.4,391.1 593.6,392.1 593.8,391.4 594.0,389.8 594.2,390.4 594.4,392.3 594.6,392.9 594.8,392.1 595.0,391.2 595.2,390.6 595.4,391.8 595.6,391.6 595.8,389.5 596.0,391.8 596.2,390.3 596.4,391.7 596.6,391.5 596.8,391.6 597.0,391.9 597.2,391.5 597.4,389.6 597.6,389.6 597.8,391.7 598.0,391.1 598.2,388.9 598.4,388.4 598.6,391.4 598.8,392.7 599.0,391.2 599.2,390.1 599.4,390.6 599.6,387.5 599.8,389.2 600.0,391.3 600.2,391.1 600.4,388.0 600.6,391.4 600.8,390.7 601.0,391.1 601.2,389.9 601.4,390.1 601.6,389.0 601.8,390.4 602.0,391.0 602.2,389.0 602.4,390.4 602.6,389.4 602.8,391.1 603.0,391.0 603.2,387.6 603.4,390.4 603.6,391.0 603.8,389.3 604.0,389.6 604.2,389.7 604.4,388.6 604.6,389.6 604.8,391.4 605.0,390.2 605.2,391.3 605.4,390.7 605.6,390.9 605.8,389.7 606.0,390.3 606.2,391.6 606.4,391.0 606.6,389.7 606.8,388.6 607.0,388.3 607.2,389.5 607.4,389.7 607.6,387.3 607.8,389.4 608.0,389.5 608.2,389.4 608.4,388.5 608.6,391.5 608.8,389.9 609.0,387.5 609.2,388.1 609.4,389.8 609.6,389.4 609.8,388.9 610.0,388.7 610.2,388.5 610.4,388.2 610.6,387.6 610.8,389.3 611.0,385.8 611.2,387.8 611.4,389.9 611.6,387.7 611.8,387.2 612.0,390.6 612.2,389.7 612.4,388.3 612.6,387.9 612.8,388.3 613.0,388.2 613.2,388.3 613.4,387.7 613.6,389.2 613.8,388.0 614.0,386.6 614.2,387.2 614.4,388.6 614.6,387.5 614.8,385.9 615.0,390.3 615.2,389.1 615.4,387.9 615.6,387.7 615.8,388.9 616.0,389.8 616.2,387.3 616.4,388.4 616.6,387.1 616.8,388.1 617.0,386.2 617.2,385.3 617.4,387.4 617.6,387.1 617.8,388.0 618.0,386.2 618.2,388.6 618.4,386.9 618.6,388.6 618.8,386.1 619.0,388.3 619.2,386.3 619.4,386.5 619.6,387.4 619.8,383.9 620.0,384.7 620.2,388.3 620.4,383.9 620.6,385.1 620.8,386.4 621.0,387.5 621.2,384.8 621.4,385.6 621.6,386.5 621.8,389.4 622.0,390.6 622.2,389.0 622.4,386.4 622.6,386.4 622.8,386.2 623.0,386.5 623.2,386.1 623.4,385.5 623.6,387.8 623.8,384.3 624.0,385.0 624.2,384.6 624.4,382.7 624.6,385.1 624.8,383.8 625.0,387.0 625.2,387.4 625.4,387.6 625.6,386.5 625.8,387.2 626.0,389.6 626.2,389.5 626.4,390.2 626.6,390.2 626.8,389.9 627.0,388.2 627.2,388.6 627.4,388.0 627.6,387.2 627.8,384.7 628.0,384.9 628.2,386.1 628.4,389.6 628.6,388.8 628.8,387.0 629.0,386.1 629.2,388.3 629.4,387.5 629.6,389.9 629.8,389.6 630.0,389.7 630.2,390.5 630.4,390.7 630.6,393.2 630.8,391.5 631.0,393.5 631.2,393.6 631.4,392.5 631.6,393.5 631.8,392.8 632.0,390.5 632.2,393.1 632.4,392.5 632.6,390.0 632.8,387.5 633.0,390.9 633.2,389.7 633.4,390.6 633.6,388.8 633.8,390.8 634.0,390.9 634.2,389.1 634.4,390.4 634.6,389.2 634.8,389.4 635.0,389.0 635.2,389.5 635.4,388.6 635.6,388.8 635.8,386.1 636.0,386.6 636.2,390.6 636.4,390.8 636.6,391.3 636.8,390.2 637.0,391.0 637.2,389.4 637.4,387.4 637.6,387.3 637.8,387.0 638.0,386.0 638.2,385.7 638.4,385.2 638.6,385.9 638.8,384.5 639.0,385.4 639.2,389.1 639.4,390.7 639.6,389.9 639.8,391.4 640.0,391.1 640.2,393.2 640.4,394.2 640.6,391.7 640.8,389.6 641.0,390.6 641.2,391.3 641.4,390.7 641.6,389.2 641.8,388.6 642.0,389.3 642.2,389.2 642.4,390.8 642.6,390.2 642.8,390.9 643.0,389.9 643.2,391.7 643.4,389.9 643.6,390.4 643.8,389.4 644.0,390.3 644.2,390.9 644.4,390.6 644.6,391.1 644.8,389.1 645.0,390.2 645.2,391.5 645.4,390.0 645.6,389.5 645.8,389.5 646.0,389.2 646.2,389.9 646.4,391.2 646.6,390.3 646.8,389.8 647.0,389.0 647.2,388.7 647.4,390.6 647.6,386.0 647.8,387.2 648.0,388.6 648.2,390.1 648.4,389.5 648.6,390.0 648.8,391.4 649.0,389.1 649.2,390.5 649.4,389.8 649.6,390.6 649.8,389.2 650.0,390.3 650.2,387.9 650.4,384.8 650.6,384.3 650.8,385.7 651.0,385.3 651.2,384.5 651.4,387.5 651.6,388.1 651.8,390.3 652.0,390.0 652.2,389.1 652.4,388.8 652.6,390.3 652.8,390.3 653.0,389.4 653.2,389.7 653.4,389.8 653.6,388.4 653.8,389.9 654.0,390.1 654.2,391.6 654.4,388.4 654.6,388.8 654.8,389.8 655.0,389.1 655.2,389.3 655.4,389.0 655.6,385.8 655.8,384.2 656.0,386.5 656.2,387.2 656.4,390.1 656.6,387.0 656.8,391.2 657.0,390.3 657.2,386.4 657.4,385.9 657.6,385.0 657.8,387.4 658.0,389.9 658.2,389.4 658.4,389.0 658.6,389.6 658.8,388.6 659.0,388.4 659.2,387.7 659.4,386.8 659.6,389.7 659.8,387.3 660.0,384.2 660.2,385.0 660.4,385.9 660.6,385.0 660.8,385.9 661.0,384.7 661.2,385.3 661.4,386.8 661.6,389.4 661.8,388.7 662.0,389.5 662.2,387.1 662.4,389.0 662.6,389.2 662.8,387.0 663.0,388.6 663.2,390.1 663.4,390.5 663.6,390.0 663.8,387.6 664.0,388.3 664.2,387.8 664.4,389.8 664.6,387.5 664.8,387.2 665.0,386.6 665.2,388.6 665.4,388.9 665.6,387.7 665.8,387.5 666.0,388.2 666.2,389.8 666.4,386.8 666.6,388.2 666.8,388.5 667.0,388.7 667.2,389.6 667.4,389.1 667.6,388.5 667.8,389.8 668.0,389.4 668.2,388.4 668.4,388.3 668.6,386.7 668.8,388.1 669.0,387.1 669.2,386.6 669.4,387.5 669.6,385.9 669.8,386.8 670.0,387.1 670.2,388.0 670.4,387.2 670.6,388.0 670.8,389.3 671.0,388.4 671.2,386.1 671.4,385.4 671.6,386.3 671.8,386.3 672.0,385.1 672.2,385.4 672.4,385.4 672.6,386.5 672.8,388.9 673.0,389.2 673.2,386.1 673.4,386.7 673.6,385.8 673.8,385.5 674.0,387.2 674.2,387.4 674.4,386.6 674.6,388.1 674.8,387.0 675.0,388.7" fill="none" stroke="#0010c0" stroke-width="2.6" stroke-linejoin="round"/>
<polygon points="166.2,422.2 166.4,420.4 166.6,418.6 166.8,416.8 167.0,415.0 167.2,413.7 167.4,412.5 167.6,411.2 167.8,409.9 168.0,408.7 168.2,407.4 168.4,406.1 168.6,405.4 168.8,405.1 169.0,404.8 169.2,404.5 169.4,404.2 169.6,404.5 169.8,405.5 170.0,406.5 170.2,407.5 170.4,408.5 170.6,409.9 170.8,411.7 171.0,413.6 171.2,415.4 171.4,417.2 171.6,419.0 171.8,420.9 172.0,422.7 172.2,423.3 172.4,423.9 172.6,424.5 172.8,425.0 173.0,425.6 173.2,426.2 173.4,426.8 173.6,427.4 173.8,428.0 174.0,428.6 174.2,429.2 174.2,433.2 174.0,433.0 173.8,432.7 173.6,432.5 173.4,432.3 173.2,432.1 173.0,431.8 172.8,431.6 172.6,431.4 172.4,431.1 172.2,430.9 172.0,430.7 171.8,430.4 171.6,430.2 171.4,430.0 171.2,429.7 171.0,429.5 170.8,428.9 170.6,428.3 170.4,427.7 170.2,427.2 170.0,426.6 169.8,426.0 169.6,425.4 169.4,424.8 169.2,424.2 169.0,423.6 168.8,423.3 168.6,423.5 168.4,423.8 168.2,424.0 168.0,424.2 167.8,424.4 167.6,424.6 167.4,424.9 167.2,425.1 167.0,425.3 166.8,425.3 166.6,425.3 166.4,425.3 166.2,425.3" fill="#008080" stroke="#008080" stroke-width="1.5" stroke-linejoin="round"/>
<polygon points="211.4,443.4 211.6,442.3 211.8,440.8 212.0,439.3 212.2,437.9 212.4,436.4 212.6,434.9 212.8,433.5 213.0,432.0 213.2,433.1 213.4,434.1 213.6,435.2 213.8,436.3 214.0,437.3 214.2,438.4 214.4,439.5 214.6,440.8 214.8,442.4 215.0,444.0 215.2,445.6 215.4,447.2 215.6,448.8 215.8,450.4 215.8,454.3 215.6,454.3 215.4,454.3 215.2,454.3 215.0,454.3 214.8,454.3 214.6,454.3 214.4,454.3 214.2,454.3 214.0,454.3 213.8,453.9 213.6,453.4 213.4,453.0 213.2,452.6 213.0,452.1 212.8,451.7 212.6,451.3 212.4,450.9 212.2,450.4 212.0,450.0 211.8,448.4 211.6,447.0 211.4,447.0" fill="#008080" stroke="#008080" stroke-width="1.5" stroke-linejoin="round"/>
<polygon points="222.0,450.5 222.2,446.4 222.4,442.4 222.6,438.3 222.8,434.2 223.0,430.2 223.2,426.1 223.4,422.0 223.6,417.8 223.8,413.3 224.0,408.8 224.2,404.4 224.4,399.9 224.6,395.5 224.8,391.0 225.0,391.0 225.2,391.0 225.4,391.0 225.6,391.0 225.8,391.0 226.0,396.7 226.2,402.3 226.4,408.0 226.6,413.7 226.8,419.3 227.0,425.0 227.2,430.7 227.4,436.4 227.6,442.0 227.8,447.7 228.0,453.4 228.0,453.9 227.8,453.8 227.6,453.7 227.4,453.5 227.2,453.4 227.0,453.3 226.8,453.2 226.6,453.0 226.4,452.9 226.2,452.8 226.0,452.7 225.8,452.5 225.6,452.4 225.4,452.3 225.2,452.2 225.0,452.0 224.8,451.9 224.6,451.8 224.4,451.7 224.2,451.5 224.0,451.4 223.8,451.7 223.6,452.0 223.4,452.3 223.2,452.6 223.0,452.9 222.8,453.1 222.6,453.4 222.4,453.7 222.2,454.0 222.0,454.3" fill="#008080" stroke="#008080" stroke-width="1.5" stroke-linejoin="round"/>
<polygon points="245.0,451.1 245.2,450.5 245.4,450.0 245.6,449.5 245.8,449.0 246.0,448.4 246.2,447.9 246.4,447.4 246.6,446.9 246.8,446.3 247.0,445.8 247.2,445.3 247.4,444.8 247.6,444.2 247.8,443.7 248.0,443.2 248.2,442.2 248.4,441.2 248.6,440.2 248.8,439.1 249.0,438.1 249.2,437.1 249.4,436.1 249.6,435.1 249.8,434.1 250.0,433.1 250.2,432.1 250.4,431.0 250.6,430.0 250.8,429.0 251.0,428.0 251.2,429.7 251.4,431.4 251.6,433.1 251.8,434.8 252.0,436.5 252.2,438.2 252.4,439.9 252.6,441.6 252.8,443.3 253.0,445.0 253.2,445.8 253.4,446.7 253.6,447.5 253.8,448.4 254.0,449.2 254.2,450.0 254.4,450.9 254.4,454.4 254.2,454.2 254.0,454.0 253.8,453.9 253.6,453.7 253.4,453.5 253.2,453.3 253.0,453.2 252.8,453.0 252.6,452.8 252.4,452.6 252.2,452.5 252.0,452.3 251.8,452.1 251.6,451.9 251.4,451.8 251.2,451.6 251.0,451.4 250.8,450.6 250.6,449.7 250.4,448.9 250.2,448.0 250.0,447.2 249.8,447.0 249.6,447.5 249.4,448.0 249.2,448.5 249.0,449.1 248.8,449.6 248.6,450.1 248.4,450.6 248.2,451.2 248.0,451.7 247.8,452.2 247.6,452.7 247.4,453.3 247.2,453.8 247.0,454.3 246.8,454.3 246.6,454.4 246.4,454.4 246.2,454.5 246.0,454.5 245.8,454.5 245.6,454.6 245.4,454.6 245.2,454.6 245.0,454.7" fill="#008080" stroke="#008080" stroke-width="1.5" stroke-linejoin="round"/>
<polygon points="261.6,453.1 261.8,452.5 262.0,451.9 262.2,451.3 262.4,450.8 262.6,450.2 262.8,449.6 263.0,449.0 263.2,449.9 263.4,450.8 263.6,451.6 263.8,452.5 264.0,453.4 264.2,454.3 264.4,455.2 264.4,458.4 264.2,458.3 264.0,458.3 263.8,458.2 263.6,458.1 263.4,458.0 263.2,458.0 263.0,457.9 262.8,457.7 262.6,457.5 262.4,457.3 262.2,457.1 262.0,456.8 261.8,456.6 261.6,456.4" fill="#008080" stroke="#008080" stroke-width="1.5" stroke-linejoin="round"/>
<polygon points="294.6,455.6 294.8,455.2 295.0,454.8 295.2,454.3 295.4,453.9 295.6,453.5 295.8,453.0 296.0,452.6 296.2,452.0 296.4,451.4 296.6,450.8 296.8,450.2 297.0,449.7 297.2,449.1 297.4,448.5 297.6,447.9 297.8,447.3 298.0,446.7 298.2,446.8 298.4,447.0 298.6,447.1 298.8,447.3 299.0,447.4 299.2,447.6 299.4,447.7 299.6,447.9 299.6,451.5 299.4,451.9 299.2,452.3 299.0,452.8 298.8,453.2 298.6,453.6 298.4,454.1 298.2,454.5 298.0,455.0 297.8,455.4 297.6,455.8 297.4,456.3 297.2,456.7 297.0,457.1 296.8,457.6 296.6,458.0 296.4,458.4 296.2,458.9 296.0,459.3 295.8,459.3 295.6,459.3 295.4,459.3 295.2,459.3 295.0,459.3 294.8,459.3 294.6,459.3" fill="#008080" stroke="#008080" stroke-width="1.5" stroke-linejoin="round"/>
<polygon points="303.0,444.8 303.2,443.8 303.4,442.9 303.6,441.9 303.8,441.0 304.0,440.0 304.2,440.7 304.4,441.4 304.6,442.1 304.8,442.8 305.0,443.5 305.2,444.2 305.4,444.9 305.6,445.6 305.8,446.3 306.0,447.0 306.2,447.7 306.4,448.4 306.6,449.1 306.8,449.8 307.0,450.5 307.0,454.2 306.8,454.1 306.6,453.9 306.4,453.8 306.2,453.6 306.0,453.5 305.8,453.3 305.6,453.2 305.4,453.0 305.2,452.9 305.0,452.7 304.8,452.6 304.6,452.4 304.4,452.3 304.2,452.1 304.0,452.0 303.8,451.3 303.6,450.6 303.4,449.9 303.2,449.2 303.0,448.5" fill="#008080" stroke="#008080" stroke-width="1.5" stroke-linejoin="round"/>
<polygon points="341.4,445.8 341.6,445.0 341.8,444.1 342.0,443.3 342.2,442.4 342.4,441.6 342.6,440.7 342.8,439.9 343.0,439.0 343.2,440.1 343.4,441.2 343.6,442.3 343.8,443.4 344.0,444.5 344.2,445.6 344.4,446.7 344.6,447.8 344.8,448.9 345.0,450.0 345.2,450.8 345.4,451.7 345.6,452.5 345.6,456.4 345.4,456.4 345.2,456.4 345.0,456.4 344.8,456.4 344.6,456.4 344.4,456.4 344.2,456.4 344.0,456.4 343.8,456.4 343.6,456.4 343.4,456.4 343.2,456.4 343.0,456.4 342.8,455.6 342.6,454.7 342.4,453.9 342.2,453.0 342.0,452.2 341.8,451.4 341.6,450.5 341.4,449.8" fill="#008080" stroke="#008080" stroke-width="1.5" stroke-linejoin="round"/>
<polygon points="376.2,455.5 376.4,455.2 376.6,454.5 376.8,453.4 377.0,452.3 377.2,451.3 377.4,450.2 377.6,449.1 377.8,448.1 378.0,447.0 378.2,447.8 378.4,448.6 378.6,449.4 378.8,450.2 379.0,451.0 379.2,451.8 379.4,452.6 379.6,453.4 379.8,454.2 379.8,457.7 379.6,457.7 379.4,457.7 379.2,457.6 379.0,457.6 378.8,457.6 378.6,457.6 378.4,457.5 378.2,457.5 378.0,457.5 377.8,457.9 377.6,458.2 377.4,458.6 377.2,458.9 377.0,459.3 376.8,459.3 376.6,459.3 376.4,459.4 376.2,459.4" fill="#008080" stroke="#008080" stroke-width="1.5" stroke-linejoin="round"/>
<polygon points="416.0,457.0 416.2,456.4 416.4,455.7 416.6,455.0 416.8,454.4 417.0,453.7 417.2,453.0 417.4,452.3 417.6,451.5 417.8,450.6 418.0,449.7 418.2,448.7 418.4,447.8 418.6,446.9 418.8,445.9 419.0,445.0 419.2,446.0 419.4,447.0 419.6,448.0 419.8,449.0 420.0,450.0 420.2,451.0 420.4,452.0 420.6,453.0 420.8,454.0 421.0,455.0 421.2,455.4 421.4,455.8 421.6,456.2 421.8,456.6 422.0,457.0 422.2,457.4 422.2,461.3 422.0,461.3 421.8,461.2 421.6,461.2 421.4,461.1 421.2,461.1 421.0,461.0 420.8,460.6 420.6,460.2 420.4,459.8 420.2,459.4 420.0,459.0 419.8,458.6 419.6,458.2 419.4,457.8 419.2,457.7 419.0,458.4 418.8,458.5 418.6,458.7 418.4,458.8 418.2,459.0 418.0,459.1 417.8,459.3 417.6,459.4 417.4,459.6 417.2,459.7 417.0,459.8 416.8,460.0 416.6,460.1 416.4,460.3 416.2,460.4 416.0,460.6" fill="#008080" stroke="#008080" stroke-width="1.5" stroke-linejoin="round"/>
<polygon points="444.2,458.8 444.4,458.3 444.6,457.8 444.8,457.4 445.0,456.9 445.2,456.5 445.4,456.1 445.6,455.7 445.8,455.3 446.0,454.9 446.2,454.5 446.4,454.1 446.6,453.7 446.8,453.3 447.0,453.0 447.2,452.6 447.4,452.2 447.6,451.8 447.8,451.4 448.0,451.0 448.2,450.6 448.4,450.2 448.6,449.8 448.8,449.4 449.0,449.0 449.2,449.7 449.4,450.5 449.6,451.2 449.8,451.9 450.0,452.7 450.2,453.4 450.4,454.1 450.6,454.9 450.8,455.6 451.0,456.3 451.2,457.1 451.4,457.8 451.6,458.5 451.8,459.3 451.8,462.8 451.6,462.8 451.4,462.8 451.2,462.8 451.0,462.8 450.8,462.5 450.6,462.2 450.4,461.8 450.2,461.5 450.0,461.2 449.8,460.9 449.6,460.6 449.4,460.2 449.2,459.9 449.0,459.6 448.8,459.3 448.6,459.0 448.4,458.6 448.2,458.3 448.0,458.0 447.8,457.7 447.6,458.2 447.4,458.7 447.2,459.2 447.0,459.6 446.8,460.1 446.6,460.6 446.4,461.1 446.2,461.5 446.0,462.0 445.8,462.0 445.6,462.1 445.4,462.1 445.2,462.2 445.0,462.2 444.8,462.3 444.6,462.3 444.4,462.4 444.2,462.4" fill="#008080" stroke="#008080" stroke-width="1.5" stroke-linejoin="round"/>
<polygon points="474.6,458.5 474.8,458.3 475.0,458.0 475.2,458.4 475.4,458.8 475.6,459.2 475.8,459.6 475.8,463.5 475.6,463.4 475.4,463.2 475.2,463.0 475.0,462.8 474.8,462.7 474.6,462.5" fill="#008080" stroke="#008080" stroke-width="1.5" stroke-linejoin="round"/>
<polygon points="497.8,460.8 498.0,460.0 498.2,459.2 498.4,458.4 498.6,457.6 498.8,456.8 499.0,456.0 499.2,456.6 499.4,457.2 499.6,457.8 499.8,458.4 500.0,459.0 500.2,459.6 500.4,460.2 500.6,460.8 500.8,461.4 500.8,465.1 500.6,464.9 500.4,464.6 500.2,464.3 500.0,464.0 499.8,463.8 499.6,463.5 499.4,463.8 499.2,464.1 499.0,464.5 498.8,464.5 498.6,464.5 498.4,464.5 498.2,464.5 498.0,464.5 497.8,464.5" fill="#008080" stroke="#008080" stroke-width="1.5" stroke-linejoin="round"/>
<polygon points="513.4,463.2 513.6,462.9 513.8,462.5 514.0,462.2 514.2,461.8 514.4,461.5 514.6,461.1 514.8,460.8 515.0,460.4 515.2,460.7 515.4,461.0 515.4,464.7 515.2,465.1 515.0,465.4 514.8,465.8 514.6,466.1 514.4,466.5 514.2,466.8 514.0,467.2 513.8,467.2 513.6,467.2 513.4,467.2" fill="#008080" stroke="#008080" stroke-width="1.5" stroke-linejoin="round"/>
<polyline points="9.0,452.3 9.2,453.1 9.4,456.2 9.6,454.6 9.8,450.9 10.0,453.5 10.2,452.6 10.4,454.0 10.6,451.3 10.8,454.4 11.0,454.5 11.2,456.8 11.4,454.9 11.6,455.4 11.8,452.3 12.0,458.3 12.2,451.9 12.4,456.9 12.6,454.6 12.8,453.9 13.0,454.3 13.2,454.4 13.4,456.2 13.6,455.5 13.8,458.1 14.0,453.0 14.2,455.9 14.4,454.6 14.6,457.3 14.8,452.9 15.0,455.7 15.2,456.6 15.4,454.0 15.6,457.9 15.8,456.7 16.0,458.0 16.2,456.2 16.4,451.5 16.6,450.5 16.8,450.1 17.0,451.7 17.2,453.7 17.4,453.8 17.6,455.8 17.8,455.6 18.0,456.0 18.2,456.6 18.4,456.8 18.6,460.2 18.8,456.4 19.0,456.9 19.2,458.2 19.4,456.1 19.6,457.1 19.8,457.8 20.0,459.1 20.2,455.9 20.4,460.0 20.6,457.4 20.8,458.2 21.0,459.3 21.2,459.0 21.4,455.4 21.6,451.3 21.8,452.9 22.0,457.9 22.2,456.3 22.4,459.7 22.6,457.4 22.8,460.9 23.0,463.8 23.2,458.9 23.4,452.4 23.6,453.4 23.8,452.6 24.0,457.4 24.2,455.6 24.4,456.1 24.6,452.0 24.8,450.6 25.0,452.1 25.2,455.3 25.4,457.5 25.6,459.8 25.8,454.4 26.0,457.5 26.2,454.9 26.4,455.5 26.6,453.4 26.8,453.3 27.0,454.3 27.2,453.6 27.4,455.3 27.6,454.2 27.8,457.2 28.0,455.4 28.2,455.3 28.4,456.9 28.6,455.8 28.8,454.9 29.0,454.8 29.2,454.7 29.4,456.7 29.6,456.2 29.8,455.6 30.0,456.3 30.2,454.2 30.4,456.0 30.6,452.9 30.8,457.4 31.0,455.4 31.2,455.7 31.4,456.4 31.6,455.4 31.8,455.1 32.0,457.4 32.2,455.7 32.4,454.1 32.6,456.3 32.8,450.5 33.0,452.3 33.2,452.7 33.4,455.7 33.6,458.8 33.8,458.6 34.0,455.7 34.2,456.5 34.4,457.1 34.6,457.9 34.8,455.1 35.0,455.4 35.2,457.0 35.4,455.5 35.6,456.2 35.8,455.9 36.0,452.9 36.2,453.2 36.4,450.3 36.6,453.8 36.8,454.8 37.0,449.4 37.2,451.4 37.4,451.4 37.6,451.1 37.8,452.7 38.0,454.2 38.2,452.6 38.4,453.5 38.6,453.9 38.8,455.0 39.0,455.2 39.2,452.6 39.4,455.2 39.6,452.5 39.8,453.5 40.0,453.2 40.2,449.2 40.4,447.7 40.6,450.9 40.8,452.7 41.0,452.5 41.2,453.3 41.4,455.2 41.6,453.4 41.8,456.6 42.0,453.9 42.2,448.8 42.4,452.6 42.6,453.3 42.8,447.4 43.0,447.9 43.2,450.6 43.4,455.3 43.6,454.7 43.8,454.0 44.0,453.5 44.2,453.2 44.4,448.9 44.6,446.3 44.8,448.0 45.0,449.7 45.2,452.3 45.4,453.8 45.6,452.5 45.8,447.7 46.0,450.2 46.2,447.6 46.4,446.4 46.6,446.9 46.8,448.9 47.0,449.7 47.2,456.8 47.4,458.7 47.6,455.9 47.8,451.8 48.0,452.3 48.2,455.4 48.4,455.9 48.6,454.7 48.8,453.9 49.0,452.6 49.2,455.4 49.4,456.8 49.6,451.7 49.8,456.3 50.0,450.9 50.2,453.9 50.4,455.1 50.6,452.2 50.8,451.9 51.0,454.7 51.2,455.7 51.4,453.4 51.6,456.3 51.8,452.8 52.0,456.8 52.2,454.1 52.4,454.2 52.6,454.8 52.8,454.3 53.0,456.7 53.2,457.1 53.4,454.5 53.6,453.3 53.8,451.6 54.0,452.3 54.2,450.6 54.4,447.6 54.6,446.7 54.8,447.0 55.0,449.3 55.2,450.8 55.4,452.2 55.6,455.8 55.8,455.5 56.0,453.2 56.2,456.4 56.4,453.2 56.6,454.0 56.8,451.5 57.0,456.0 57.2,454.7 57.4,456.5 57.6,455.9 57.8,455.7 58.0,458.3 58.2,460.4 58.4,459.4 58.6,457.5 58.8,455.1 59.0,456.1 59.2,456.2 59.4,457.5 59.6,454.4 59.8,456.5 60.0,453.2 60.2,455.2 60.4,454.2 60.6,456.7 60.8,454.8 61.0,452.8 61.2,454.5 61.4,453.9 61.6,452.6 61.8,452.6 62.0,451.4 62.2,457.3 62.4,453.0 62.6,454.4 62.8,450.8 63.0,450.8 63.2,452.3 63.4,452.3 63.6,453.9 63.8,452.8 64.0,457.2 64.2,458.2 64.4,451.6 64.6,452.6 64.8,450.6 65.0,453.0 65.2,453.0 65.4,455.3 65.6,451.2 65.8,452.7 66.0,454.2 66.2,450.5 66.4,452.4 66.6,451.0 66.8,451.3 67.0,453.8 67.2,453.9 67.4,456.7 67.6,455.1 67.8,455.0 68.0,452.6 68.2,452.8 68.4,455.0 68.6,452.5 68.8,458.5 69.0,455.1 69.2,453.0 69.4,452.5 69.6,454.7 69.8,455.2 70.0,452.5 70.2,453.9 70.4,453.3 70.6,453.9 70.8,457.2 71.0,458.1 71.2,455.7 71.4,457.2 71.6,451.2 71.8,453.0 72.0,450.6 72.2,450.9 72.4,451.0 72.6,453.4 72.8,449.8 73.0,450.7 73.2,452.2 73.4,447.3 73.6,447.5 73.8,449.6 74.0,451.5 74.2,457.4 74.4,455.2 74.6,453.1 74.8,450.8 75.0,449.0 75.2,452.9 75.4,450.1 75.6,449.7 75.8,448.5 76.0,449.1 76.2,449.6 76.4,449.9 76.6,451.4 76.8,446.9 77.0,445.7 77.2,445.3 77.4,446.0 77.6,449.0 77.8,451.7 78.0,449.4 78.2,449.6 78.4,448.7 78.6,451.8 78.8,450.5 79.0,447.5 79.2,449.6 79.4,446.9 79.6,450.6 79.8,449.9 80.0,448.5 80.2,448.0 80.4,445.8 80.6,449.8 80.8,448.1 81.0,447.7 81.2,449.5 81.4,446.9 81.6,446.9 81.8,446.7 82.0,445.5 82.2,452.0 82.4,447.2 82.6,446.8 82.8,449.1 83.0,442.6 83.2,447.1 83.4,447.0 83.6,445.1 83.8,447.6 84.0,443.2 84.2,446.4 84.4,447.9 84.6,442.4 84.8,443.2 85.0,443.1 85.2,441.5 85.4,441.1 85.6,444.4 85.8,446.1 86.0,443.2 86.2,445.4 86.4,443.3 86.6,442.1 86.8,441.6 87.0,447.5 87.2,445.3 87.4,451.7 87.6,449.7 87.8,449.1 88.0,445.3 88.2,442.6 88.4,442.5 88.6,442.5 88.8,442.6 89.0,441.5 89.2,444.6 89.4,449.8 89.6,448.2 89.8,449.5 90.0,446.0 90.2,446.9 90.4,445.7 90.6,448.3 90.8,447.8 91.0,450.7 91.2,453.7 91.4,452.1 91.6,450.7 91.8,445.4 92.0,450.0 92.2,447.4 92.4,448.0 92.6,448.4 92.8,450.7 93.0,448.0 93.2,447.0 93.4,445.5 93.6,448.2 93.8,445.9 94.0,446.4 94.2,447.2 94.4,448.3 94.6,444.8 94.8,440.6 95.0,438.5 95.2,437.7 95.4,438.4 95.6,443.0 95.8,440.8 96.0,445.4 96.2,442.2 96.4,445.3 96.6,442.9 96.8,441.3 97.0,438.0 97.2,437.1 97.4,437.5 97.6,438.3 97.8,440.1 98.0,442.6 98.2,440.7 98.4,442.4 98.6,443.5 98.8,437.4 99.0,438.7 99.2,437.7 99.4,438.7 99.6,439.4 99.8,440.1 100.0,440.2 100.2,442.3 100.4,439.1 100.6,443.6 100.8,439.7 101.0,442.7 101.2,443.4 101.4,438.7 101.6,443.2 101.8,445.2 102.0,439.9 102.2,442.0 102.4,440.4 102.6,440.8 102.8,440.1 103.0,439.4 103.2,441.9 103.4,442.1 103.6,442.7 103.8,447.1 104.0,447.7 104.2,447.7 104.4,444.8 104.6,445.9 104.8,442.3 105.0,433.9 105.2,432.5 105.4,432.8 105.6,438.9 105.8,441.2 106.0,437.8 106.2,438.8 106.4,439.6 106.6,435.5 106.8,439.2 107.0,437.2 107.2,438.1 107.4,437.6 107.6,435.2 107.8,435.5 108.0,437.6 108.2,440.3 108.4,442.9 108.6,445.4 108.8,445.6 109.0,445.4 109.2,444.6 109.4,440.2 109.6,436.9 109.8,439.6 110.0,438.2 110.2,439.0 110.4,437.8 110.6,435.7 110.8,438.1 111.0,434.9 111.2,436.0 111.4,435.6 111.6,439.6 111.8,440.1 112.0,439.8 112.2,439.6 112.4,438.6 112.6,434.9 112.8,433.6 113.0,436.3 113.2,436.9 113.4,436.0 113.6,436.0 113.8,434.4 114.0,432.3 114.2,437.1 114.4,433.2 114.6,433.7 114.8,436.7 115.0,433.9 115.2,433.3 115.4,434.3 115.6,437.6 115.8,437.7 116.0,439.8 116.2,440.8 116.4,442.2 116.6,444.8 116.8,440.7 117.0,441.2 117.2,436.2 117.4,438.6 117.6,442.1 117.8,443.7 118.0,433.0 118.2,439.8 118.4,434.7 118.6,436.9 118.8,437.7 119.0,434.0 119.2,435.1 119.4,436.2 119.6,434.5 119.8,432.9 120.0,434.7 120.2,434.3 120.4,430.9 120.6,436.8 120.8,433.6 121.0,427.5 121.2,427.7 121.4,429.3 121.6,429.8 121.8,429.3 122.0,428.0 122.2,432.3 122.4,435.2 122.6,433.7 122.8,432.0 123.0,431.1 123.2,434.6 123.4,432.2 123.6,433.5 123.8,433.8 124.0,438.1 124.2,438.4 124.4,438.9 124.6,435.0 124.8,436.4 125.0,434.3 125.2,432.4 125.4,427.1 125.6,431.0 125.8,432.4 126.0,435.8 126.2,433.3 126.4,433.5 126.6,433.5 126.8,434.2 127.0,428.7 127.2,429.3 127.4,428.3 127.6,431.4 127.8,432.9 128.0,434.8 128.2,431.1 128.4,431.3 128.6,427.9 128.8,433.8 129.0,428.2 129.2,434.0 129.4,432.5 129.6,426.1 129.8,431.0 130.0,430.1 130.2,424.9 130.4,430.0 130.6,428.3 130.8,429.4 131.0,426.4 131.2,428.4 131.4,429.5 131.6,428.1 131.8,427.1 132.0,428.2 132.2,428.2 132.4,433.4 132.6,431.3 132.8,435.2 133.0,434.5 133.2,432.8 133.4,429.4 133.6,420.9 133.8,429.9 134.0,428.5 134.2,434.6 134.4,434.4 134.6,433.3 134.8,429.1 135.0,425.7 135.2,429.8 135.4,423.1 135.6,428.4 135.8,427.7 136.0,431.6 136.2,427.9 136.4,427.4 136.6,426.4 136.8,426.0 137.0,426.6 137.2,429.1 137.4,424.3 137.6,426.9 137.8,423.6 138.0,426.6 138.2,427.2 138.4,423.5 138.6,425.0 138.8,424.3 139.0,420.8 139.2,419.0 139.4,420.7 139.6,422.9 139.8,421.2 140.0,426.9 140.2,428.0 140.4,425.2 140.6,423.7 140.8,417.4 141.0,419.8 141.2,424.1 141.4,418.7 141.6,423.0 141.8,425.8 142.0,424.2 142.2,426.9 142.4,420.4 142.6,421.4 142.8,417.6 143.0,419.6 143.2,424.9 143.4,428.8 143.6,428.1 143.8,425.4 144.0,420.8 144.2,418.1 144.4,422.9 144.6,423.6 144.8,419.9 145.0,420.8 145.2,427.1 145.4,425.5 145.6,425.7 145.8,424.7 146.0,423.5 146.2,421.9 146.4,424.6 146.6,422.7 146.8,420.7 147.0,419.4 147.2,417.7 147.4,417.6 147.6,416.8 147.8,425.5 148.0,419.9 148.2,422.7 148.4,426.3 148.6,422.0 148.8,423.0 149.0,424.4 149.2,418.1 149.4,423.4 149.6,422.4 149.8,424.4 150.0,426.3 150.2,426.7 150.4,428.5 150.6,428.4 150.8,427.6 151.0,425.2 151.2,427.6 151.4,422.7 151.6,424.9 151.8,428.1 152.0,426.8 152.2,428.0 152.4,431.0 152.6,429.6 152.8,419.3 153.0,417.5 153.2,416.4 153.4,421.4 153.6,424.7 153.8,423.1 154.0,425.7 154.2,426.1 154.4,427.1 154.6,426.2 154.8,428.0 155.0,428.7 155.2,427.5 155.4,424.3 155.6,430.2 155.8,428.2 156.0,428.9 156.2,428.3 156.4,424.0 156.6,429.2 156.8,426.3 157.0,424.9 157.2,430.6 157.4,427.1 157.6,428.5 157.8,429.8 158.0,431.2 158.2,423.4 158.4,425.8 158.6,429.3 158.8,426.0 159.0,420.9 159.2,428.0 159.4,427.5 159.6,425.3 159.8,421.5 160.0,422.1 160.2,427.7 160.4,430.6 160.6,431.1 160.8,432.3 161.0,431.0 161.2,425.0 161.4,425.6 161.6,422.3 161.8,421.6 162.0,419.7 162.2,425.6 162.4,427.2 162.6,425.0 162.8,428.9 163.0,423.8 163.2,427.9 163.4,423.5 163.6,420.3 163.8,424.1 164.0,423.7 164.2,422.6 164.4,418.8 164.6,419.1 164.8,418.6 165.0,418.3 165.2,418.2 165.4,426.0 165.6,426.1 165.8,425.1 166.0,423.6 166.2,421.2 166.4,419.3 166.6,417.5 166.8,416.3 167.0,415.2 167.2,413.3 167.4,411.5 167.6,410.9 167.8,409.1 168.0,409.4 168.2,406.6 168.4,406.4 168.6,405.8 168.8,404.4 169.0,405.3 169.2,404.3 169.4,403.6 169.6,403.8 169.8,405.5 170.0,407.1 170.2,406.3 170.4,408.8 170.6,409.7 170.8,411.3 171.0,413.4 171.2,415.3 171.4,417.1 171.6,419.3 171.8,420.4 172.0,423.7 172.2,423.9 172.4,424.5 172.6,425.2 172.8,426.3 173.0,425.5 173.2,425.3 173.4,425.4 173.6,426.1 173.8,426.5 174.0,428.1 174.2,428.8 174.4,429.4 174.6,431.1 174.8,430.2 175.0,430.1 175.2,424.2 175.4,425.0 175.6,427.8 175.8,430.2 176.0,429.7 176.2,433.3 176.4,430.8 176.6,432.1 176.8,433.6 177.0,437.4 177.2,437.1 177.4,442.2 177.6,440.6 177.8,439.2 178.0,439.6 178.2,432.5 178.4,433.6 178.6,435.6 178.8,437.4 179.0,434.4 179.2,435.0 179.4,438.4 179.6,434.4 179.8,437.0 180.0,439.2 180.2,436.3 180.4,438.7 180.6,436.9 180.8,434.0 181.0,436.2 181.2,437.0 181.4,436.9 181.6,437.8 181.8,438.8 182.0,438.6 182.2,438.5 182.4,437.3 182.6,437.9 182.8,433.2 183.0,430.7 183.2,433.8 183.4,434.8 183.6,443.5 183.8,441.4 184.0,440.8 184.2,440.9 184.4,438.2 184.6,441.8 184.8,436.9 185.0,438.3 185.2,437.6 185.4,439.0 185.6,438.3 185.8,438.2 186.0,439.3 186.2,441.4 186.4,439.5 186.6,439.4 186.8,438.7 187.0,437.9 187.2,436.5 187.4,437.3 187.6,439.7 187.8,436.0 188.0,441.3 188.2,439.2 188.4,438.0 188.6,434.4 188.8,433.2 189.0,434.9 189.2,437.5 189.4,439.0 189.6,436.8 189.8,433.2 190.0,438.3 190.2,438.9 190.4,439.6 190.6,441.7 190.8,445.0 191.0,442.8 191.2,442.7 191.4,446.3 191.6,445.1 191.8,444.2 192.0,447.5 192.2,445.6 192.4,443.5 192.6,442.9 192.8,444.4 193.0,445.8 193.2,447.3 193.4,449.1 193.6,449.9 193.8,450.0 194.0,451.1 194.2,446.7 194.4,440.4 194.6,440.3 194.8,444.7 195.0,447.5 195.2,448.5 195.4,444.5 195.6,450.1 195.8,443.2 196.0,446.5 196.2,449.0 196.4,448.4 196.6,444.5 196.8,447.5 197.0,448.6 197.2,447.6 197.4,444.2 197.6,449.1 197.8,442.8 198.0,446.0 198.2,443.7 198.4,444.9 198.6,445.0 198.8,446.5 199.0,442.9 199.2,445.8 199.4,447.7 199.6,445.4 199.8,446.2 200.0,445.9 200.2,443.7 200.4,443.3 200.6,442.5 200.8,441.9 201.0,445.6 201.2,446.7 201.4,444.5 201.6,441.1 201.8,439.0 202.0,439.5 202.2,448.4 202.4,448.1 202.6,443.6 202.8,447.4 203.0,451.5 203.2,448.5 203.4,448.7 203.6,448.2 203.8,446.5 204.0,445.9 204.2,446.6 204.4,448.6 204.6,448.0 204.8,449.8 205.0,451.8 205.2,449.7 205.4,450.1 205.6,447.8 205.8,446.1 206.0,452.2 206.2,449.7 206.4,450.5 206.6,447.6 206.8,445.4 207.0,450.8 207.2,444.8 207.4,448.2 207.6,447.6 207.8,447.2 208.0,443.8 208.2,442.9 208.4,442.4 208.6,446.4 208.8,442.2 209.0,446.7 209.2,447.7 209.4,447.4 209.6,448.6 209.8,447.3 210.0,449.8 210.2,450.8 210.4,449.8 210.6,446.9 210.8,447.2 211.0,446.7 211.2,446.1 211.4,445.2 211.6,443.4 211.8,441.3 212.0,439.1 212.2,437.4 212.4,435.5 212.6,433.9 212.8,432.7 213.0,431.1 213.2,433.0 213.4,434.0 213.6,435.1 213.8,434.6 214.0,435.6 214.2,436.7 214.4,439.9 214.6,440.4 214.8,442.6 215.0,444.0 215.2,445.2 215.4,447.5 215.6,449.0 215.8,450.1 216.0,451.2 216.2,452.7 216.4,452.5 216.6,453.8 216.8,454.3 217.0,456.0 217.2,455.0 217.4,458.3 217.6,457.5 217.8,459.1 218.0,457.4 218.2,455.2 218.4,454.2 218.6,455.4 218.8,456.4 219.0,454.6 219.2,458.9 219.4,454.9 219.6,455.5 219.8,454.5 220.0,451.9 220.2,455.5 220.4,454.6 220.6,454.6 220.8,451.2 221.0,452.5 221.2,451.8 221.4,452.0 221.6,450.6 221.8,451.2 222.0,450.8 222.2,446.4 222.4,442.3 222.6,438.4 222.8,434.0 223.0,429.9 223.2,426.0 223.4,422.2 223.6,417.7 223.8,413.0 224.0,408.7 224.2,404.0 224.4,399.7 224.6,395.1 224.8,391.1 225.0,390.4 225.2,391.2 225.4,391.4 225.6,390.6 225.8,390.9 226.0,396.6 226.2,402.2 226.4,408.1 226.6,413.5 226.8,419.1 227.0,424.9 227.2,430.6 227.4,436.3 227.6,442.0 227.8,447.6 228.0,453.0 228.2,453.7 228.4,454.3 228.6,453.4 228.8,453.1 229.0,455.0 229.2,453.6 229.4,448.7 229.6,453.0 229.8,450.6 230.0,449.1 230.2,453.9 230.4,455.5 230.6,454.8 230.8,455.3 231.0,457.9 231.2,453.7 231.4,456.8 231.6,454.7 231.8,457.2 232.0,456.1 232.2,451.9 232.4,453.0 232.6,455.3 232.8,459.3 233.0,455.8 233.2,456.8 233.4,455.6 233.6,454.3 233.8,450.7 234.0,454.2 234.2,459.2 234.4,458.2 234.6,457.9 234.8,459.7 235.0,461.6 235.2,463.0 235.4,461.8 235.6,457.6 235.8,461.4 236.0,459.0 236.2,463.4 236.4,460.4 236.6,462.1 236.8,459.4 237.0,458.2 237.2,458.9 237.4,455.2 237.6,457.6 237.8,456.7 238.0,457.3 238.2,454.1 238.4,453.8 238.6,458.3 238.8,457.1 239.0,456.3 239.2,456.8 239.4,455.9 239.6,456.2 239.8,458.1 240.0,456.6 240.2,458.1 240.4,455.8 240.6,454.1 240.8,455.9 241.0,456.8 241.2,455.2 241.4,456.4 241.6,456.2 241.8,458.5 242.0,458.4 242.2,458.7 242.4,455.7 242.6,457.4 242.8,458.9 243.0,457.0 243.2,456.1 243.4,454.3 243.6,456.4 243.8,454.7 244.0,455.6 244.2,453.1 244.4,453.5 244.6,452.1 244.8,451.0 245.0,451.1 245.2,450.7 245.4,450.5 245.6,449.1 245.8,448.5 246.0,448.1 246.2,447.5 246.4,446.3 246.6,447.0 246.8,446.8 247.0,445.2 247.2,444.6 247.4,444.5 247.6,443.7 247.8,444.0 248.0,442.7 248.2,442.4 248.4,440.4 248.6,439.3 248.8,438.3 249.0,437.3 249.2,437.4 249.4,436.6 249.6,435.2 249.8,434.3 250.0,432.0 250.2,432.8 250.4,430.5 250.6,431.0 250.8,430.4 251.0,428.3 251.2,430.1 251.4,431.8 251.6,432.8 251.8,434.6 252.0,436.4 252.2,438.5 252.4,440.4 252.6,441.9 252.8,443.9 253.0,445.1 253.2,445.5 253.4,447.0 253.6,447.8 253.8,448.0 254.0,450.0 254.2,450.0 254.4,450.9 254.6,452.2 254.8,452.4 255.0,453.4 255.2,453.0 255.4,450.2 255.6,450.1 255.8,450.1 256.0,449.8 256.2,450.9 256.4,454.3 256.6,455.1 256.8,456.3 257.0,458.1 257.2,458.7 257.4,454.8 257.6,457.0 257.8,459.0 258.0,456.3 258.2,456.7 258.4,458.6 258.6,457.4 258.8,459.7 259.0,455.0 259.2,454.2 259.4,454.8 259.6,454.3 259.8,453.3 260.0,455.8 260.2,455.9 260.4,456.7 260.6,453.8 260.8,455.7 261.0,455.5 261.2,454.8 261.4,453.2 261.6,452.8 261.8,452.2 262.0,451.3 262.2,451.8 262.4,450.2 262.6,449.4 262.8,449.4 263.0,448.8 263.2,450.3 263.4,451.2 263.6,451.3 263.8,451.4 264.0,453.4 264.2,454.4 264.4,455.7 264.6,455.2 264.8,456.3 265.0,458.2 265.2,458.5 265.4,459.7 265.6,457.9 265.8,460.2 266.0,457.7 266.2,457.0 266.4,459.0 266.6,459.6 266.8,460.9 267.0,461.6 267.2,457.6 267.4,460.7 267.6,461.1 267.8,458.7 268.0,460.3 268.2,460.9 268.4,461.7 268.6,459.9 268.8,460.4 269.0,459.8 269.2,462.1 269.4,461.2 269.6,461.0 269.8,462.8 270.0,461.8 270.2,460.4 270.4,463.8 270.6,463.6 270.8,463.0 271.0,460.9 271.2,464.0 271.4,461.7 271.6,459.9 271.8,462.4 272.0,464.9 272.2,461.9 272.4,463.4 272.6,464.4 272.8,462.9 273.0,463.2 273.2,465.7 273.4,467.5 273.6,465.0 273.8,463.9 274.0,463.5 274.2,462.2 274.4,463.8 274.6,463.6 274.8,460.9 275.0,459.2 275.2,458.0 275.4,458.9 275.6,460.8 275.8,461.6 276.0,463.2 276.2,464.0 276.4,463.9 276.6,461.9 276.8,463.8 277.0,463.9 277.2,461.8 277.4,463.8 277.6,462.9 277.8,462.6 278.0,463.4 278.2,462.7 278.4,460.0 278.6,463.2 278.8,461.3 279.0,462.7 279.2,463.6 279.4,462.3 279.6,461.9 279.8,462.6 280.0,463.0 280.2,461.1 280.4,461.3 280.6,462.8 280.8,464.2 281.0,461.6 281.2,460.1 281.4,456.5 281.6,455.9 281.8,456.5 282.0,456.9 282.2,460.2 282.4,461.3 282.6,458.2 282.8,461.4 283.0,461.9 283.2,461.8 283.4,461.9 283.6,459.9 283.8,460.4 284.0,461.2 284.2,460.3 284.4,460.8 284.6,463.2 284.8,460.3 285.0,461.0 285.2,464.0 285.4,461.4 285.6,460.2 285.8,461.9 286.0,461.9 286.2,461.8 286.4,459.3 286.6,462.0 286.8,462.1 287.0,464.3 287.2,462.5 287.4,460.9 287.6,461.9 287.8,462.4 288.0,461.2 288.2,461.3 288.4,463.1 288.6,461.8 288.8,461.8 289.0,459.7 289.2,461.6 289.4,458.4 289.6,462.6 289.8,460.2 290.0,461.7 290.2,462.7 290.4,459.2 290.6,459.1 290.8,455.9 291.0,455.6 291.2,456.2 291.4,458.3 291.6,462.5 291.8,461.3 292.0,460.8 292.2,457.5 292.4,458.2 292.6,456.9 292.8,458.8 293.0,457.8 293.2,458.5 293.4,459.0 293.6,457.6 293.8,457.3 294.0,456.7 294.2,457.1 294.4,456.7 294.6,455.6 294.8,454.9 295.0,455.0 295.2,453.8 295.4,454.1 295.6,453.7 295.8,453.2 296.0,453.3 296.2,452.8 296.4,451.7 296.6,450.7 296.8,450.8 297.0,450.2 297.2,448.6 297.4,448.2 297.6,447.8 297.8,446.5 298.0,446.2 298.2,447.6 298.4,446.4 298.6,447.5 298.8,446.9 299.0,447.8 299.2,447.7 299.4,448.3 299.6,447.9 299.8,449.1 300.0,448.6 300.2,448.9 300.4,448.7 300.6,448.9 300.8,448.5 301.0,448.9 301.2,449.6 301.4,448.4 301.6,448.7 301.8,448.5 302.0,447.5 302.2,448.2 302.4,446.0 302.6,446.3 302.8,446.0 303.0,444.1 303.2,443.1 303.4,443.0 303.6,441.5 303.8,441.1 304.0,440.6 304.2,440.6 304.4,440.4 304.6,440.7 304.8,441.5 305.0,442.0 305.2,444.0 305.4,445.6 305.6,445.6 305.8,446.6 306.0,447.9 306.2,447.5 306.4,448.8 306.6,449.7 306.8,449.5 307.0,450.2 307.2,450.4 307.4,451.4 307.6,452.3 307.8,451.8 308.0,456.6 308.2,461.1 308.4,461.5 308.6,460.2 308.8,454.5 309.0,457.2 309.2,457.1 309.4,454.3 309.6,455.7 309.8,457.3 310.0,456.8 310.2,455.2 310.4,458.6 310.6,459.0 310.8,454.8 311.0,459.4 311.2,454.2 311.4,457.3 311.6,456.6 311.8,456.8 312.0,458.0 312.2,455.7 312.4,457.0 312.6,458.8 312.8,452.9 313.0,450.2 313.2,449.2 313.4,448.2 313.6,450.9 313.8,451.9 314.0,454.2 314.2,453.8 314.4,453.2 314.6,452.1 314.8,453.2 315.0,453.3 315.2,452.6 315.4,452.2 315.6,449.4 315.8,453.8 316.0,456.0 316.2,457.0 316.4,453.4 316.6,450.2 316.8,450.5 317.0,449.3 317.2,449.3 317.4,451.5 317.6,449.1 317.8,447.6 318.0,450.0 318.2,450.4 318.4,450.1 318.6,446.7 318.8,450.7 319.0,449.1 319.2,449.3 319.4,449.2 319.6,450.0 319.8,450.0 320.0,451.8 320.2,449.7 320.4,449.2 320.6,450.5 320.8,449.2 321.0,451.4 321.2,449.8 321.4,450.9 321.6,448.7 321.8,451.5 322.0,450.9 322.2,448.4 322.4,446.5 322.6,444.1 322.8,442.4 323.0,443.6 323.2,448.8 323.4,451.1 323.6,452.5 323.8,448.0 324.0,449.7 324.2,446.9 324.4,453.2 324.6,448.1 324.8,450.0 325.0,453.5 325.2,452.9 325.4,449.1 325.6,454.2 325.8,451.6 326.0,449.1 326.2,451.4 326.4,452.1 326.6,452.2 326.8,447.6 327.0,454.1 327.2,448.5 327.4,451.0 327.6,453.8 327.8,453.2 328.0,454.0 328.2,454.5 328.4,456.6 328.6,456.6 328.8,453.1 329.0,453.3 329.2,451.2 329.4,451.2 329.6,448.6 329.8,452.6 330.0,455.2 330.2,455.0 330.4,456.1 330.6,450.0 330.8,447.3 331.0,447.3 331.2,449.3 331.4,450.8 331.6,451.8 331.8,450.1 332.0,446.9 332.2,446.3 332.4,445.1 332.6,445.8 332.8,449.5 333.0,451.1 333.2,453.0 333.4,451.7 333.6,451.8 333.8,454.4 334.0,450.0 334.2,451.9 334.4,454.0 334.6,454.7 334.8,452.3 335.0,451.2 335.2,449.6 335.4,451.1 335.6,451.7 335.8,451.4 336.0,452.2 336.2,452.3 336.4,450.6 336.6,449.9 336.8,450.8 337.0,452.1 337.2,454.0 337.4,448.7 337.6,453.1 337.8,450.8 338.0,453.1 338.2,454.3 338.4,452.0 338.6,449.2 338.8,450.4 339.0,451.7 339.2,450.5 339.4,450.9 339.6,449.7 339.8,450.6 340.0,449.9 340.2,451.6 340.4,449.7 340.6,449.3 340.8,447.5 341.0,447.1 341.2,446.1 341.4,445.4 341.6,444.3 341.8,443.5 342.0,443.8 342.2,442.0 342.4,440.7 342.6,440.3 342.8,440.7 343.0,439.1 343.2,439.4 343.4,440.8 343.6,442.0 343.8,443.1 344.0,443.5 344.2,444.9 344.4,446.4 344.6,446.9 344.8,448.6 345.0,449.8 345.2,451.0 345.4,452.0 345.6,452.3 345.8,453.3 346.0,454.4 346.2,455.3 346.4,455.8 346.6,455.3 346.8,458.3 347.0,459.5 347.2,458.5 347.4,459.2 347.6,460.4 347.8,453.5 348.0,452.4 348.2,452.8 348.4,453.1 348.6,458.0 348.8,462.1 349.0,464.9 349.2,463.9 349.4,461.3 349.6,454.6 349.8,451.6 350.0,451.1 350.2,453.3 350.4,455.7 350.6,456.3 350.8,457.4 351.0,457.9 351.2,460.5 351.4,457.4 351.6,458.1 351.8,461.0 352.0,458.3 352.2,457.2 352.4,457.0 352.6,455.9 352.8,458.7 353.0,459.9 353.2,457.7 353.4,456.7 353.6,458.7 353.8,458.3 354.0,458.2 354.2,458.4 354.4,455.3 354.6,453.0 354.8,455.9 355.0,454.6 355.2,456.9 355.4,458.1 355.6,456.4 355.8,458.1 356.0,451.7 356.2,454.5 356.4,456.6 356.6,458.6 356.8,458.7 357.0,457.1 357.2,457.1 357.4,460.2 357.6,458.2 357.8,456.4 358.0,456.9 358.2,456.6 358.4,459.4 358.6,460.7 358.8,458.8 359.0,459.6 359.2,458.8 359.4,460.9 359.6,461.0 359.8,461.1 360.0,462.3 360.2,458.3 360.4,461.3 360.6,458.0 360.8,461.3 361.0,461.5 361.2,461.5 361.4,464.0 361.6,465.8 361.8,465.9 362.0,465.3 362.2,461.6 362.4,463.5 362.6,463.7 362.8,464.7 363.0,462.8 363.2,460.2 363.4,461.0 363.6,462.7 363.8,461.6 364.0,462.4 364.2,461.1 364.4,462.1 364.6,460.2 364.8,461.2 365.0,463.9 365.2,463.0 365.4,462.3 365.6,462.5 365.8,460.6 366.0,462.8 366.2,460.7 366.4,461.3 366.6,463.2 366.8,461.3 367.0,461.6 367.2,462.1 367.4,462.4 367.6,464.0 367.8,460.0 368.0,461.7 368.2,462.9 368.4,461.5 368.6,461.6 368.8,461.0 369.0,461.6 369.2,462.8 369.4,463.5 369.6,462.4 369.8,463.7 370.0,462.0 370.2,459.7 370.4,462.8 370.6,459.2 370.8,461.7 371.0,461.7 371.2,460.2 371.4,461.4 371.6,460.9 371.8,461.9 372.0,461.3 372.2,462.5 372.4,461.1 372.6,462.4 372.8,461.6 373.0,461.9 373.2,461.4 373.4,460.2 373.6,462.0 373.8,460.9 374.0,456.7 374.2,457.6 374.4,461.3 374.6,458.1 374.8,461.9 375.0,458.4 375.2,458.0 375.4,456.8 375.6,456.5 375.8,456.3 376.0,456.2 376.2,455.5 376.4,455.1 376.6,454.0 376.8,453.1 377.0,452.1 377.2,451.1 377.4,449.8 377.6,448.6 377.8,447.8 378.0,445.9 378.2,447.1 378.4,448.2 378.6,449.5 378.8,449.9 379.0,450.5 379.2,452.1 379.4,452.5 379.6,453.9 379.8,454.1 380.0,454.7 380.2,455.3 380.4,456.5 380.6,456.9 380.8,456.9 381.0,458.6 381.2,455.6 381.4,459.8 381.6,458.9 381.8,458.7 382.0,459.3 382.2,459.6 382.4,458.6 382.6,458.6 382.8,457.5 383.0,461.3 383.2,457.9 383.4,458.8 383.6,460.5 383.8,460.7 384.0,461.0 384.2,458.2 384.4,458.4 384.6,458.9 384.8,457.2 385.0,463.0 385.2,462.1 385.4,464.2 385.6,463.8 385.8,463.2 386.0,462.2 386.2,464.8 386.4,464.9 386.6,460.6 386.8,461.0 387.0,460.7 387.2,460.3 387.4,459.5 387.6,459.6 387.8,462.9 388.0,459.4 388.2,461.3 388.4,456.2 388.6,455.5 388.8,455.6 389.0,456.6 389.2,459.3 389.4,462.6 389.6,459.9 389.8,461.6 390.0,458.4 390.2,462.6 390.4,457.5 390.6,456.1 390.8,455.6 391.0,458.8 391.2,461.1 391.4,463.0 391.6,463.7 391.8,463.5 392.0,462.3 392.2,461.5 392.4,458.7 392.6,461.2 392.8,460.6 393.0,462.2 393.2,459.3 393.4,457.6 393.6,456.4 393.8,456.4 394.0,457.3 394.2,457.9 394.4,459.0 394.6,460.6 394.8,456.5 395.0,455.5 395.2,456.7 395.4,460.3 395.6,461.7 395.8,461.2 396.0,461.5 396.2,464.5 396.4,462.4 396.6,463.8 396.8,463.2 397.0,463.6 397.2,465.2 397.4,463.1 397.6,464.8 397.8,464.2 398.0,463.5 398.2,463.2 398.4,463.2 398.6,465.3 398.8,465.2 399.0,463.0 399.2,464.6 399.4,461.9 399.6,464.3 399.8,466.6 400.0,462.8 400.2,464.6 400.4,463.4 400.6,464.2 400.8,462.8 401.0,464.3 401.2,461.3 401.4,463.6 401.6,463.5 401.8,463.0 402.0,465.1 402.2,461.0 402.4,461.4 402.6,461.7 402.8,464.2 403.0,463.9 403.2,461.1 403.4,461.5 403.6,459.4 403.8,459.1 404.0,459.8 404.2,460.8 404.4,461.6 404.6,461.0 404.8,462.8 405.0,465.0 405.2,463.3 405.4,462.6 405.6,464.0 405.8,464.6 406.0,467.0 406.2,462.6 406.4,463.4 406.6,462.4 406.8,463.9 407.0,467.6 407.2,468.2 407.4,467.0 407.6,468.1 407.8,466.9 408.0,464.9 408.2,462.0 408.4,460.9 408.6,462.4 408.8,459.7 409.0,461.0 409.2,459.8 409.4,461.4 409.6,459.4 409.8,462.3 410.0,463.8 410.2,464.5 410.4,462.4 410.6,465.3 410.8,464.2 411.0,465.3 411.2,458.5 411.4,457.6 411.6,457.6 411.8,457.4 412.0,460.5 412.2,460.9 412.4,460.1 412.6,460.8 412.8,458.9 413.0,460.7 413.2,459.0 413.4,461.8 413.6,462.9 413.8,462.6 414.0,459.6 414.2,459.1 414.4,459.8 414.6,457.0 414.8,456.5 415.0,455.3 415.2,459.3 415.4,459.8 415.6,458.5 415.8,457.5 416.0,457.0 416.2,457.2 416.4,456.1 416.6,454.4 416.8,453.8 417.0,453.6 417.2,453.4 417.4,451.9 417.6,451.1 417.8,449.4 418.0,449.2 418.2,448.7 418.4,447.8 418.6,445.7 418.8,445.0 419.0,443.4 419.2,444.5 419.4,446.5 419.6,446.8 419.8,448.2 420.0,449.1 420.2,450.3 420.4,451.5 420.6,452.8 420.8,454.3 421.0,455.5 421.2,454.6 421.4,455.3 421.6,456.3 421.8,456.1 422.0,456.8 422.2,456.8 422.4,457.2 422.6,457.8 422.8,458.3 423.0,458.7 423.2,456.4 423.4,458.1 423.6,456.8 423.8,460.6 424.0,459.7 424.2,460.8 424.4,461.7 424.6,465.9 424.8,467.8 425.0,466.9 425.2,466.4 425.4,462.7 425.6,464.1 425.8,463.0 426.0,459.9 426.2,463.6 426.4,462.1 426.6,463.2 426.8,462.6 427.0,462.4 427.2,464.9 427.4,462.1 427.6,459.6 427.8,459.7 428.0,461.9 428.2,462.2 428.4,463.9 428.6,463.7 428.8,462.7 429.0,464.0 429.2,465.5 429.4,465.1 429.6,465.9 429.8,465.7 430.0,464.3 430.2,464.1 430.4,462.8 430.6,465.6 430.8,463.5 431.0,464.9 431.2,466.3 431.4,464.4 431.6,462.5 431.8,463.1 432.0,464.0 432.2,466.1 432.4,464.1 432.6,464.4 432.8,463.3 433.0,465.1 433.2,464.8 433.4,466.5 433.6,466.3 433.8,469.1 434.0,465.2 434.2,464.4 434.4,464.4 434.6,464.9 434.8,465.7 435.0,462.7 435.2,465.2 435.4,462.5 435.6,460.1 435.8,459.7 436.0,460.6 436.2,460.6 436.4,460.5 436.6,461.3 436.8,461.2 437.0,464.7 437.2,465.6 437.4,465.8 437.6,465.8 437.8,463.9 438.0,460.0 438.2,462.0 438.4,462.1 438.6,465.6 438.8,465.9 439.0,465.3 439.2,463.7 439.4,463.6 439.6,463.7 439.8,465.0 440.0,465.3 440.2,465.7 440.4,463.1 440.6,465.4 440.8,465.2 441.0,462.5 441.2,462.1 441.4,464.8 441.6,466.8 441.8,466.7 442.0,466.7 442.2,462.8 442.4,465.8 442.6,463.1 442.8,464.2 443.0,461.8 443.2,462.6 443.4,460.7 443.6,460.3 443.8,460.6 444.0,459.0 444.2,458.9 444.4,457.6 444.6,456.5 444.8,456.6 445.0,456.1 445.2,455.8 445.4,455.7 445.6,454.5 445.8,454.3 446.0,453.3 446.2,453.3 446.4,453.0 446.6,454.0 446.8,453.9 447.0,453.5 447.2,453.4 447.4,452.4 447.6,451.8 447.8,452.0 448.0,451.0 448.2,451.0 448.4,450.3 448.6,449.8 448.8,449.7 449.0,449.8 449.2,450.4 449.4,450.9 449.6,450.4 449.8,452.3 450.0,453.8 450.2,455.0 450.4,455.0 450.6,455.6 450.8,456.1 451.0,455.9 451.2,457.6 451.4,458.7 451.6,458.9 451.8,459.2 452.0,460.8 452.2,460.9 452.4,460.2 452.6,461.5 452.8,462.7 453.0,462.8 453.2,460.2 453.4,458.8 453.6,459.8 453.8,464.3 454.0,464.1 454.2,464.3 454.4,463.7 454.6,464.3 454.8,466.3 455.0,464.4 455.2,467.6 455.4,466.0 455.6,465.7 455.8,465.2 456.0,464.4 456.2,465.0 456.4,463.5 456.6,465.4 456.8,463.0 457.0,467.9 457.2,465.3 457.4,463.5 457.6,465.7 457.8,465.5 458.0,464.7 458.2,465.7 458.4,464.4 458.6,464.4 458.8,462.2 459.0,461.0 459.2,461.2 459.4,464.1 459.6,461.9 459.8,466.6 460.0,465.5 460.2,465.9 460.4,464.9 460.6,466.2 460.8,465.1 461.0,465.4 461.2,465.2 461.4,464.4 461.6,463.9 461.8,465.6 462.0,465.7 462.2,464.8 462.4,466.4 462.6,465.1 462.8,465.5 463.0,466.2 463.2,465.7 463.4,464.6 463.6,463.5 463.8,463.9 464.0,463.5 464.2,465.8 464.4,460.9 464.6,467.3 464.8,463.8 465.0,466.2 465.2,465.3 465.4,465.6 465.6,463.4 465.8,466.3 466.0,464.9 466.2,465.9 466.4,463.9 466.6,465.1 466.8,464.3 467.0,465.6 467.2,466.1 467.4,465.1 467.6,465.9 467.8,466.1 468.0,465.4 468.2,465.2 468.4,463.2 468.6,466.9 468.8,465.9 469.0,465.4 469.2,466.0 469.4,465.2 469.6,465.4 469.8,464.9 470.0,459.9 470.2,458.9 470.4,461.2 470.6,462.1 470.8,463.4 471.0,466.1 471.2,466.9 471.4,464.5 471.6,464.7 471.8,462.4 472.0,465.0 472.2,463.0 472.4,462.9 472.6,463.0 472.8,461.4 473.0,460.9 473.2,461.6 473.4,459.0 473.6,456.4 473.8,458.2 474.0,458.9 474.2,459.5 474.4,459.5 474.6,459.0 474.8,458.2 475.0,458.3 475.2,458.3 475.4,457.5 475.6,457.5 475.8,458.2 476.0,460.0 476.2,460.7 476.4,461.3 476.6,461.5 476.8,463.2 477.0,465.2 477.2,465.8 477.4,464.9 477.6,461.9 477.8,463.0 478.0,464.1 478.2,463.1 478.4,466.7 478.6,467.3 478.8,466.8 479.0,463.8 479.2,465.7 479.4,465.7 479.6,465.8 479.8,463.6 480.0,466.7 480.2,467.5 480.4,466.5 480.6,467.9 480.8,465.1 481.0,462.7 481.2,460.6 481.4,461.0 481.6,464.8 481.8,464.4 482.0,465.3 482.2,462.1 482.4,462.6 482.6,462.1 482.8,464.6 483.0,464.0 483.2,464.9 483.4,465.3 483.6,464.1 483.8,464.4 484.0,464.6 484.2,464.3 484.4,465.2 484.6,463.9 484.8,464.9 485.0,464.4 485.2,464.0 485.4,463.4 485.6,461.5 485.8,460.5 486.0,459.8 486.2,460.7 486.4,465.1 486.6,463.5 486.8,464.2 487.0,462.8 487.2,466.1 487.4,463.1 487.6,466.1 487.8,469.4 488.0,471.1 488.2,469.2 488.4,469.9 488.6,470.5 488.8,471.3 489.0,469.6 489.2,469.0 489.4,469.2 489.6,466.2 489.8,464.5 490.0,464.6 490.2,463.4 490.4,460.4 490.6,462.0 490.8,464.5 491.0,463.2 491.2,463.3 491.4,466.3 491.6,465.9 491.8,467.0 492.0,467.2 492.2,465.9 492.4,467.9 492.6,463.6 492.8,466.2 493.0,467.9 493.2,466.7 493.4,465.0 493.6,466.6 493.8,464.8 494.0,463.3 494.2,465.0 494.4,463.8 494.6,461.4 494.8,461.8 495.0,462.9 495.2,463.6 495.4,461.6 495.6,463.3 495.8,465.4 496.0,466.4 496.2,466.0 496.4,468.8 496.6,468.8 496.8,466.7 497.0,463.2 497.2,462.5 497.4,461.9 497.6,461.7 497.8,460.5 498.0,460.0 498.2,460.0 498.4,459.6 498.6,458.1 498.8,457.1 499.0,455.5 499.2,456.7 499.4,456.8 499.6,458.5 499.8,459.3 500.0,459.9 500.2,459.4 500.4,459.8 500.6,460.6 500.8,461.4 501.0,461.2 501.2,462.2 501.4,462.0 501.6,462.8 501.8,460.4 502.0,462.2 502.2,462.7 502.4,461.5 502.6,458.6 502.8,462.2 503.0,461.8 503.2,464.3 503.4,465.6 503.6,465.4 503.8,465.9 504.0,466.0 504.2,467.1 504.4,466.6 504.6,466.2 504.8,465.8 505.0,466.1 505.2,467.2 505.4,468.2 505.6,467.8 505.8,467.2 506.0,468.1 506.2,467.1 506.4,467.9 506.6,469.5 506.8,470.6 507.0,473.2 507.2,473.6 507.4,471.7 507.6,470.9 507.8,468.7 508.0,468.9 508.2,469.0 508.4,470.2 508.6,469.3 508.8,469.4 509.0,470.1 509.2,470.2 509.4,471.1 509.6,468.7 509.8,470.3 510.0,467.9 510.2,469.5 510.4,467.8 510.6,467.4 510.8,468.3 511.0,467.0 511.2,467.5 511.4,464.5 511.6,468.7 511.8,463.8 512.0,465.7 512.2,468.7 512.4,468.5 512.6,466.3 512.8,465.6 513.0,464.2 513.2,463.6 513.4,463.3 513.6,463.1 513.8,463.0 514.0,462.7 514.2,461.2 514.4,461.8 514.6,461.4 514.8,460.4 515.0,460.8 515.2,461.0 515.4,461.3 515.6,461.2 515.8,461.8 516.0,462.2 516.2,461.9 516.4,461.8 516.6,462.0 516.8,464.6 517.0,463.4 517.2,462.7 517.4,462.6 517.6,462.6 517.8,464.8 518.0,465.9 518.2,467.2 518.4,466.2 518.6,464.6 518.8,463.6 519.0,464.4 519.2,464.9 519.4,468.6 519.6,468.3 519.8,469.3 520.0,469.2 520.2,471.4 520.4,469.5 520.6,468.0 520.8,469.3 521.0,469.6 521.2,472.0 521.4,469.7 521.6,468.9 521.8,467.6 522.0,466.3 522.2,466.5 522.4,468.8 522.6,468.7 522.8,467.4 523.0,466.8 523.2,467.0 523.4,467.9 523.6,466.0 523.8,468.5 524.0,466.5 524.2,466.2 524.4,467.4 524.6,469.5 524.8,466.6 525.0,467.0 525.2,466.1 525.4,467.7 525.6,467.7 525.8,467.3 526.0,465.3 526.2,464.5 526.4,463.6 526.6,462.9 526.8,464.2 527.0,465.3 527.2,466.8 527.4,468.7 527.6,466.3 527.8,467.5 528.0,469.2 528.2,468.6 528.4,470.6 528.6,470.4 528.8,467.1 529.0,468.7 529.2,466.1 529.4,467.3 529.6,465.5 529.8,465.4 530.0,466.8 530.2,468.9 530.4,469.8 530.6,470.0 530.8,468.5 531.0,468.3 531.2,467.9 531.4,467.8 531.6,466.6 531.8,466.5 532.0,467.5 532.2,467.5 532.4,466.3 532.6,465.7 532.8,466.3 533.0,469.8 533.2,463.7 533.4,464.5 533.6,466.3 533.8,468.3 534.0,466.7 534.2,470.7 534.4,472.7 534.6,473.4 534.8,472.2 535.0,470.1 535.2,471.5 535.4,468.6 535.6,470.2 535.8,470.8 536.0,470.5 536.2,468.0 536.4,467.1 536.6,467.4 536.8,468.8 537.0,467.8 537.2,467.2 537.4,464.4 537.6,462.3 537.8,463.5 538.0,461.8 538.2,461.8 538.4,461.1 538.6,463.1 538.8,465.1 539.0,466.2 539.2,469.1 539.4,469.1 539.6,471.6 539.8,469.2 540.0,467.4 540.2,464.9 540.4,464.4 540.6,462.7 540.8,461.3 541.0,464.8 541.2,467.1 541.4,466.7 541.6,466.2 541.8,466.7 542.0,465.3 542.2,465.3 542.4,466.8 542.6,465.6 542.8,466.9 543.0,465.2 543.2,466.5 543.4,467.1 543.6,465.6 543.8,466.8 544.0,465.1 544.2,461.0 544.4,466.3 544.6,463.1 544.8,468.4 545.0,464.6 545.2,463.4 545.4,464.1 545.6,466.2 545.8,464.5 546.0,465.0 546.2,467.1 546.4,464.6 546.6,466.3 546.8,467.3 547.0,463.8 547.2,464.6 547.4,466.2 547.6,466.0 547.8,466.4 548.0,463.9 548.2,465.2 548.4,466.7 548.6,467.0 548.8,467.8 549.0,465.9 549.2,465.0 549.4,463.5 549.6,462.5 549.8,461.2 550.0,465.4 550.2,464.4 550.4,465.5 550.6,466.0 550.8,467.4 551.0,466.9 551.2,465.9 551.4,468.0 551.6,467.2 551.8,466.2 552.0,463.9 552.2,462.9 552.4,464.5 552.6,466.2 552.8,468.1 553.0,466.7 553.2,471.5 553.4,469.0 553.6,466.5 553.8,466.6 554.0,469.0 554.2,466.7 554.4,466.7 554.6,467.6 554.8,464.6 555.0,466.6 555.2,467.6 555.4,465.7 555.6,467.5 555.8,466.0 556.0,465.1 556.2,467.9 556.4,466.9 556.6,467.7 556.8,467.0 557.0,465.6 557.2,468.0 557.4,467.3 557.6,467.3 557.8,466.4 558.0,465.6 558.2,468.5 558.4,467.8 558.6,467.1 558.8,466.2 559.0,470.3 559.2,470.0 559.4,471.1 559.6,471.7 559.8,469.2 560.0,468.0 560.2,467.8 560.4,469.4 560.6,467.7 560.8,467.3 561.0,463.8 561.2,463.7 561.4,464.2 561.6,467.4 561.8,467.9 562.0,468.8 562.2,469.6 562.4,467.5 562.6,467.2 562.8,468.8 563.0,467.6 563.2,470.4 563.4,470.1 563.6,467.8 563.8,469.1 564.0,470.3 564.2,468.0 564.4,468.5 564.6,469.0 564.8,470.5 565.0,469.7 565.2,468.9 565.4,466.9 565.6,464.0 565.8,464.7 566.0,468.0 566.2,469.1 566.4,469.4 566.6,468.7 566.8,468.4 567.0,468.3 567.2,466.9 567.4,468.1 567.6,470.4 567.8,468.5 568.0,469.1 568.2,469.5 568.4,468.1 568.6,468.3 568.8,469.2 569.0,467.7 569.2,469.6 569.4,469.4 569.6,469.0 569.8,469.1 570.0,469.7 570.2,469.1 570.4,466.4 570.6,469.6 570.8,468.1 571.0,468.6 571.2,468.7 571.4,468.8 571.6,467.4 571.8,467.2 572.0,469.1 572.2,469.3 572.4,469.7 572.6,467.8 572.8,468.8 573.0,469.9 573.2,468.7 573.4,468.4 573.6,471.0 573.8,467.1 574.0,467.9 574.2,467.5 574.4,468.0 574.6,471.6 574.8,465.8 575.0,463.7 575.2,462.1 575.4,462.1 575.6,464.6 575.8,466.3 576.0,469.2 576.2,469.5 576.4,467.4 576.6,467.8 576.8,463.6 577.0,463.4 577.2,463.3 577.4,463.2 577.6,465.3 577.8,467.9 578.0,468.5 578.2,468.2 578.4,470.0 578.6,467.7 578.8,469.2 579.0,470.2 579.2,467.3 579.4,467.5 579.6,466.9 579.8,468.9 580.0,469.7 580.2,466.3 580.4,467.3 580.6,467.7 580.8,470.7 581.0,468.1 581.2,468.9 581.4,467.3 581.6,469.5 581.8,467.5 582.0,468.6 582.2,467.5 582.4,468.6 582.6,468.5 582.8,468.9 583.0,468.9 583.2,470.5 583.4,467.8 583.6,470.0 583.8,468.9 584.0,468.3 584.2,468.8 584.4,468.8 584.6,470.7 584.8,471.7 585.0,472.5 585.2,471.9 585.4,468.9 585.6,470.0 585.8,469.4 586.0,468.6 586.2,468.5 586.4,467.3 586.6,468.5 586.8,471.8 587.0,472.8 587.2,472.2 587.4,468.9 587.6,469.7 587.8,467.9 588.0,466.5 588.2,468.6 588.4,469.9 588.6,468.3 588.8,468.1 589.0,468.8 589.2,470.3 589.4,468.3 589.6,468.3 589.8,469.1 590.0,467.8 590.2,466.9 590.4,468.9 590.6,468.4 590.8,469.1 591.0,467.8 591.2,466.1 591.4,463.1 591.6,464.0 591.8,462.6 592.0,462.3 592.2,462.9 592.4,467.2 592.6,467.4 592.8,466.8 593.0,469.3 593.2,468.7 593.4,468.2 593.6,469.4 593.8,470.8 594.0,469.0 594.2,468.4 594.4,470.6 594.6,470.2 594.8,469.1 595.0,468.4 595.2,469.7 595.4,468.2 595.6,468.3 595.8,468.1 596.0,469.5 596.2,470.4 596.4,468.9 596.6,470.6 596.8,466.9 597.0,468.8 597.2,468.6 597.4,473.1 597.6,474.6 597.8,473.0 598.0,472.0 598.2,470.6 598.4,467.5 598.6,468.1 598.8,468.0 599.0,469.0 599.2,468.3 599.4,467.9 599.6,468.3 599.8,469.0 600.0,469.2 600.2,468.9 600.4,470.2 600.6,468.6 600.8,468.4 601.0,467.9 601.2,465.8 601.4,465.8 601.6,465.1 601.8,464.8 602.0,464.9 602.2,466.2 602.4,468.1 602.6,469.7 602.8,468.0 603.0,468.1 603.2,467.3 603.4,467.1 603.6,469.6 603.8,468.5 604.0,469.1 604.2,469.6 604.4,468.5 604.6,468.6 604.8,467.5 605.0,467.9 605.2,468.9 605.4,469.9 605.6,469.5 605.8,467.7 606.0,467.6 606.2,469.1 606.4,468.9 606.6,468.9 606.8,468.5 607.0,469.5 607.2,468.4 607.4,469.6 607.6,468.6 607.8,467.9 608.0,466.7 608.2,468.0 608.4,469.3 608.6,469.3 608.8,468.9 609.0,468.1 609.2,468.7 609.4,469.9 609.6,464.3 609.8,463.0 610.0,461.9 610.2,461.7 610.4,461.2 610.6,463.2 610.8,466.1 611.0,464.7 611.2,466.2 611.4,464.6 611.6,465.7 611.8,466.1 612.0,465.4 612.2,463.9 612.4,465.9 612.6,465.9 612.8,465.2 613.0,466.0 613.2,464.5 613.4,462.9 613.6,461.4 613.8,461.1 614.0,463.6 614.2,464.2 614.4,465.2 614.6,465.0 614.8,462.9 615.0,461.8 615.2,464.8 615.4,467.0 615.6,460.1 615.8,458.6 616.0,458.1 616.2,459.5 616.4,463.9 616.6,465.1 616.8,463.9 617.0,464.0 617.2,464.8 617.4,464.1 617.6,461.6 617.8,465.2 618.0,464.6 618.2,461.9 618.4,462.7 618.6,463.4 618.8,464.7 619.0,466.4 619.2,468.2 619.4,468.4 619.6,464.9 619.8,463.3 620.0,461.7 620.2,460.1 620.4,462.6 620.6,462.4 620.8,463.7 621.0,464.4 621.2,463.9 621.4,461.5 621.6,459.6 621.8,460.8 622.0,461.8 622.2,462.6 622.4,465.0 622.6,463.0 622.8,464.2 623.0,466.9 623.2,466.1 623.4,466.7 623.6,465.5 623.8,467.1 624.0,465.1 624.2,465.3 624.4,466.3 624.6,466.0 624.8,468.4 625.0,467.0 625.2,468.6 625.4,472.5 625.6,472.1 625.8,468.2 626.0,462.6 626.2,463.1 626.4,463.8 626.6,467.9 626.8,467.4 627.0,467.0 627.2,469.1 627.4,466.9 627.6,467.2 627.8,466.9 628.0,466.8 628.2,467.9 628.4,467.8 628.6,467.7 628.8,466.9 629.0,466.7 629.2,467.5 629.4,468.1 629.6,467.3 629.8,467.8 630.0,467.9 630.2,467.3 630.4,466.7 630.6,468.1 630.8,469.9 631.0,468.8 631.2,468.2 631.4,467.6 631.6,467.6 631.8,469.4 632.0,467.1 632.2,470.1 632.4,468.3 632.6,468.6 632.8,467.9 633.0,469.3 633.2,469.3 633.4,467.5 633.6,470.2 633.8,468.5 634.0,466.7 634.2,468.8 634.4,468.6 634.6,468.4 634.8,469.1 635.0,469.3 635.2,467.0 635.4,468.0 635.6,468.1 635.8,468.3 636.0,466.4 636.2,468.5 636.4,468.3 636.6,470.2 636.8,467.4 637.0,467.8 637.2,468.8 637.4,468.3 637.6,469.2 637.8,469.6 638.0,468.1 638.2,470.4 638.4,471.9 638.6,471.4 638.8,470.5 639.0,466.0 639.2,468.1 639.4,470.2 639.6,472.9 639.8,470.4 640.0,470.6 640.2,467.6 640.4,468.5 640.6,468.8 640.8,468.5 641.0,467.9 641.2,469.0 641.4,467.1 641.6,466.3 641.8,466.6 642.0,468.9 642.2,469.5 642.4,467.3 642.6,467.4 642.8,468.4 643.0,466.5 643.2,466.3 643.4,464.4 643.6,464.6 643.8,463.2 644.0,464.9 644.2,465.7 644.4,467.6 644.6,468.1 644.8,467.5 645.0,469.7 645.2,469.7 645.4,470.9 645.6,471.3 645.8,470.1 646.0,467.8 646.2,469.6 646.4,467.5 646.6,466.2 646.8,466.0 647.0,468.0 647.2,464.2 647.4,467.5 647.6,467.9 647.8,466.5 648.0,467.2 648.2,468.4 648.4,468.5 648.6,468.4 648.8,467.9 649.0,466.2 649.2,463.0 649.4,461.3 649.6,464.5 649.8,466.1 650.0,465.2 650.2,467.9 650.4,466.7 650.6,467.5 650.8,467.6 651.0,471.3 651.2,467.5 651.4,466.9 651.6,468.0 651.8,467.6 652.0,467.2 652.2,465.4 652.4,466.3 652.6,465.5 652.8,465.9 653.0,468.5 653.2,466.8 653.4,467.3 653.6,467.0 653.8,469.3 654.0,471.4 654.2,472.2 654.4,469.6 654.6,467.6 654.8,464.5 655.0,460.5 655.2,462.9 655.4,465.4 655.6,465.6 655.8,467.8 656.0,466.0 656.2,466.2 656.4,463.9 656.6,466.9 656.8,465.3 657.0,466.2 657.2,465.3 657.4,463.9 657.6,462.6 657.8,460.5 658.0,460.2 658.2,461.7 658.4,463.1 658.6,462.9 658.8,466.4 659.0,464.9 659.2,464.6 659.4,466.1 659.6,466.2 659.8,464.5 660.0,466.4 660.2,465.2 660.4,467.8 660.6,463.5 660.8,464.9 661.0,464.9 661.2,464.2 661.4,463.6 661.6,466.7 661.8,465.5 662.0,463.6 662.2,464.5 662.4,464.7 662.6,465.6 662.8,464.0 663.0,466.9 663.2,465.2 663.4,466.9 663.6,465.9 663.8,464.9 664.0,465.0 664.2,465.7 664.4,465.4 664.6,465.6 664.8,466.2 665.0,466.8 665.2,463.4 665.4,460.9 665.6,460.3 665.8,464.0 666.0,464.6 666.2,462.8 666.4,462.2 666.6,461.1 666.8,460.3 667.0,463.2 667.2,468.7 667.4,469.4 667.6,466.2 667.8,467.6 668.0,466.3 668.2,464.6 668.4,465.6 668.6,463.3 668.8,465.8 669.0,464.4 669.2,463.8 669.4,463.0 669.6,465.7 669.8,464.8 670.0,464.0 670.2,466.0 670.4,464.5 670.6,465.2 670.8,464.3 671.0,466.0 671.2,465.4 671.4,467.5 671.6,468.5 671.8,466.6 672.0,465.8 672.2,466.2 672.4,466.0 672.6,469.3 672.8,470.0 673.0,470.4 673.2,468.2 673.4,469.4 673.6,468.0 673.8,466.0 674.0,465.8 674.2,465.8 674.4,465.1 674.6,465.3 674.8,466.1 675.0,463.8" fill="none" stroke="#008080" stroke-width="2.6" stroke-linejoin="round"/>
</g>
<line x1="169.9" y1="46.6" x2="168.5" y2="473" stroke="#000" stroke-width="1.2" stroke-dasharray="4.2 2.5"/>
<line x1="212.5" y1="53" x2="213.5" y2="473" stroke="#000" stroke-width="1.2" stroke-dasharray="4.2 2.5"/>
<line x1="226.3" y1="53" x2="225" y2="473" stroke="#000" stroke-width="1.2" stroke-dasharray="4.2 2.5"/>
<line x1="252.2" y1="54.2" x2="250.7" y2="473.5" stroke="#000" stroke-width="1.2" stroke-dasharray="4.2 2.5"/>
<line x1="303.9" y1="51.7" x2="302.4" y2="476" stroke="#000" stroke-width="1.2" stroke-dasharray="4.2 2.5"/>
<line x1="344.2" y1="51.7" x2="342.6" y2="476" stroke="#000" stroke-width="1.2" stroke-dasharray="4.2 2.5"/>
<line x1="381" y1="49.7" x2="379.8" y2="479" stroke="#000" stroke-width="1.2" stroke-dasharray="4.2 2.5"/>
<line x1="419.4" y1="56.8" x2="420" y2="476" stroke="#000" stroke-width="1.2" stroke-dasharray="4.2 2.5"/>
<line x1="499.7" y1="45.2" x2="499.4" y2="480" stroke="#000" stroke-width="1.2" stroke-dasharray="4.2 2.5"/>
<line x1="263" y1="353.5" x2="263" y2="478" stroke="#000" stroke-width="1.2" stroke-dasharray="4.2 2.5"/>
<line x1="297.3" y1="353.5" x2="297.3" y2="478" stroke="#000" stroke-width="1.2" stroke-dasharray="4.2 2.5"/>
<line x1="448" y1="362" x2="449.8" y2="477" stroke="#000" stroke-width="1.2" stroke-dasharray="4.2 2.5"/>
<line x1="475.8" y1="366" x2="475.4" y2="480" stroke="#000" stroke-width="1.2" stroke-dasharray="4.2 2.5"/>
<line x1="58.87" y1="483" x2="58.87" y2="488" stroke="#000" stroke-width="2"/>
<line x1="106.10" y1="478" x2="106.10" y2="488" stroke="#000" stroke-width="2"/>
<line x1="153.33" y1="483" x2="153.33" y2="488" stroke="#000" stroke-width="2"/>
<line x1="200.57" y1="478" x2="200.57" y2="488" stroke="#000" stroke-width="2"/>
<line x1="247.80" y1="483" x2="247.80" y2="488" stroke="#000" stroke-width="2"/>
<line x1="295.04" y1="478" x2="295.04" y2="488" stroke="#000" stroke-width="2"/>
<line x1="342.27" y1="483" x2="342.27" y2="488" stroke="#000" stroke-width="2"/>
<line x1="389.51" y1="478" x2="389.51" y2="488" stroke="#000" stroke-width="2"/>
<line x1="436.74" y1="483" x2="436.74" y2="488" stroke="#000" stroke-width="2"/>
<line x1="483.98" y1="478" x2="483.98" y2="488" stroke="#000" stroke-width="2"/>
<line x1="531.21" y1="483" x2="531.21" y2="488" stroke="#000" stroke-width="2"/>
<line x1="578.45" y1="478" x2="578.45" y2="488" stroke="#000" stroke-width="2"/>
<line x1="625.68" y1="483" x2="625.68" y2="488" stroke="#000" stroke-width="2"/>
<g class="txt">
<text transform="translate(11.53,517.5) scale(0.9,1)" text-anchor="middle" class="tb">10</text>
<text transform="translate(106.00,517.5) scale(0.9,1)" text-anchor="middle" class="tb">20</text>
<text transform="translate(200.47,517.5) scale(0.9,1)" text-anchor="middle" class="tb">30</text>
<text transform="translate(294.94,517.5) scale(0.9,1)" text-anchor="middle" class="tb">40</text>
<text transform="translate(389.41,517.5) scale(0.9,1)" text-anchor="middle" class="tb">50</text>
<text transform="translate(483.88,517.5) scale(0.9,1)" text-anchor="middle" class="tb">60</text>
<text transform="translate(578.35,517.5) scale(0.9,1)" text-anchor="middle" class="tb">70</text>
<text transform="translate(672.82,517.5) scale(0.9,1)" text-anchor="middle" class="tb">80</text>
<text x="168" y="41" text-anchor="middle" class="pl">1</text>
<text x="209.2" y="42.4" text-anchor="middle" class="pl">5</text>
<text x="227.2" y="41" text-anchor="middle" class="pl">2</text>
<text x="260.2" y="41" text-anchor="middle" class="pl">2/3/4</text>
<text x="304.8" y="40.4" text-anchor="middle" class="pl">6</text>
<text x="345.5" y="41.5" text-anchor="middle" class="pl">5</text>
<text x="381.8" y="41" text-anchor="middle" class="pl">2</text>
<text x="420.4" y="41" text-anchor="middle" class="pl">2</text>
<text x="500.3" y="39.3" text-anchor="middle" class="pl">2</text>
<text x="263.4" y="346.2" text-anchor="middle" class="pl">5</text>
<text x="298.2" y="352.7" text-anchor="middle" class="pl">5</text>
<text x="448.3" y="360.6" text-anchor="middle" class="pl">5</text>
<text x="475.5" y="358" text-anchor="middle" class="pl">7</text>
<text x="569" y="42" class="lg">1-SiO<tspan class="sb" dy="8">2</tspan></text>
<text x="569" y="71.6" class="lg">2-FeTiO<tspan class="sb" dy="8">3</tspan></text>
<text x="569" y="99.2" class="lg">3-MnFeO<tspan class="sb" dy="8">4</tspan></text>
<text x="569" y="127.7" class="lg">4-Fe<tspan class="sb" dy="8">2</tspan><tspan dy="-8">O</tspan><tspan class="sb" dy="8">3</tspan></text>
<text x="569" y="154.1" class="lg">5-TiO<tspan class="sb" dy="8">2</tspan></text>
<text x="569" y="181.3" class="lg">6-Mn<tspan class="sb" dy="8">3</tspan><tspan dy="-8">O</tspan><tspan class="sb" dy="8">4</tspan></text>
<text x="569" y="208.1" class="lg">7-SiC</text>
<text x="24.3" y="178.0" class="sl">(a)</text>
<text x="24.3" y="280.0" class="sl">(b)</text>
<text x="24.3" y="358.9" class="sl">(c)</text>
<text x="24.3" y="438.9" class="sl">(d)</text>
<text transform="translate(342.5,556.8) scale(0.98,1)" text-anchor="middle" class="xt">2 Theta (°)</text>
</g>
</svg>
</body></html>
